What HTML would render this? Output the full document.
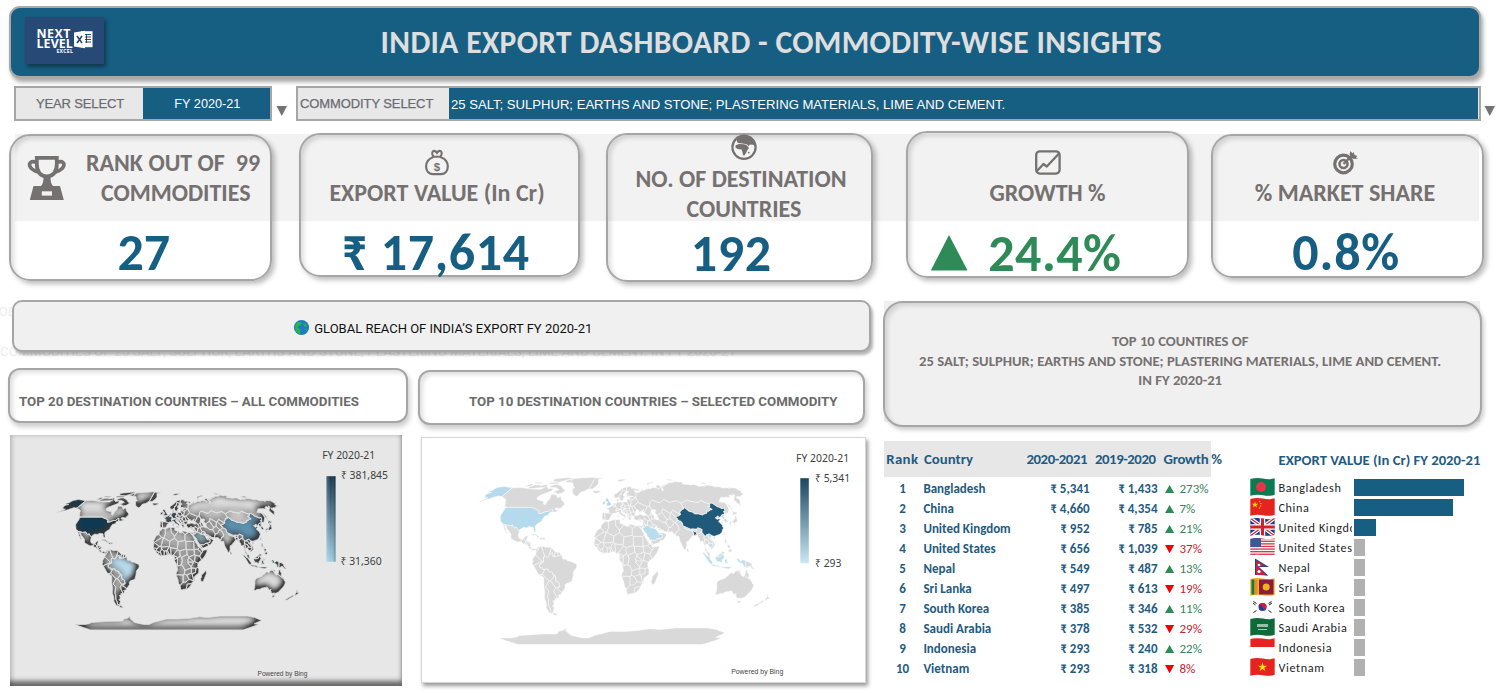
<!DOCTYPE html>
<html><head><meta charset="utf-8"><title>India Export Dashboard</title>
<style>
html,body{margin:0;padding:0;}
body{width:1503px;height:693px;position:relative;overflow:hidden;background:#fff;font-family:Carlito, "Liberation Sans", sans-serif;}
.t{position:absolute;white-space:nowrap;}
.b{position:absolute;box-sizing:border-box;}
</style></head><body>
<div class="b" style="left:9px;top:6.3px;width:1472px;height:71.4px;background:#175e83;border:2px solid #a9a9a9;border-radius:11px;box-shadow:2px 4px 4px rgba(0,0,0,.35);"></div>
<div class="b" style="left:25px;top:17px;width:79px;height:47px;background:#264a75;box-shadow:2px 3px 4px rgba(0,0,0,.4);"></div>
<div class="t " style="left:36.5px;top:27.5px;font-size:12.4px;line-height:12.4px;color:#fff;font-weight:700;font-family:'Open Sans', Carlito, sans-serif;letter-spacing:0.5px;">NEXT</div>
<div class="t " style="left:36.5px;top:37.5px;font-size:12.4px;line-height:12.4px;color:#fff;font-weight:700;font-family:'Open Sans', Carlito, sans-serif;letter-spacing:0.1px;">LEVEL</div>
<div class="t " style="left:56.5px;top:48.8px;font-size:5.2px;line-height:5.2px;color:#fff;font-weight:700;font-family:'Open Sans', Carlito, sans-serif;letter-spacing:0.2px;">EXCEL</div>
<svg class="b" style="left:73px;top:30px" width="21" height="19" viewBox="0 0 21 19">
<path d="M8 1.2 L19.5 1.2 L19.5 17.2 L8 17.2 Z" fill="#fff"/>
<path d="M10.5 4.5h7.5M10.5 7h7.5M10.5 9.5h7.5M10.5 12h7.5M13.5 4v9" stroke="#264a75" stroke-width="1"/>
<path d="M1 2.5 L12 0.8 L12 18.2 L1 16.6 Z" fill="#fff"/>
<path d="M4 6 L9 13 M9 6 L4 13" stroke="#264a75" stroke-width="1.6"/>
</svg>
<div class="t " style="left:380.6px;top:26.7px;font-size:31.5px;line-height:31.5px;color:#dedede;font-weight:700;letter-spacing:0.33px;">INDIA EXPORT DASHBOARD - COMMODITY-WISE INSIGHTS</div>
<div class="b" style="left:14px;top:86px;width:258px;height:35px;background:#e8e8e8;border:2px solid #a6a6a6;box-sizing:border-box;"></div>
<div class="b" style="left:143px;top:88px;width:127px;height:31px;background:#175e83;"></div>
<div class="t " style="left:36.0px;top:97.0px;font-size:13px;line-height:13px;color:#6b6c71;font-weight:400;font-family:'Liberation Sans', sans-serif;letter-spacing:-0.15px;-webkit-text-stroke:0.25px #6b6c71;">YEAR SELECT</div>
<div class="t" style="left:147.4px;width:120px;text-align:center;top:97.8px;font-size:12.7px;line-height:12.7px;color:#fff;font-weight:400;font-family:'Liberation Sans', sans-serif;">FY 2020-21</div>
<svg class="b" style="left:276px;top:105px" width="12" height="12"><path d="M0.5 1 L11 1 L5.75 11 Z" fill="#737373"/></svg>
<div class="b" style="left:296px;top:86px;width:1185px;height:35px;background:#e8e8e8;border:2px solid #a6a6a6;box-sizing:border-box;"></div>
<div class="b" style="left:449px;top:88px;width:1029px;height:31px;background:#175e83;"></div>
<div class="t " style="left:300.0px;top:97.0px;font-size:13px;line-height:13px;color:#6b6c71;font-weight:400;font-family:'Liberation Sans', sans-serif;letter-spacing:-0.1px;-webkit-text-stroke:0.25px #6b6c71;">COMMODITY SELECT</div>
<div class="t " style="left:451.0px;top:97.5px;font-size:13.1px;line-height:13.1px;color:#fff;font-weight:400;font-family:'Liberation Sans', sans-serif;">25 SALT; SULPHUR; EARTHS AND STONE; PLASTERING MATERIALS, LIME AND CEMENT.</div>
<svg class="b" style="left:1484px;top:105px" width="12" height="12"><path d="M0.5 1 L11 1 L5.75 11 Z" fill="#737373"/></svg>
<div class="b" style="left:15px;top:134px;width:1464px;height:87px;background:#f2f2f2;"></div>
<div class="b" style="left:9px;top:134px;width:263px;height:147px;border:2px solid #a6a6a6;border-radius:21px;box-sizing:border-box;box-shadow:inset 3px 3px 4px rgba(0,0,0,.13), 3px 3px 5px rgba(0,0,0,.26);"></div>
<div class="b" style="left:299px;top:132.5px;width:281px;height:144px;border:2px solid #a6a6a6;border-radius:21px;box-sizing:border-box;box-shadow:inset 3px 3px 4px rgba(0,0,0,.13), 3px 3px 5px rgba(0,0,0,.26);"></div>
<div class="b" style="left:606px;top:133px;width:267px;height:149px;border:2px solid #a6a6a6;border-radius:21px;box-sizing:border-box;box-shadow:inset 3px 3px 4px rgba(0,0,0,.13), 3px 3px 5px rgba(0,0,0,.26);"></div>
<div class="b" style="left:906px;top:131px;width:282.5px;height:147px;border:2px solid #a6a6a6;border-radius:21px;box-sizing:border-box;box-shadow:inset 3px 3px 4px rgba(0,0,0,.13), 3px 3px 5px rgba(0,0,0,.26);"></div>
<div class="b" style="left:1210.5px;top:133.5px;width:273.5px;height:144px;border:2px solid #a6a6a6;border-radius:21px;box-sizing:border-box;box-shadow:inset 3px 3px 4px rgba(0,0,0,.13), 3px 3px 5px rgba(0,0,0,.26);"></div>
<div class="t " style="left:86.0px;top:150.5px;font-size:24px;line-height:24px;color:#767171;font-weight:700;">RANK OUT OF&nbsp; 99</div>
<div class="t " style="left:101.0px;top:180.8px;font-size:24px;line-height:24px;color:#767171;font-weight:700;">COMMODITIES</div>
<div class="t " style="left:117.5px;top:225.7px;font-size:52px;line-height:52px;color:#175e83;font-weight:700;">27</div>
<div class="t" style="left:137.0px;width:600px;text-align:center;top:181.0px;font-size:24px;line-height:24px;color:#767171;font-weight:700;">EXPORT VALUE (In Cr)</div>
<div class="t " style="left:341.5px;top:225.6px;font-size:52px;line-height:52px;color:#175e83;font-weight:700;letter-spacing:0.6px;">₹ 17,614</div>
<div class="t" style="left:441.0px;width:600px;text-align:center;top:166.5px;font-size:24px;line-height:24px;color:#767171;font-weight:700;">NO. OF DESTINATION</div>
<div class="t" style="left:444.0px;width:600px;text-align:center;top:196.8px;font-size:24px;line-height:24px;color:#767171;font-weight:700;">COUNTRIES</div>
<div class="t " style="left:690.8px;top:227.0px;font-size:52px;line-height:52px;color:#175e83;font-weight:700;letter-spacing:0.6px;">192</div>
<div class="t" style="left:747.5px;width:600px;text-align:center;top:181.3px;font-size:24px;line-height:24px;color:#767171;font-weight:700;">GROWTH %</div>
<svg class="b" style="left:930px;top:234px" width="39" height="38"><path d="M0.8 36.6 L19 1 L37.6 36.6 Z" fill="#2e8b57"/></svg>
<div class="t " style="left:988.3px;top:226.9px;font-size:52px;line-height:52px;color:#2e8b57;font-weight:700;letter-spacing:0.45px;">24.4%</div>
<div class="t" style="left:1045.0px;width:600px;text-align:center;top:181.4px;font-size:24px;line-height:24px;color:#767171;font-weight:700;">% MARKET SHARE</div>
<div class="t " style="left:1292.3px;top:226.3px;font-size:52px;line-height:52px;color:#175e83;font-weight:700;letter-spacing:0.8px;">0.8%</div>
<svg class="b" style="left:24px;top:150px" width="48" height="54" viewBox="0 0 48 54">
<path d="M12.8 7.8 H32.8 V14 C32.8 22 29 26 22.8 26.5 C16.6 26 12.8 22 12.8 14 Z" fill="none" stroke="#767171" stroke-width="3.8"/>
<path d="M12.5 12.3 C7 10.3 4.5 13 6 16.5 C7.3 19.5 10.5 20.8 14 22" fill="none" stroke="#767171" stroke-width="3.6"/>
<path d="M33 12.3 C38.5 10.3 41 13 39.5 16.5 C38.2 19.5 35 20.8 31.5 22" fill="none" stroke="#767171" stroke-width="3.6"/>
<path d="M19.5 27 L26.5 27 C26.5 31 27 34 29 36 L17 36 C19 34 19.5 31 19.5 27 Z" fill="#767171"/>
<path d="M9.5 36 L36 36 L39.8 50 L5.8 50 Z" fill="#767171"/>
<rect x="17.8" y="41.3" width="10.2" height="4.3" fill="#f2f2f2"/>
</svg>
<svg class="b" style="left:420px;top:146px" width="34" height="32" viewBox="0 0 34 32">
<path d="M13.6 11 C8.6 12.6 6.1 16.6 6.1 20.6 C6.1 25.6 9.3 28.2 13 28.2 L21 28.2 C24.7 28.2 27.8 25.6 27.8 20.6 C27.8 16.6 25.3 12.6 20.3 11" fill="none" stroke="#767171" stroke-width="2.2"/>
<path d="M13 10.7 L21 10.7 M13.4 10.5 C11.6 8.2 11.8 5.2 14 4.9 C15.5 4.7 16.3 5.9 16.95 6.9 C17.6 5.9 18.4 4.7 19.9 4.9 C22.1 5.2 22.3 8.2 20.5 10.5" fill="none" stroke="#767171" stroke-width="2.1"/>
<text x="16.9" y="25.3" font-family="Liberation Sans, sans-serif" font-weight="700" font-size="11.5" fill="#767171" text-anchor="middle">$</text>
</svg>
<svg class="b" style="left:726px;top:131px" width="36" height="32" viewBox="0 0 36 32">
<circle cx="18" cy="16.3" r="11.6" fill="#f4f4f4" stroke="#767171" stroke-width="2.2"/>
<path d="M10.5 8.5 C13 6 16 5 19 5 C23 5 26 6.5 28 9 C28.8 11 29 13 28.5 14 L24 13.5 L22.5 15 L20.8 13.2 L16.5 12.5 L12 12 L11 10.5 Z" fill="#767171"/>
<path d="M9.6 14.2 L13 13 L18 13.3 L20.5 14 L23 17 L21.5 19 L20 22 L18.5 24.5 L17 24.2 L16.3 20.5 L15.5 18.5 L11.5 18 L9.4 16.5 Z" fill="#767171"/>
<circle cx="22.8" cy="21.6" r="0.9" fill="#767171"/>
</svg>
<svg class="b" style="left:1030px;top:146px" width="36" height="32" viewBox="0 0 36 32">
<rect x="6.2" y="5.3" width="23.4" height="22.3" rx="3.6" fill="none" stroke="#767171" stroke-width="2.3"/>
<path d="M6.5 25.5 L13.5 18 L16.8 20.5 L29 7.5" fill="none" stroke="#767171" stroke-width="2.3" stroke-linejoin="round"/>
</svg>
<svg class="b" style="left:1328px;top:146px" width="36" height="32" viewBox="0 0 36 32">
<circle cx="15.5" cy="18" r="8.8" fill="none" stroke="#767171" stroke-width="3.2"/>
<circle cx="15.5" cy="18" r="4" fill="none" stroke="#767171" stroke-width="2.6"/>
<path d="M15.5 18 L24 9.5" stroke="#767171" stroke-width="2.4"/>
<path d="M21.5 8.5 L22.5 5 L24.5 7.5 L25.5 5.8 L26.5 9 L29.5 10 L27.8 11.3 L30 12.5 L26 13 L23.5 12 Z" fill="#767171"/>
</svg>
<div class="t " style="left:-17.5px;top:305.2px;font-size:13.5px;line-height:13.5px;color:#ededed;font-weight:400;font-family:Roboto, sans-serif;">GLOBAL REACH OF INDIA</div>
<div class="t " style="left:0.0px;top:345.3px;font-size:13.5px;line-height:13.5px;color:#ededed;font-weight:400;font-family:Roboto, sans-serif;">COMMODITIES OF 25 SALT; SULPHUR; EARTHS AND STONE; PLASTERING MATERIALS, LIME AND CEMENT. IN FY 2020-21</div>
<div class="b" style="left:12.3px;top:300px;width:859px;height:52.3px;background:#f0f0f0;border:2px solid #a6a6a6;border-radius:10px;box-sizing:border-box;box-shadow:2px 3px 3px rgba(0,0,0,.3);"></div>
<svg class="b" style="left:293px;top:319px" width="17" height="17" viewBox="0 0 17 17">
<circle cx="8.5" cy="8.5" r="7.6" fill="#1b7bc4"/>
<path d="M4 3.5 C6 2.5 8 3 9 4 L8 6 L6 6.5 L4.5 8.5 L6.5 9.5 L7.5 12 L7 15.5 C5 15 3.2 13 2.5 11 L2 8 C2.2 6 3 4.5 4 3.5 Z" fill="#2eb34a"/>
<path d="M10 5 L12.5 4.5 L14 6.5 L13 8 L11.5 7.5 Z M12 10 L14 9.5 L13.5 12 Z" fill="#2eb34a"/>
</svg>
<div class="t " style="left:314.2px;top:322.3px;font-size:13px;line-height:13px;color:#111;font-weight:400;font-family:Roboto, sans-serif;">GLOBAL REACH OF INDIA’S EXPORT FY 2020-21</div>
<div class="b" style="left:8px;top:368.3px;width:400px;height:55.2px;background:#fff;border:2px solid #a6a6a6;border-radius:12px;box-sizing:border-box;box-shadow:inset 3px 3px 4px rgba(0,0,0,.12), 2px 4px 5px rgba(0,0,0,.2);"></div>
<div class="t " style="left:19.0px;top:394.7px;font-size:13.3px;line-height:13.3px;color:#6b6b6b;font-weight:700;font-family:Roboto, sans-serif;">TOP 20 DESTINATION COUNTRIES – ALL COMMODITIES</div>
<div class="b" style="left:418.2px;top:370.2px;width:446.5px;height:55.2px;background:#fff;border:2px solid #a6a6a6;border-radius:12px;box-sizing:border-box;box-shadow:inset 3px 3px 4px rgba(0,0,0,.12), 2px 4px 5px rgba(0,0,0,.2);"></div>
<div class="t " style="left:469.0px;top:394.9px;font-size:13.3px;line-height:13.3px;color:#6b6b6b;font-weight:700;font-family:Roboto, sans-serif;">TOP 10 DESTINATION COUNTRIES – SELECTED COMMODITY</div>
<div class="b" style="left:883.5px;top:300.5px;width:596px;height:121px;background:#f0f0f0;"></div>
<div class="b" style="left:883.3px;top:300.6px;width:598.5px;height:126.2px;background:#f0f0f0;border:2px solid #a6a6a6;border-radius:20px;box-sizing:border-box;box-shadow:inset 3px 3px 4px rgba(0,0,0,.12), 2px 3px 4px rgba(0,0,0,.2);"></div>
<div class="t" style="left:900.2px;width:560px;text-align:center;top:333.9px;font-size:14.7px;line-height:14.7px;color:#767171;font-weight:700;">TOP 10 COUNTIRES OF</div>
<div class="t" style="left:885.2px;width:590px;text-align:center;top:354.0px;font-size:14.7px;line-height:14.7px;color:#767171;font-weight:700;">25 SALT; SULPHUR; EARTHS AND STONE; PLASTERING MATERIALS, LIME AND CEMENT.</div>
<div class="t" style="left:900.2px;width:560px;text-align:center;top:373.3px;font-size:14.7px;line-height:14.7px;color:#767171;font-weight:700;">IN FY 2020-21</div>
<div class="b" style="left:884px;top:441px;width:327px;height:36px;background:#e7e7e7;"></div>
<div class="t " style="left:886.2px;top:451.6px;font-size:14.8px;line-height:14.8px;color:#1f5b82;font-weight:700;letter-spacing:0.4px;">Rank</div>
<div class="t " style="left:924.0px;top:451.6px;font-size:14.8px;line-height:14.8px;color:#1f5b82;font-weight:700;">Country</div>
<div class="t " style="left:1026.5px;top:451.6px;font-size:14.8px;line-height:14.8px;color:#1f5b82;font-weight:700;letter-spacing:-0.45px;">2020-2021</div>
<div class="t " style="left:1095.0px;top:451.6px;font-size:14.8px;line-height:14.8px;color:#1f5b82;font-weight:700;letter-spacing:-0.45px;">2019-2020</div>
<div class="t " style="left:1163.5px;top:451.6px;font-size:14.8px;line-height:14.8px;color:#1f5b82;font-weight:700;letter-spacing:-0.3px;">Growth %</div>
<div class="t" style="left:887.6px;width:30px;text-align:center;top:481.8px;font-size:13px;line-height:13px;color:#1f5b82;font-weight:700;">1</div>
<div class="t " style="left:923.4px;top:481.8px;font-size:13px;line-height:13px;color:#1f5b82;font-weight:700;">Bangladesh</div>
<div class="t" style="left:889.6px;width:200px;text-align:right;top:481.8px;font-size:13px;line-height:13px;color:#1f5b82;font-weight:700;">₹ 5,341</div>
<div class="t" style="left:957.5px;width:200px;text-align:right;top:481.8px;font-size:13px;line-height:13px;color:#1f5b82;font-weight:700;">₹ 1,433</div>
<svg class="b" style="left:1164.8px;top:485.0px" width="10" height="9"><path d="M0 8 L4.6 0 L9.2 8 Z" fill="#2e8b57"/></svg>
<div class="t " style="left:1179.5px;top:481.8px;font-size:13px;line-height:13px;color:#3d7f5b;font-weight:400;">273%</div>
<div class="t" style="left:887.6px;width:30px;text-align:center;top:501.8px;font-size:13px;line-height:13px;color:#1f5b82;font-weight:700;">2</div>
<div class="t " style="left:923.4px;top:501.8px;font-size:13px;line-height:13px;color:#1f5b82;font-weight:700;">China</div>
<div class="t" style="left:889.6px;width:200px;text-align:right;top:501.8px;font-size:13px;line-height:13px;color:#1f5b82;font-weight:700;">₹ 4,660</div>
<div class="t" style="left:957.5px;width:200px;text-align:right;top:501.8px;font-size:13px;line-height:13px;color:#1f5b82;font-weight:700;">₹ 4,354</div>
<svg class="b" style="left:1164.8px;top:505.0px" width="10" height="9"><path d="M0 8 L4.6 0 L9.2 8 Z" fill="#2e8b57"/></svg>
<div class="t " style="left:1179.5px;top:501.8px;font-size:13px;line-height:13px;color:#3d7f5b;font-weight:400;">7%</div>
<div class="t" style="left:887.6px;width:30px;text-align:center;top:521.8px;font-size:13px;line-height:13px;color:#1f5b82;font-weight:700;">3</div>
<div class="t " style="left:923.4px;top:521.8px;font-size:13px;line-height:13px;color:#1f5b82;font-weight:700;">United Kingdom</div>
<div class="t" style="left:889.6px;width:200px;text-align:right;top:521.8px;font-size:13px;line-height:13px;color:#1f5b82;font-weight:700;">₹ 952</div>
<div class="t" style="left:957.5px;width:200px;text-align:right;top:521.8px;font-size:13px;line-height:13px;color:#1f5b82;font-weight:700;">₹ 785</div>
<svg class="b" style="left:1164.8px;top:525.0px" width="10" height="9"><path d="M0 8 L4.6 0 L9.2 8 Z" fill="#2e8b57"/></svg>
<div class="t " style="left:1179.5px;top:521.8px;font-size:13px;line-height:13px;color:#3d7f5b;font-weight:400;">21%</div>
<div class="t" style="left:887.6px;width:30px;text-align:center;top:541.8px;font-size:13px;line-height:13px;color:#1f5b82;font-weight:700;">4</div>
<div class="t " style="left:923.4px;top:541.8px;font-size:13px;line-height:13px;color:#1f5b82;font-weight:700;">United States</div>
<div class="t" style="left:889.6px;width:200px;text-align:right;top:541.8px;font-size:13px;line-height:13px;color:#1f5b82;font-weight:700;">₹ 656</div>
<div class="t" style="left:957.5px;width:200px;text-align:right;top:541.8px;font-size:13px;line-height:13px;color:#1f5b82;font-weight:700;">₹ 1,039</div>
<svg class="b" style="left:1164.8px;top:544.5px" width="10" height="9"><path d="M0 0 L9.2 0 L4.6 8.2 Z" fill="#ee0000"/></svg>
<div class="t " style="left:1179.5px;top:541.8px;font-size:13px;line-height:13px;color:#c8202a;font-weight:400;">37%</div>
<div class="t" style="left:887.6px;width:30px;text-align:center;top:561.8px;font-size:13px;line-height:13px;color:#1f5b82;font-weight:700;">5</div>
<div class="t " style="left:923.4px;top:561.8px;font-size:13px;line-height:13px;color:#1f5b82;font-weight:700;">Nepal</div>
<div class="t" style="left:889.6px;width:200px;text-align:right;top:561.8px;font-size:13px;line-height:13px;color:#1f5b82;font-weight:700;">₹ 549</div>
<div class="t" style="left:957.5px;width:200px;text-align:right;top:561.8px;font-size:13px;line-height:13px;color:#1f5b82;font-weight:700;">₹ 487</div>
<svg class="b" style="left:1164.8px;top:565.0px" width="10" height="9"><path d="M0 8 L4.6 0 L9.2 8 Z" fill="#2e8b57"/></svg>
<div class="t " style="left:1179.5px;top:561.8px;font-size:13px;line-height:13px;color:#3d7f5b;font-weight:400;">13%</div>
<div class="t" style="left:887.6px;width:30px;text-align:center;top:581.8px;font-size:13px;line-height:13px;color:#1f5b82;font-weight:700;">6</div>
<div class="t " style="left:923.4px;top:581.8px;font-size:13px;line-height:13px;color:#1f5b82;font-weight:700;">Sri Lanka</div>
<div class="t" style="left:889.6px;width:200px;text-align:right;top:581.8px;font-size:13px;line-height:13px;color:#1f5b82;font-weight:700;">₹ 497</div>
<div class="t" style="left:957.5px;width:200px;text-align:right;top:581.8px;font-size:13px;line-height:13px;color:#1f5b82;font-weight:700;">₹ 613</div>
<svg class="b" style="left:1164.8px;top:584.5px" width="10" height="9"><path d="M0 0 L9.2 0 L4.6 8.2 Z" fill="#ee0000"/></svg>
<div class="t " style="left:1179.5px;top:581.8px;font-size:13px;line-height:13px;color:#c8202a;font-weight:400;">19%</div>
<div class="t" style="left:887.6px;width:30px;text-align:center;top:601.8px;font-size:13px;line-height:13px;color:#1f5b82;font-weight:700;">7</div>
<div class="t " style="left:923.4px;top:601.8px;font-size:13px;line-height:13px;color:#1f5b82;font-weight:700;">South Korea</div>
<div class="t" style="left:889.6px;width:200px;text-align:right;top:601.8px;font-size:13px;line-height:13px;color:#1f5b82;font-weight:700;">₹ 385</div>
<div class="t" style="left:957.5px;width:200px;text-align:right;top:601.8px;font-size:13px;line-height:13px;color:#1f5b82;font-weight:700;">₹ 346</div>
<svg class="b" style="left:1164.8px;top:605.0px" width="10" height="9"><path d="M0 8 L4.6 0 L9.2 8 Z" fill="#2e8b57"/></svg>
<div class="t " style="left:1179.5px;top:601.8px;font-size:13px;line-height:13px;color:#3d7f5b;font-weight:400;">11%</div>
<div class="t" style="left:887.6px;width:30px;text-align:center;top:621.8px;font-size:13px;line-height:13px;color:#1f5b82;font-weight:700;">8</div>
<div class="t " style="left:923.4px;top:621.8px;font-size:13px;line-height:13px;color:#1f5b82;font-weight:700;">Saudi Arabia</div>
<div class="t" style="left:889.6px;width:200px;text-align:right;top:621.8px;font-size:13px;line-height:13px;color:#1f5b82;font-weight:700;">₹ 378</div>
<div class="t" style="left:957.5px;width:200px;text-align:right;top:621.8px;font-size:13px;line-height:13px;color:#1f5b82;font-weight:700;">₹ 532</div>
<svg class="b" style="left:1164.8px;top:624.5px" width="10" height="9"><path d="M0 0 L9.2 0 L4.6 8.2 Z" fill="#ee0000"/></svg>
<div class="t " style="left:1179.5px;top:621.8px;font-size:13px;line-height:13px;color:#c8202a;font-weight:400;">29%</div>
<div class="t" style="left:887.6px;width:30px;text-align:center;top:641.8px;font-size:13px;line-height:13px;color:#1f5b82;font-weight:700;">9</div>
<div class="t " style="left:923.4px;top:641.8px;font-size:13px;line-height:13px;color:#1f5b82;font-weight:700;">Indonesia</div>
<div class="t" style="left:889.6px;width:200px;text-align:right;top:641.8px;font-size:13px;line-height:13px;color:#1f5b82;font-weight:700;">₹ 293</div>
<div class="t" style="left:957.5px;width:200px;text-align:right;top:641.8px;font-size:13px;line-height:13px;color:#1f5b82;font-weight:700;">₹ 240</div>
<svg class="b" style="left:1164.8px;top:645.0px" width="10" height="9"><path d="M0 8 L4.6 0 L9.2 8 Z" fill="#2e8b57"/></svg>
<div class="t " style="left:1179.5px;top:641.8px;font-size:13px;line-height:13px;color:#3d7f5b;font-weight:400;">22%</div>
<div class="t" style="left:887.6px;width:30px;text-align:center;top:661.8px;font-size:13px;line-height:13px;color:#1f5b82;font-weight:700;">10</div>
<div class="t " style="left:923.4px;top:661.8px;font-size:13px;line-height:13px;color:#1f5b82;font-weight:700;">Vietnam</div>
<div class="t" style="left:889.6px;width:200px;text-align:right;top:661.8px;font-size:13px;line-height:13px;color:#1f5b82;font-weight:700;">₹ 293</div>
<div class="t" style="left:957.5px;width:200px;text-align:right;top:661.8px;font-size:13px;line-height:13px;color:#1f5b82;font-weight:700;">₹ 318</div>
<svg class="b" style="left:1164.8px;top:664.5px" width="10" height="9"><path d="M0 0 L9.2 0 L4.6 8.2 Z" fill="#ee0000"/></svg>
<div class="t " style="left:1179.5px;top:661.8px;font-size:13px;line-height:13px;color:#c8202a;font-weight:400;">8%</div>
<div class="t " style="left:1278.5px;top:452.5px;font-size:14.7px;line-height:14.7px;color:#1f5b82;font-weight:700;">EXPORT VALUE (In Cr) FY 2020-21</div>
<div class="t" style="left:1278.5px;top:481.7px;width:73px;overflow:hidden;font-size:12.2px;line-height:12.2px;color:#1e1e1e;letter-spacing:0.6px;">Bangladesh</div>
<div class="b" style="left:1354px;top:479px;width:110px;height:16.5px;background:#175e83;"></div>
<div class="t" style="left:1278.5px;top:501.7px;width:73px;overflow:hidden;font-size:12.2px;line-height:12.2px;color:#1e1e1e;letter-spacing:0.6px;">China</div>
<div class="b" style="left:1354px;top:499px;width:99px;height:16.5px;background:#175e83;"></div>
<div class="t" style="left:1278.5px;top:521.7px;width:73px;overflow:hidden;font-size:12.2px;line-height:12.2px;color:#1e1e1e;letter-spacing:0.6px;">United Kingdom</div>
<div class="b" style="left:1354px;top:519px;width:22px;height:16.5px;background:#175e83;"></div>
<div class="t" style="left:1278.5px;top:541.7px;width:73px;overflow:hidden;font-size:12.2px;line-height:12.2px;color:#1e1e1e;letter-spacing:0.6px;">United States</div>
<div class="b" style="left:1354px;top:539px;width:11px;height:16.5px;background:#b1b1b1;"></div>
<div class="t" style="left:1278.5px;top:561.7px;width:73px;overflow:hidden;font-size:12.2px;line-height:12.2px;color:#1e1e1e;letter-spacing:0.6px;">Nepal</div>
<div class="b" style="left:1354px;top:559px;width:11px;height:16.5px;background:#b1b1b1;"></div>
<div class="t" style="left:1278.5px;top:581.7px;width:73px;overflow:hidden;font-size:12.2px;line-height:12.2px;color:#1e1e1e;letter-spacing:0.6px;">Sri Lanka</div>
<div class="b" style="left:1354px;top:579px;width:11px;height:16.5px;background:#b1b1b1;"></div>
<div class="t" style="left:1278.5px;top:601.7px;width:73px;overflow:hidden;font-size:12.2px;line-height:12.2px;color:#1e1e1e;letter-spacing:0.6px;">South Korea</div>
<div class="b" style="left:1354px;top:599px;width:11px;height:16.5px;background:#b1b1b1;"></div>
<div class="t" style="left:1278.5px;top:621.7px;width:73px;overflow:hidden;font-size:12.2px;line-height:12.2px;color:#1e1e1e;letter-spacing:0.6px;">Saudi Arabia</div>
<div class="b" style="left:1354px;top:619px;width:11px;height:16.5px;background:#b1b1b1;"></div>
<div class="t" style="left:1278.5px;top:641.7px;width:73px;overflow:hidden;font-size:12.2px;line-height:12.2px;color:#1e1e1e;letter-spacing:0.6px;">Indonesia</div>
<div class="b" style="left:1354px;top:639px;width:11px;height:16.5px;background:#b1b1b1;"></div>
<div class="t" style="left:1278.5px;top:661.7px;width:73px;overflow:hidden;font-size:12.2px;line-height:12.2px;color:#1e1e1e;letter-spacing:0.6px;">Vietnam</div>
<div class="b" style="left:1354px;top:659px;width:11px;height:16.5px;background:#b1b1b1;"></div>
<svg class="b" style="left:1250px;top:478.4px" width="25" height="18" viewBox="0 0 25 18"><defs><clipPath id="fc0"><path d="M0.3 1.0 C5 -0.2 9 -0.2 13 0.6 C17 1.4 21 1.4 24.7 0.3 L24.7 16.8 C21 18.1 17 18.1 13 17.3 C9 16.5 5 16.5 0.3 17.8 Z"/></clipPath></defs><g clip-path="url(#fc0)"><rect width="25" height="18" fill="#0a7a50"/><circle cx="11" cy="9" r="5" fill="#e8344a"/></g></svg>
<svg class="b" style="left:1250px;top:498.4px" width="25" height="18" viewBox="0 0 25 18"><defs><clipPath id="fc1"><path d="M0.3 1.0 C5 -0.2 9 -0.2 13 0.6 C17 1.4 21 1.4 24.7 0.3 L24.7 16.8 C21 18.1 17 18.1 13 17.3 C9 16.5 5 16.5 0.3 17.8 Z"/></clipPath></defs><g clip-path="url(#fc1)"><rect width="25" height="18" fill="#e5241f"/><polygon points="5,3.5 5.8,5.8 8.2,5.8 6.3,7.2 7,9.5 5,8.1 3,9.5 3.7,7.2 1.8,5.8 4.2,5.8" fill="#ffd500"/><circle cx="9.5" cy="3.5" r="0.7" fill="#ffd500"/><circle cx="10.8" cy="5.5" r="0.7" fill="#ffd500"/><circle cx="10.8" cy="8" r="0.7" fill="#ffd500"/><circle cx="9.5" cy="10" r="0.7" fill="#ffd500"/></g></svg>
<svg class="b" style="left:1250px;top:518.4px" width="25" height="18" viewBox="0 0 25 18"><defs><clipPath id="fc2"><path d="M0.3 1.0 C5 -0.2 9 -0.2 13 0.6 C17 1.4 21 1.4 24.7 0.3 L24.7 16.8 C21 18.1 17 18.1 13 17.3 C9 16.5 5 16.5 0.3 17.8 Z"/></clipPath></defs><g clip-path="url(#fc2)"><rect width="25" height="18" fill="#1f3a8a"/><path d="M0 0 L25 18 M25 0 L0 18" stroke="#fff" stroke-width="3.6"/><path d="M0 0 L25 18 M25 0 L0 18" stroke="#d0202a" stroke-width="1.2"/><path d="M12.5 0 V18 M0 9 H25" stroke="#fff" stroke-width="5.5"/><path d="M12.5 0 V18 M0 9 H25" stroke="#d0202a" stroke-width="3"/></g></svg>
<svg class="b" style="left:1250px;top:538.4px" width="25" height="18" viewBox="0 0 25 18"><defs><clipPath id="fc3"><path d="M0.3 1.0 C5 -0.2 9 -0.2 13 0.6 C17 1.4 21 1.4 24.7 0.3 L24.7 16.8 C21 18.1 17 18.1 13 17.3 C9 16.5 5 16.5 0.3 17.8 Z"/></clipPath></defs><g clip-path="url(#fc3)"><rect width="25" height="18" fill="#fff"/><rect y="0.0" width="25" height="1.35" fill="#d43a4a"/><rect y="2.6" width="25" height="1.35" fill="#d43a4a"/><rect y="5.2" width="25" height="1.35" fill="#d43a4a"/><rect y="7.8" width="25" height="1.35" fill="#d43a4a"/><rect y="10.4" width="25" height="1.35" fill="#d43a4a"/><rect y="13.0" width="25" height="1.35" fill="#d43a4a"/><rect y="15.6" width="25" height="1.35" fill="#d43a4a"/><rect width="11" height="9" fill="#3b5998"/></g></svg>
<svg class="b" style="left:1250px;top:558.4px" width="25" height="18" viewBox="0 0 25 18"><defs><clipPath id="fc4"><path d="M0.3 1.0 C5 -0.2 9 -0.2 13 0.6 C17 1.4 21 1.4 24.7 0.3 L24.7 16.8 C21 18.1 17 18.1 13 17.3 C9 16.5 5 16.5 0.3 17.8 Z"/></clipPath></defs><g clip-path="url(#fc4)"><rect width="25" height="18" fill="#fff"/><path d="M5 0.5 L19 9 L9 9 L18.5 17.8 L5 17.8 Z" fill="#1f3f9a"/><path d="M6 2.3 L16 8.3 L7.5 8.3 L16 17 L6 17 Z" fill="#d21f3c"/><circle cx="9" cy="7" r="1.3" fill="#fff"/><circle cx="9" cy="13.5" r="1.6" fill="#fff"/></g></svg>
<svg class="b" style="left:1250px;top:578.4px" width="25" height="18" viewBox="0 0 25 18"><defs><clipPath id="fc5"><path d="M0.3 1.0 C5 -0.2 9 -0.2 13 0.6 C17 1.4 21 1.4 24.7 0.3 L24.7 16.8 C21 18.1 17 18.1 13 17.3 C9 16.5 5 16.5 0.3 17.8 Z"/></clipPath></defs><g clip-path="url(#fc5)"><rect width="25" height="18" fill="#f2b01e"/><rect x="1.5" y="1.5" width="3" height="15" fill="#0a7a50"/><rect x="4.5" y="1.5" width="3" height="15" fill="#f08a1d"/><rect x="9" y="1.5" width="14.5" height="15" fill="#8d1b3d"/><circle cx="16.2" cy="9" r="3.5" fill="#f2b01e"/></g></svg>
<svg class="b" style="left:1250px;top:598.4px" width="25" height="18" viewBox="0 0 25 18"><defs><clipPath id="fc6"><path d="M0.3 1.0 C5 -0.2 9 -0.2 13 0.6 C17 1.4 21 1.4 24.7 0.3 L24.7 16.8 C21 18.1 17 18.1 13 17.3 C9 16.5 5 16.5 0.3 17.8 Z"/></clipPath></defs><g clip-path="url(#fc6)"><rect width="25" height="18" fill="#fff" stroke="#ddd" stroke-width="0.6"/><circle cx="12.5" cy="9" r="4" fill="#1f3f9a"/><path d="M8.5 9 A4 4 0 0 1 16.5 9 A2 2 0 0 1 12.5 9 A2 2 0 0 0 8.5 9 Z" fill="#d21f3c"/><path d="M3.5 3.5 L6.5 5.5 M3 5 L5.5 7 M18.5 5.5 L21.5 3.5 M19 7 L22 5 M3.5 14.5 L6.5 12.5 M18.5 12.5 L21.5 14.5" stroke="#222" stroke-width="1"/></g></svg>
<svg class="b" style="left:1250px;top:618.4px" width="25" height="18" viewBox="0 0 25 18"><defs><clipPath id="fc7"><path d="M0.3 1.0 C5 -0.2 9 -0.2 13 0.6 C17 1.4 21 1.4 24.7 0.3 L24.7 16.8 C21 18.1 17 18.1 13 17.3 C9 16.5 5 16.5 0.3 17.8 Z"/></clipPath></defs><g clip-path="url(#fc7)"><rect width="25" height="18" fill="#0d6b3a"/><rect x="7" y="6" width="11" height="3" fill="#b9d5c5" opacity="0.8"/><rect x="8" y="11" width="9" height="0.8" fill="#cfe3d7"/></g></svg>
<svg class="b" style="left:1250px;top:638.4px" width="25" height="18" viewBox="0 0 25 18"><defs><clipPath id="fc8"><path d="M0.3 1.0 C5 -0.2 9 -0.2 13 0.6 C17 1.4 21 1.4 24.7 0.3 L24.7 16.8 C21 18.1 17 18.1 13 17.3 C9 16.5 5 16.5 0.3 17.8 Z"/></clipPath></defs><g clip-path="url(#fc8)"><rect width="25" height="18" fill="#fff"/><rect width="25" height="9" fill="#e5241f"/><rect y="0" width="25" height="18" fill="none" stroke="#ddd" stroke-width="0.6"/></g></svg>
<svg class="b" style="left:1250px;top:658.4px" width="25" height="18" viewBox="0 0 25 18"><defs><clipPath id="fc9"><path d="M0.3 1.0 C5 -0.2 9 -0.2 13 0.6 C17 1.4 21 1.4 24.7 0.3 L24.7 16.8 C21 18.1 17 18.1 13 17.3 C9 16.5 5 16.5 0.3 17.8 Z"/></clipPath></defs><g clip-path="url(#fc9)"><rect width="25" height="18" fill="#e5241f"/><polygon points="12.5,4.5 13.6,7.8 17,7.8 14.3,9.8 15.3,13 12.5,11 9.7,13 10.7,9.8 8,7.8 11.4,7.8" fill="#ffe000"/></g></svg>
<div class="b" style="left:9.5px;top:435.3px;width:392.5px;height:251px;background:#e7e7e7;box-shadow:inset -3px -8px 5px -3px rgba(0,0,0,.55), inset 5px 3px 4px -3px rgba(0,0,0,.22);overflow:hidden;">
<svg width="393" height="251" viewBox="0 0 393 251" style="position:absolute;left:0;top:0"><g transform="translate(0.5 0.7)"><defs>
<filter id="inner1" x="-2%" y="-2%" width="104%" height="104%" color-interpolation-filters="sRGB">
<feComponentTransfer in="SourceAlpha" result="inv"><feFuncA type="table" tableValues="1 0"/></feComponentTransfer>
<feGaussianBlur in="inv" stdDeviation="3.4" result="blur"/>
<feOffset dx="-1.3" dy="-2.2" result="off0"/>
<feComponentTransfer in="off0" result="off"><feFuncA type="linear" slope="1.7" intercept="0"/></feComponentTransfer>
<feFlood flood-color="#353535" flood-opacity="0.92"/>
<feComposite in2="off" operator="in" result="shadow"/>
<feComposite in="shadow" in2="SourceAlpha" operator="in" result="ishadow"/>
<feMerge><feMergeNode in="SourceGraphic"/><feMergeNode in="ishadow"/></feMerge>
</filter>
<mask id="bm1" maskUnits="userSpaceOnUse" x="0" y="0" width="392" height="250"><rect width="392" height="250" fill="#fff"/><path d="M90.0 81.4l0.5-0.3l5.8 2.4l1.2 1.1l-0.5 1.9l2.3-0.2l3.5-1.5l2.4 0l2.4-2l0.9 0.2l-0.4 1.2l0.3 0.8l-2.5 0.9l-0.8 1.5l0.3 0.3l-3.3 0.9l-2.4 3.1l-0.2 1.6l-4.8 3l-0.6 1.5l0.4 3.1l-0.5 1.1l-0.6-0.1l-0.7-2.3l0.2-0.9l-0.9-0.9l-3.7-0.2l-0.6 0.9l-0.8 0.1l-2.6-0.4l-2.9 1.8l-0.4 1.3l-1.3-1.3l-1-2l-1.4 0.7l-1-0.5l-0.9-1.9l-3.6 0.4l-2.5-1l-1.8 0l-0.6-1.3l-1.3-0.6l-0.4-4.9l3.3-5.1l0.7-1.9l1.2-0.1l0.1-0.4zM65.0 72.3l-1.2-0.6l-7.7 2.7l-9.7 2.4l7.2-2.6l1.4-0.9l-3 0.1l1.2-1.1l-1-0.6l2.5-1.9l3.6-1l-2.4 0l-0.7-0.8l4.4-1.2l0-0.6l3.4-1.5l4.9-0.9l7.3 1.2l-8.6 7.3zM211.2 88.7l1.2 0.1l2.1-1.5l-0.8-2.4l1.3-0.5l-0.2-1.4l1.8 0.1l0.4-1.8l3.8 2.6l0.3 0.7l3.5 0.8l1.4 1.4l3.3 0l3.4 1l3.6-1.6l-0.2-1.5l1.8-0.1l1-1l1.8-0.5l-3.9-2.4l1.3 0.3l0.6-0.6l0.1-2.7l1.9 0.2l4 2.8l2.6 0.8l0.9 0.9l2.4-0.6l0.7 2.9l-1.4 0.2l1.2 1.6l-0.4 0.1l0.2 0.5l-2.3 0.5l-1 1.6l-1.9 0.9l0.2-1.3l-0.7-0.4l-1.2 1.3l-0.7 0.1l-0.2 0.5l1.6 1.1l0.6 0.2l0.6-0.6l1.3 0.3l0.3 0.5l-0.9 0.2l-0.7 1.6l3.1 2.8l0.3 0.7l-0.4 0.1l0.9 0.8l0.1 1.4l-0.5 0.1l-1 3.1l-1.9 1.5l-3.7 1.2l-0.1 1l-0.4 0l-0.2-1l-1.5-0.1l-2.4-1.6l-2.3 0.8l-0.2 1.1l-1.3-0.2l-1.7-2.3l-0.6 0.2l0.2-3.2l-3.5-1.5l-1.3 1.2l-2.4-0.4l-2.7 0.3l-5.5-2.5l-0.7-0.6l-0.4-0.9l0.5 0.1l-0.1-0.5l-1.4-2.2l-3.1-1.3l0.2-0.6l-1.4-1.5zM185.3 97.4l0.6-1.3l2.4 0.8l2.3 1.6l2.9 0.6l1.5 1.6l0.2 1l1.6 2.2l2.3 0.3l0.6 0.6l-0.3 1.8l-4.7 1.2l-1.4 1.4l-2.9-0.5l-0.4 1l-3.2-4.3l-0.6-2.1l-3.3-3.8l0.2-1.1l1.2-0.1zM108.9 122.7l6-0.9l0.4-1.5l1.2 2.1l0 1.6l1.2 0.9l2 0l1.2 1.3l2.4 0.3l5 2.3l0.4 1.7l-0.3 1.5l-2.5 3.3l-0.4 4.1l-1 3.6l-0.9 1.1l-3.4 0.8l-1.4 1.6l0.2 2.4l-3 4.5l-0.6-1.5l-3.1-1.6l1.3-1.9l1.2-0.8l-0.8-1.3l0.1-1.4l-1.1-1.2l-1.8-0.4l-0.1-3.6l-0.8-1.5l-1.4 0l-0.4-2.2l-3.5-1.2l-0.6-1.6l-1.2-0.2l-2.8 0.6l0-1.3l-2.2-0.1l-0.6-1.8l0.6-1.4l1.7-1.3l0.8 0l0.3-2.7l-0.3-2l1.6-0.6l1.8 0.9l1.1-0.6l0.9-2l1.4-0.4l1.1-0.8zM153.1 73.5l1.3 0l-0.7 0.8l1.4 0l-0.2 1.3l1.7 2.6l0.9 0.1l-0.5 0.8l0.3 0.4l-4.9 1.1l1.6-1.2l-1.1-0.2l0.5-0.5l-0.3-0.5l0.1-0.5l1.1 0l0.1-0.5l-1.3-0.6l0.1-0.6l-0.6 0.2l-0.3-1.3zM155.0 86.2l0.4-2.2l-0.7-1l-1.6-0.6l0-0.6l2.1-0.1l0.2-0.9l1 0l1.6-1.1l1.2 1l2.8 0.7l-0.4 1.2l-1 1.2l0.7 0.3l-0.1 1.5l0.4 0.3l-0.6 0.6l-1.4-0.3l-1.1 0.3l0 0.5l-1.7-0.3zM160.4 79.0l0.7-0.3l-0.1-1l1-0.1l0-1.2l3.8 0.9l0.8 2.4l-1.9 0.6l1.2 1.3l-0.5 1.1l-3.8-0.1l0.4-1.2l-1.3-0.4zM167.9 90.7l-0.3 1.4l-2.1-1.1l1-0.1zM163.5 88.4l-0.1 1.4l-0.9 0.2l-0.2-1.6zM165.0 83.1l1 0.4l0 0.7l-0.9 0.3l0.2 1.1l2 1.9l2.6 1.5l-0.1 0.3l-1.1-0.5l-0.3 0.5l0.5 0.8l-0.7 0.8l-0.3 0.1l0.3-1l-0.6-0.9l-2.5-1.4l-1.2-1.1l-0.3-0.8l-0.9-0.5l-1.1 0.6l-0.4-0.3l0.1-1.5zM237.5 118.6l1.1 1.1l0.1 1.9l0.6 1l-0.5 0.4l-1.8-1.4l-1.1-3.3zM245.0 122.3l0.2-0.7l1.1-0.3l0.7-1.1l1.1-0.5l1.2-1.7l1.8 1.3l-1 1.1l-1.5-0.1l-1 2.4l-2.5 0.4l-1.4-0.7zM235.9 104.4l2.3-0.8l2.4 1.6l-0.9 0.8l-0.5 1.3l3 3.4l0.5 1.6l0.1 1.5l-3 2.7l-0.1-1.1l-0.5-0.5l1.3-0.5l0.9-1.1l-0.2-2.6l-2.5-3l-1-0.5l0.3-0.6zM225.0 104.7l0.5-0.7l-0.3-1.1l-0.5-0.3l0.5-0.6l-0.7-0.5l0.2-0.5l1 0.3l0.3 0.6l2 0.4l-0.3 1.6l0.3-0.6l0.6 2.1l-1.1-1.3l-0.7 0l-0.1 0.9zM218.3 97.7l4.1 1.9l1.7 0.1l0.3 1l-1.7 0.1l-4.9-1.9zM220.2 118.8l-0.6-2l0.2-1.3l1.5 2l-0.4 1.1zM251.5 94.0l-1.2-2l0.5-0.2l-0.8-0.7l1.2-0.7l2.1 2.6l-0.1 0.4zM198.2 103.0l1.5-1.8l0.2 0.2l0.1 0.9l-0.3 0l-0.4 1.9l-2.5-0.3l-0.4-1zM80.0 194.3l-15.8-5.5l10.2 0l3.9-0.7l2.9-1.3l13.2-0.9l17.8-0.5l1.2-2.1l3.5-0.7l4.2-2.7l-1.1 0.8l-0.8 1.9l4.9 4.2l9.2 2l5.1 0l4.5-2l13.4-3.5l11.5 0l11.7-0.7l9.4-1.5l8.4 0.7l12.9-1.5l26.9 0l7.1 1.5l7 2.9l-7.5 3.4l4.7 0.7l-15.8 5.5zM257.2 131.2l-3 1.8l-5.8-1.2l-0.4-0.6zM245.8 130.0l1.5 0.8l0 0.9l-7.2-1.7l0.6-0.9zM264.2 127.0l1.6-1.7l2.8 1l-0.4 5.6l-1.4-0.8l-0.8 0.1l0.5-1.1l-0.3-1.4l-3.5-1.6l-0.7 0.5l-0.6-1.2l0.9-0.2l-1.6-0.9l1.1-1l1.3 0.4zM252.7 126.3l1.3 1.6l-0.9 0.4l-1-0.6l0 1.1l-1 0l0.3-1.7l-0.5-0.7l1.5-2.8l-0.2 0.7l0.5 0.9l1.8-0.3l-1.1 0.3zM237.3 122.2l2.5 3.9l1 0.6l-0.3 2.4l-0.9 0l-1.6-1.4l-3.2-5.3l-2.7-3.2l1.8 0.3l2.5 2.7zM248.6 120.3l1.5 0.1l-0.4 0.8l1.3 2l-0.8 0l-0.3 1.5l-1.1 0.6l-0.3 2.2l-1.1 0.1l-0.9-0.9l-2.5-0.2l0.1-1l-0.9-1.1l0.5-2l1.4 0.7l2.5-0.4zM255.2 123.8l-2.8-0.2l0.1-0.7l2.9 0.6l0.6-0.7zM66.6 72.4l8.6-7.4l6.7-0.3l11.1 1.5l5.9 0l3.7-2.1l-1.3 0.6l-10.8 1.1l-2-0.4l1.1-1.4l4.4-1.4l4.4 0l0 0.6l5.4-1l0.6 1.1l-0.9 0.4l1.5 2.1l4.1-0.7l-1.3 2.6l-10.1 3.9l-2.1 1.6l0.2 1.6l5.6 1.6l-0.7 2.1l1.6 0.8l1.8-2.9l2.3-2.4l0.5-2l1-1.6l2.9 0.2l1.4 1l0.2 2l3-1.5l0.5 3.1l1.8 2l0.7 1.7l-3.4 3.4l-3.7-0.5l-0.8 1.3l3.1 1.1l-2.8 1.1l-3.1 0l0.7-0.3l-0.3-0.8l0.5-1.2l-1-0.3l-2.4 2.1l-2.4 0l-3.5 1.5l-2.3 0.2l0.5-2l-1.2-1l-5.8-2.5l-0.5 0.4l-19.5 0l-1.7-1.7l0.6-1.2l-0.1-1.5l0.6-1.4l-0.4-1.3l-2.4-1.6l-1.9-0.3zM117.6 66.2l1.8 1.1l-3.4 2.3l-3.8 0.8l-0.5-1.2l-2.9-0.3l5.1-2.3l-2.8-1.9l-3.5 0l-1.6-0.7l4.3-1.8l2.3-0.1l3.6 1.9zM122.8 60.6l-3.6-1l0.6-0.7l6-1.7zM86.5 63.3l5-1.8l0.9 1.1l-2.8 1.4l-3.4 0zM114.4 60.2l-1.3 1.3l-6.8 0.4l-0.7-1.4zM93.5 61.2l1-0.7l6.3 0l-0.3 0.7l-3.6 0.3zM109.3 57.9l3.5-0.7l9.5-0.8l3.9 0.5l-11.8 3.3l-4.9-0.3zM81.9 109.9l-1.6 0.4l-1.6-0.4l-4.8-2.9l0.2-3.1l-3.8-5.4l-0.1-1.7l-1.1-0.4l-0.2 1.4l0.8 1.3l1 4.8l-1.3-1.4l0.2-1.3l-1.4-1.4l0.4-0.8l-0.7-1l-0.4-2.3l1.7 0l2.6 1.1l3.5-0.5l0.9 1.9l1.1 0.6l1.4-0.7l0.9 2l1.4 1.2l-0.9 3.5l0.2 1.3l0.7 1.3l1.1 0.7l1.7-0.3l-1.2 2.4zM85.0 107.4l1-1.9l2.4-0.2l-1.4 2.6l-0.1 1.7l0.6 0.2l-0.8 0.8l-2.5-2.8zM87.4 113.2l2.5-2.3l0.7 0.9l-0.5 1.9l-1.8 0.7zM92.5 103.8l2.3 0.1l2.5 1.9l-0.4 0.7l-0.9 0.1l-0.6-1.3l-2.3-0.5l-3.1 0.2zM87.4 113.2l-1.8-1l-0.9-0.2l2-1.4zM100.6 127.7l-0.7-0.1l-1.7 1.3l-0.7 1.5l0.7 1.8l2.1 0.1l0.1 1.3l1.7-0.1l-2 3.8l-2 0.8l-1.3-0.8l-4.1-7.3l7.4-3.2l0.6 0.1zM84.7 112.0l-2.1-1.8l1.6-2.4l2.3 2.7zM90.5 116.8l-1.2-1.3l-1-0.2l0-0.9l1.8-0.7l-0.1 0.7l1.2 1.5zM91.7 129.1l0-1.2l0.7-1.1l-0.5-1.5l2.4-4.2l5.8 5.7l-7.4 3.2zM87.5 109.8l2.4 1.1l-2.4 1.9l-0.8-2.2zM94.8 119.7l-0.2-2.4l-1.9 0.3l-1.9-0.7l0.4-1l0.8 0.4l1.2-0.7l1.6 1.1l1.2-1l0.5-1.1l1.8-0.8zM125.8 64.0l-0.4-3.2l-2.6-0.2l3-3.4l16.5-1.1l1.7 0.3l-5.5 9.7l-0.9 0.1l-2.3 1.5l-3.2 0.7l-3.5 3.9l-2.9-1.5l-0.6-1.6l0-3.4l2-1.1zM100.7 123.0l0 3.9l-0.6-0.1l-5.8-5.7l0.5-1.4l3.6-5.7l0.8 0l3 8.4zM99.2 113.3l-0.1 0.7l-0.8-0.2zM98.0 106.8l2.4-0.1l-0.4 1.9l-2.1-0.6zM97.3 105.8l0.9 0.6l-1.3 0.1zM109.0 169.9l1.3 0l2.6 1.7l-1.6 0.5l-2.4-0.8zM109.4 169.6l-1.1 1l-2.6-1.1l-2.5-4.2l0.3-1.7l-0.4-3l-1-2.2l-0.3-2l0.3-4.1l-0.8-4.8l0.1-6.1l-0.4-1.4l-2.9-1.9l2-0.8l5.4 5.7l-2.9 5.2l2.6 3l-0.8 6.4l0.7 0.8l0.4 6.1l1 0.9l0.8 3.5zM112.4 157.8l-2.1 0l0.5 1.6l-2 0.3l0.8 1.3l0.1 1.7l-1.3 1.3l1.7 1.6l-1 3.2l0.7 0.5l-0.4 0.3l-2.1-0.7l-0.8-3.5l-1-0.9l-0.4-6.1l-0.7-0.8l0.8-6.4l-2.6-3l2.9-5.2l1.5-0.1l4.1 5.8l-1.4 3.1zM99.5 114.9l0.3-0.5l-0.2-0.5l-0.4 0.1zM99.5 114.9l2.7 7.5l1.9 0.9l1-0.6l2.5-7.3l-0.4-0.6l-4.8 0l-1.5-0.8zM99.2 113.3l0.4 0.6l-0.5 0.1zM101.5 106.8l1.1 1l-2.6 0.8l0.4-1.9zM114.1 148.0l-1.9 2.4l3.2 1.5l0.6 1.5l0.4-0.4l-0.7 1.2l-2.5 0.6l0.7 1l-0.3 1.5l-1 0.4l-2.9-5.9l1.4-3.1zM103.2 133.0l1.2 0.2l0.5 1.7l3.6 1.2l0.4 2.1l1.6 0.4l-3.5 4.3l-1.5 0.1l-5.4-5.7l2-3.8zM108.9 122.6l-0.3-3.2l-1.1 0.9l-1.4 0.3l1.5-5.2l3.4 3.4l-1.3 3.8zM111.1 139.7l0 3.6l1.9 0.4l1.1 1.2l-0.1 1.4l0.8 1.3l-3.7 1.1l-4.1-5.8l3.5-4.3zM112.9 122.2l0.1-3.3l1.1 0.3l1.2 1.1l-0.4 1.5zM112.9 122.2l-3.2 0.4l1.3-3.8l2 0.1zM150.3 120.2l-2.9-2.1l1.3-1.6l1.2-0.5l1.1 4zM147.2 118.0l-1.4-1.4l-0.5-1.2l0.5-0.4l2.9 1.5zM142.7 111.2l0.6-1.3l0-3.3l5.5 4.1l-2.3 2.2l-3.6-0.8zM142.9 105.7l2.2-4.5l1.2-1.4l2.2-1l2.7 3l-7.5 4.9zM163.8 73.4l-0.9-0.7l-1 0.9l-1.9-0.1l-0.6-1.9l0.2-0.9l3.1-1.9l3.1-3.1l1.5-0.9l2.6-0.5l-0.4 3.6l-3.1-1.3l-0.9 3.8l-1.3 0.2zM169.8 58.3l-5.7 1.6l-2.2-1l4.2-1.2zM145.3 115.4l-2.2-2.2l-0.2-1.1l3.6 0.8zM143.2 67.4l4.7 0.1l0.2 0.9l-3.5 1.3l-1.8-0.3l-1-1.3zM144.0 56.4l6.5 0.8l-4.1 0.7l0.2 3.3l-1.5 2.1l-3.4 2.5l-3.2 0.3zM160.7 81.0l-1.5-0.4l-1.1-1l1-0.7l1.4 1.1zM149.5 79.1l0.1-0.9l0.6-0.5l-0.6-0.6l2.6-0.9l0.3 0.5l-0.3 2zM146.5 112.9l2.3-2.2l1.6 0l0.8 2.5l-1.3 2.8l-1.2 0.5l-2.9-1.5zM151.2 101.8l1.7 0.7l-2.5 8.2l-1.6 0l-5.1-4zM151.6 91.9l-1.9-0.2l0.1-1.4l-0.5-0.1l0.6-1.5l-0.3-2.2l0.9-0.6l1.1 0.1l0.6 6.5zM166.3 130.5l-0.2-2.5l-1-0.9l-1.3-2.7l3.2-2.1l-0.2 7.9zM156.9 118.9l-2.2 1l-0.9-0.2l-0.2-4.3l2.1-0.3zM153.8 119.7l-2.8 0.3l-1.1-4l1.3-2.8l2.4 2.2zM148.6 98.7l0.3-2.6l2.5-2.2l0.5-1.1l2.7 0.6l0.4 4.7l-1.7 4.3l-2.1-0.6zM154.7 92.0l-2.5 0.5l-0.6-6.5l3.4 0.2l3.2 0.8l0.3 0.6l-1.6 0.7l-1.1 2.9zM160.4 79.0l0.1 1l-1.4-1.1l0.6-1.1l1.3-0.1l0 1zM153.3 102.4l5.9 3.1l-0.2 5.2l-8.1 0.6l-0.5-0.6l2.5-8.2zM158.6 118.5l-1.7 0.4l-1.2-3.8l1-0.7zM163.8 124.4l0.3-3l-1-1.3l-2.4 0l2.1-0.7l4.4 2.5zM156.7 114.4l-1 0.7l-2.1 0.3l-2.4-2.2l-0.3-1.9l8.1-0.6zM159.7 118.5l-1.1 0l-1.9-4.1l2.4-3.5l1.1 1.1l0.3 7.8zM154.8 93.4l3.7-1.5l1.7-0.1l0.7 5l3.1 3.7l-0.1 2.1l-4.7 2.9l-5.9-3.1l1.7-4.3zM162.6 87.9l0.1-1l0.4-0.4l0 1.3zM164.3 83.3l-3 0.7l-0.7-0.2l1-1.1l2.7 0.1zM159.0 110.7l0.2-5.2l4.7-2.9l3.8 3.3l-0.9 7.1l-6.6-1zM160.7 120.1l-0.5-8.1l6.6 1l0.4 0.8l-4.4 5.6zM167.2 113.8l2 1.4l0.5 5.4l-2.5 1.3l-4.4-2.5zM160.2 91.8l4.3-0.1l-0.3 1.1l0.4 0.5l-0.6 1.1l3.7 1.4l-3.7 4.7l-3.1-3.7zM162.0 76.4l-0.1-1.7l1.3-0.5l-0.1 1l0.4 0.1l-0.7 1.1l0.6 0.5zM165.2 76.1l-0.6-0.8l-1.1-1.9zM169.8 71.8l-0.5-1.5l0.6-0.8zM169.5 67.9l-2.2 2.3l-0.1 1.7l1.1 0.4l-0.5 0.9l-0.7 0.2l-0.3 2.1l-0.8-0.1l-0.8 0.7l-1.4-2.7l0.4-2.8l1.3-0.2l0.9-3.8zM166.8 113.0l0.9-7.1l6.8-1.1l0.8 0.9l0.3 7.7l-6.4 1.8l-2-1.4zM170.4 97.4l1.1-0.4l0-1l2.9 3.1l0.1 5.7l-6.8 1.1l-3.8-3.3l0.1-2.1l3.7-4.7l0.8 0.9zM166.9 84.7l-0.8 0l-0.2-1.2l2.1-0.6zM164.8 80.3l1.8-0.6l-0.7-2.4l0.6-0.2l2.1 3.4l-0.3 2zM167.8 86.1l-0.8-1.3l1.3-2.1l0.6 1.1zM169.6 149.7l-1.6-2.2l-0.5-3.4l-1.9-5.1l7.1 0.3l-0.1 7.1zM165.9 136.6l1.2-1.7l0.1-1.3l-0.9-3.1l4.5-1.2l1.7 1.3l1.8 4l-0.5 3.8l-1.1 0.9l-7.1-0.3zM165.9 83.5l-1.6-0.2l0-0.5l1.2-0.1l0.5-1.1l-0.5-0.5l2.8 1.4l-0.3 0.4zM167.2 121.9l2.5-1.3l1.3 1.1l0.9 3.1l-1.1 4.5l-4 0.9zM168.3 82.7l3.8-0.3l-0.1 1.2l-1.9 1.1l-1.2-0.9zM166.5 77.1l3-0.2l0.6-0.4l2.2 3.3l-3.7 0.7zM169.2 86.7l-1.2-0.5l0.9-2.4l1.2 0.9l0 0.7zM171.1 89.7l-0.8-2.2l0.9-0.5l0.5 1.8zM177.5 73.0l-7.7-1.4l0.1-2.1l1.8-1.1l-0.6-0.5l-1.6 0l0.4-3.6l2.3-0.3l1.9 0.3l-0.8 1l4.1 0.2l0.2 1.9l-1.1-0.2l-0.7 0.3l2 1.5zM181.7 146.5l-0.1 1.5l-4.8 0.3l-1.2 5.3l-2.3 0l-2 0.7l-1.1-0.6l-0.6-3.7l3-3.6l2.8 0l3-2.9l5 1.7zM175.6 113.4l0.5 0.6l0.5 4.8l-5.6 2.9l-1.3-1.1l-0.5-5.4zM172.3 79.8l0.5 0.3l-0.7 2.3l-3.8 0l0.3-1.9zM171.5 95.9l1.1-0.5l1.1 0.2l3.9 1.3l-3.2 2.2zM176.0 93.2l-0.4 0.3l-1.7-0.3zM177.2 92.0l-1.4-1.3l0.1-0.3zM173.7 88.9l0.5 0.1l-1.3 0l1.2 1.7l-0.7 0.3l-0.4-0.4l0.5 0.7l-0.2 1l-0.8-0.4l-1.4-2.2l0.6-0.9l2-0.4zM170.9 74.2l1 0.6l0.1-0.9l2.9 0.9l-1.1 1.5zM170.4 76.2l-0.3-1.3l0.6-0.6l3.1 2l-0.8 3.8l-0.7-0.3l-2.2-3.3zM170.3 87.5l-1.1-0.8l0.9-1.3l1.2 1.5zM172.0 83.6l0.9 2.5l-1.6 0.8l-1.2-1.5l0-0.7zM172.0 83.6l0.8-3.5l1.1 0.4l2.1 4.8l-3 0.2zM170.8 129.3l1.1-4.5l-0.9-3.1l5.6-2.9l1.8 2.5l-1.1 2.8l0.2 3.9l3.2 3l0.1 1.2l-6.5 2.4l-1.8-4zM171.3 86.9l1.6-0.8l0.8 2.3l-2 0.4zM177.6 96.9l1.8-0.1l2.5 2.6l2.6 5l-1.3 1.3l-7.9 0l-0.8-0.9l-0.1-5.7zM178.4 122.1l4.9 4l-0.2 0.3l-5.5 0l-0.3-2.3zM176.6 118.8l-0.5-4.8l7.4 0l0.6 4.9l-5.7 2.4zM172.7 139.3l1.1-0.9l2.4 0.9l2.2 4.2l-3 2.9l-2.8 0zM173.8 76.3l1.1-1.5l2.6-1.8l1.6 4l-3.4 3.3l-1.8 0.2l-0.9-0.4zM175.6 89.6l-0.2-1.2l-1.7 0l-0.7-2.9l3-0.2l0.9 0.7l-0.2 1.5zM181.6 148.0l-2.5 3.3l-2 1.7l-1.5 0.6l1.2-5.3zM177.6 126.4l5.5 0l-2.4 4.6l-3.2-3zM171.4 73.0l3.4-0.5l2.7 0.5l-2.6 1.8l-3.5-1.4zM170.9 72.4l-1.1-0.8l2.9 0.5zM174.3 134.6l6.5-2.4l0.1 5.2l-4.7 1.9l-2.4-0.9zM178.1 83.5l-1.2 1.8l0 0.7l-0.9-0.7l-2.1-4.8l1.8-0.2zM177.5 65.5l2.4 0.8l0.7 0.6l-1.3 0.8l-1.7-0.3zM179.0 69.3l-0.2-0.9l1.6 0.4l0.4-0.2l-0.5-0.5l1.6-0.7l0.8 0.3l-0.3-1.4l-0.8-0.6l1.8 0.3l0.4 0.4l-0.7 0.1l0.8 0.7l3.5-1.7l2.3 0.3l1.3-1l3.8 0.3l-0.8-1.1l0.5-1.3l1.9 0l0.3 1l2.6 2.2l-0.4 1.6l0.7 0l0.7-1.2l-1.7-1.3l0-0.7l-1.2-0.7l0.7-0.4l-0.5-0.5l0.8 0.4l0.3 0.7l1.7 0l-1.5-0.7l1.3-0.2l1.7 0.5l-1.6-1.3l3.3-0.2l-0.6-0.8l6.1-0.9l-0.2-0.3l1.1-0.5l2.5 0.8l1.8-0.1l2.4 0.5l0.1 0.6l-1.2 0.5l6.2 0.8l3.9-0.3l5 1.9l-0.4-0.7l4.6 0.2l-1.4-0.6l0.4-0.3l5.6 0.4l3.5 1l3.3 0l2.8 1l3.7-0.1l2.1 0.7l0.3-0.3l-1.4-0.8l5.5 0.5l1.3 0.3l4.7 3l-0.3 0.4l-0.9-0.1l3.7 1.8l-1.3-0.1l-1.5 0.6l-0.2 1.4l-1.6-0.5l-0.9 0.6l-1.9-0.1l0.7 1.4l1.3 0.5l1.9 2.2l-0.7 0.5l0.7 0.9l-0.9 0.2l0.7 0.9l-0.2 0.7l-5.5-4.8l1-3.4l-1.1-1.2l-0.6 0.1l0 1.6l-1.8-1.1l-1.2 0.3l-0.1 1.3l1.2 0.6l-2.2 0.2l-1.7-0.7l-0.4 0.4l-3.9 0.2l-1.2 3.5l2.7 0.7l0.1-0.4l0.8 0.1l1.7 0.9l2.5 3.9l-0.7 4.3l-0.7 0.5l-1.1-0.4l-0.2 0.4l-1.5-1.8l1.3-0.1l-0.7-3l-2.4 0.6l-0.9-0.9l-2.6-0.8l-4.1-2.8l-1.9-0.3l-0.2 1.1l-7.7-3.1l-1.9 1.8l-6.6-1l-2.2-1.2l-5.4 2.8l-3.6-2.2l-5.4 1.5l-5.3-2.5l-2.9 3l-6.9-2.5l-1.4 1.4l-0.6 3.5l-1.5 0.6l-7.3-3.1l-0.7-0.7l-1.6-4l0.3-4zM194.9 65.1l-0.1 0zM195.6 66.0l0.8 0.1l0.2-0.4l-1.7-0.6zM188.9 64.2l-1.3 0.1l-2.1-0.7l3 0.4l-0.2-0.2zM192.2 60.2l-4 1.3l-0.8 1.4l0.9 0.9l-0.7-0.5l-0.9-1.1l0.2-1.4l4.2-0.9zM204.1 58.6l-1.5-1.2l7 1.5l-2.5 0zM256.5 83.3l-4.9-6.4l5.3 4.5l-1.2-0.2l1.9 2.1zM232.9 60.5l1.9 0.3l2 0.4l-2.7 0.7l-3.8-0.7zM178.4 143.5l-2.2-4.2l4.7-1.9l0.7 0.6l1.5 6.9zM180.8 132.2l4.6 0.5l-0.5 4.2l-3.3 1.1l-0.7-0.6zM179.5 84.5l0.6-0.5l-2-0.5l-2.4-3.2l3.4-3.3l0.7 0.7l7.3 3.1l-2.6 5l-1.5-1.2l1-1.5l-0.7 0.2l-1 1.3l-1.9 0.7zM183.3 92.1l-1.2-0.1l-1.8-1l-1.8 1.5l-1.3-0.5l-1.4-2.3l0.9-2.2l0.8 0.6l1.4 0l1.4-0.7l1.4 0l2.4 1l2.2-0.5l1.4 1.1l1.3 3l-1.5 0.8l-3-2zM274.6 164.0l7.7-4.4l1 0.4l-0.7 0.8l-3.6 1.9l-1.6 1.2l-1.4 0.6zM287.4 158.2l-3.6 2.1l-0.2-0.3l1-0.7l-0.1-1.1l1.6-1.6l0.1-2.5l0.9 0.7l-0.1 2l0.8 0.3l1-0.2zM187.8 132.9l0.6 0.5l-0.1 3.2l-0.9 1.8l-2 1.1l-1.5 1.9l-0.1 3.5l-0.4 0.3l-1.8-7.2l3.3-1.1l0.5-4.2l2.3-1.3zM187.8 127.7l-0.7 2l0.6 1.7l-2.3 1.3l-4.6-0.5l-0.1-1.2l2.6-4.9l0.7-0.3zM175.6 113.4l-0.3-7.7l7.9 0l0.3 8.3l-7.4 0zM178.4 122.1l0-0.8l5.7-2.4l0.6 0.6l-0.7 6.3l-0.7 0.3zM184.1 118.9l-0.6-5l3.8-0.4l3.5 3.6l-1.7 3.3l-4.4-0.9zM179.4 96.8l3 0l0.5 2.8l-0.6 0.1l-1.1-1.8l0.7 1.5zM183.1 98.3l-0.7-1.5l0.4-1.4l0.9 0.3zM180.6 93.8l0-0.4l1.6-0.5l-0.3 0.7zM182.1 92.0l-1.5 0.5l-1.4-0.5l1.1-1zM185.9 96.1l-0.6 1.3l-1.1 0.8l-0.9 0.1l0.4-2.6l1.2-0.3l1.8 0.9zM184.5 104.4l1 3l1.1 1l1 2.4l1.2 0.9l-1.5 1.8l-3.8 0.4l-0.3-8.2zM182.8 95.4l0.3-1l0.3-2.3l1.5 3.3l-1.2 0.3zM186.7 96.3l-1.8-0.9l-1.5-3.3l1.1-1.3l3 2zM196.1 137.5l-3.3 8.2l-1.5 0.5l-1.1-1.7l-0.1-1.6l1-1.5l-0.2-2.1l1.9-1.5l2.5-3.3zM191.2 124.4l-2.9 2l-0.5 1.3l-3.8-1.9l0.7-6.3l4.4 0.9zM190.1 98.2l-3.3-1.9l0.7-3.5l1.5-0.8l0.6 0.2l2 3.7zM195.4 98.9l-0.8-1.1l-0.9-0.2l-0.7 0.2l0.4 1.2l-3.3-0.8l1.5-2.3l2.4 0.2zM188.9 111.9l1.7 1.1l0.6 1.8l1.2-0.1l-0.6 1.8l-1 0.6l-3.5-3.6zM192.2 112.7l-1.5 0.3l-0.8-2.3l0.4-0.8zM192.4 114.7l4.4-1l-0.4 2.5l-1.9 4.1l-3.3 4.1l-2.1-4l1.7-3.3l1-0.6zM190.3 83.1l-0.6 3.8l-2 2.1l-3.2-3.2l2.6-5l1.5-0.6zM190.0 85.2l2.6 3.9l0.3 1.9l-2.2 0.3l-1-4.4zM195.2 89.1l-0.3-1.4l0.6 1.8zM190.1 84.5l0.2-1.4l0.6 0.6zM198.1 109.4l-0.7 1l-5.2 2.2l-2-3.3l0.2-0.6l2.9 0.5l1.5-1.4l2.2-0.3zM216.6 83.1l-1.9-0.2l0.3 1.5l-1.4 0.5l0.6 2.5l-6.3-3.8l-1.1 2.4l-1 0.4l-6.3-3.7l-0.5 2.8l-3.7 2.6l-2.5-2.8l1.4-0.5l-0.4-1.3l-1.2-0.4l-1.7 0.6l-2.3-3.5l0.6-3.5l1.4-1.4l6.9 2.5l2.9-3l5.3 2.5l5.4-1.5l3.6 2.2l2.1 4.1zM187.7 89.0l2-2.1l1 4.4l-1.1 0.9l-0.6-0.2zM203.8 102.1l-3.1-0.5l-0.4-1.1l-1.4 0.2l-0.8-1.2l-2.5-0.7l-1.6-2.7l-2.4-0.2l-2-3.7l1.1-0.9l2.2-0.3l2.2 1l1.3-0.2l0-0.3l2.7 2.3l3.1 0.3l2.5 4.1zM241.3 113.3l-0.9 1.1l-1.3 0.5l-0.8-0.1l-1.1-2.3l0.7-1.2l3.3 0.5zM256.1 119.1l-1.2-0.8l-1.6-0.4l2.5-1.7l0.9 0.5l0.1 1zM254.1 115.7l-0.9-2.6l1.6 0l1 0.9l-0.3 1.3zM252.3 108.1l-0.1 3.4l2 0.5l0.2 1l-3.3-2.1l-0.4-1.2l0.4 0.1l-0.2-1.9zM198.5 100.9l-2.6-1.2l-0.5-0.7l2.7 0.5l0.8 1.2zM196.4 91.5l-0.9-2l-0.2-1.4l3.7-2.6l4.2 6.1l-1 2.5l-3.1-0.3zM202.6 104.2l0.3 0.6l-0.8 1.4l-0.4-0.1l-0.2 1.4l-0.8 0.3l-0.9 1.2l-1.7 0.4l-1.1-1.9l2.4-0.9l0.4-1.8l-0.6-0.6l0.5-1.9zM212.0 91.8l1.3 0.9l1.5 0.4l0.8 1l0.7 1.5l-0.5 0l0.4 1l2 1.1l-0.4 1.2l2.7 1.2l2.9 0.7l1.6 1.4l-0.4 0.4l0.9 1.4l-0.5 0.7l0.7 0.1l-1.5 0.5l-0.2 1.1l-1 0.6l-2 2.5l-1.4 0.6l0.1 4.8l-0.5 0.1l0 1l-1.3 1l-3.7-7l-1.2-4.7l-1.6 0.5l-1.1-1.1l1.1-3.3l1.6-0.7l0.1-2.3l-2.9-4.3zM227.5 99.7l1.3-1.2l2.3 0.9l1.2 0.6l-0.3 2.1l-3.7 2.1l-0.2-0.9l-0.4 0.5l0.3-1.5l-0.9-0.2zM210.2 104.1l-1.5-0.9l-1-1.3l-3.9 0.2l0.9-3.9l2-0.3l2.6-3.9l0.9 0.1l2.9 4.3l-0.1 2.3l-1.6 0.7zM202.2 94.1l1-2.5l2.5-0.9l3.6 3.3l-2.6 3.9l-2 0.3zM199.5 82.7l6.3 3.7l-0.1 4.3l-2.5 0.9l-4.2-6.1zM214.2 87.4l-1.9 1.3l-1.1 0l-0.8 0.8l1.4 1.7l-5-5.2l1.1-2.4zM211.8 91.2l0.2 0.6l-1.8 2.3l-0.9-0.1l-3.6-3.3l0.1-4.3l1-0.4zM224.4 100.8l-0.3-1.1l0.4-0.2l2.8 0.2l-0.2 2.4l-1.1-0.2l-0.2-0.6l-1.1-0.4l-0.2 0.6l0.5 0.7l-1.6-1.4zM232.1 103.2l0.5-0.2l1.1 1l-0.1 0.7l0.4 0.3l-0.1 2.8l1.5 5.5l-1 0.6l-1.6-4.6l-1.3 1l-1-0.3l-0.2-1.9l-2.2-3l0.5 0.4l-0.3-1.3l3.7-2.1zM238.5 78.7l0.1 1.7l-0.5 0.6l-1.4-0.3l3.9 2.4l-1.7 0.5l-1 0.9l-1.8 0.2l0.2 1.5l-3.6 1.5l-3.4-0.9l-3.3 0l-1.4-1.4l-3.5-0.9l-0.3-0.6l-3.8-2.6l-0.2 0.8l-2.1-4.1l5.4-2.8l2.2 1.2l6.6 1l1.9-1.8zM241.4 107.3l1.1-0.8l0.7 0.3l-0.4 1.1l-0.5 0.2zM234.0 105.0l1.7 0.6l0.2-1.1l2.1 2.1l-0.3 0.6l1 0.5l2.4 3.1l0.1 1l-3.3-0.5l-0.5-2.1l-3.5-1.4zM237.9 111.3l-1.6 1.7l-0.2-0.7l-0.7 0l0 1l-1.5-5.5l3.5 1.4zM234.9 114.4l0.1 1.6l0.6 0l0.6 1.5l1.2 1.1l-1.6-0.3l-1.3-1.6l-0.1 0.5l0-3.3l0.9-0.4zM250.1 102.1l0.7 0.1l-0.3 2.7l-0.7-1zM259.0 94.8l-1.1-1l-1.8 0.4l0.1 2.4l-0.9-0.2l-0.2-2.5l0.6-0.8l2.5-0.2l-0.3-1.4l0.7 0.3l0.9-1.1l-0.8-2.6l0.6-0.2l1.9 2.5l-0.3 0.7l0.8 2.2l-2.3 0.8zM260.4 85.3l0.8 1l-0.8 1.1l-1.4-0.5l-0.1 0.8l-0.6 0.2l-0.8-1l0.5-1l-0.9-1.5l3.1 1.3zM257.6 83.3l-0.5 0.7l-0.6-0.7zM251.2 87.2l-0.3 0l-0.2 0.6l0.4 0.6l-1.1 0.9l1.1 1l-1.2 0.8l-1.2-0.3l0-1.1l-1-0.5l0.9-1.6l2.4-0.5l-0.3-0.4l0.5-0.1zM255.3 96.4l-0.6-1.6l0.4-0.9zM264.7 159.6l-1.7 2l-1.7 0.3l0.9-2.4zM262.3 157.8l-2.3-1.2l0.7-1.1l-0.9-0.5l0.8-1l-0.9 0.6l0.7-1.3l-1 1.1l-0.9-0.1l-1.2-2.4l-1.1-0.4l-5.1 1l-1.5 1.1l-2.3 0l-2.4 1l-1-0.1l-0.8-1.2l0.7-0.3l0.4-1.1l0.3-5l-0.3-0.6l0.8-2.8l2.5-1.5l3.9-1.3l1.1-1.8l0.8 0.2l2.6-2.8l0.8-0.3l0.9 1l1 0l0.6-1.7l2-0.7l0.1-0.4l2.4 1.7l0 1.2l2.1 2.1l0.6 0.2l1-0.8l5.5 4.3l0.1 0.5l0.7 0.1l-0.1 1.4l1.4 1.1l-0.6 2.5l-1.4 2.5l-5.2 5.6l-3.6 1.4l-0.6-0.5l0.1-0.5zM263.7 135.9l-2.8-2l2.5 0.7l0.8-0.2l0.4 0.4zM267.4 138.6l0.8-3.4l1.1-1.9l0.6 1.4l-0.2 1.3l1.3 1.1l-0.2 3.5l1.9 1.2l0.2 1.1zM271.4 127.4l2.3 1.9l-0.6 0.5l1.2 2.1l1.6 1.1l-0.7 0.3l-1.6-0.5l-1.3-1.8l-1-0.4l-1.2 0.6l0 0.6l-1.8 0.1l0.3-5.6z" fill="none" stroke="#000" stroke-width="0.55"/></mask>
</defs><g filter="url(#inner1)"><g mask="url(#bm1)"><path d="M90.0 81.4l0.5-0.3l5.8 2.4l1.2 1.1l-0.5 1.9l2.3-0.2l3.5-1.5l2.4 0l2.4-2l0.9 0.2l-0.4 1.2l0.3 0.8l-2.5 0.9l-0.8 1.5l0.3 0.3l-3.3 0.9l-2.4 3.1l-0.2 1.6l-4.8 3l-0.6 1.5l0.4 3.1l-0.5 1.1l-0.6-0.1l-0.7-2.3l0.2-0.9l-0.9-0.9l-3.7-0.2l-0.6 0.9l-0.8 0.1l-2.6-0.4l-2.9 1.8l-0.4 1.3l-1.3-1.3l-1-2l-1.4 0.7l-1-0.5l-0.9-1.9l-3.6 0.4l-2.5-1l-1.8 0l-0.6-1.3l-1.3-0.6l-0.4-4.9l3.3-5.1l0.7-1.9l1.2-0.1l0.1-0.4zM65.0 72.3l-1.2-0.6l-7.7 2.7l-9.7 2.4l7.2-2.6l1.4-0.9l-3 0.1l1.2-1.1l-1-0.6l2.5-1.9l3.6-1l-2.4 0l-0.7-0.8l4.4-1.2l0-0.6l3.4-1.5l4.9-0.9l7.3 1.2l-8.6 7.3z" fill="#0e3a53"/><path d="M211.2 88.7l1.2 0.1l2.1-1.5l-0.8-2.4l1.3-0.5l-0.2-1.4l1.8 0.1l0.4-1.8l3.8 2.6l0.3 0.7l3.5 0.8l1.4 1.4l3.3 0l3.4 1l3.6-1.6l-0.2-1.5l1.8-0.1l1-1l1.8-0.5l-3.9-2.4l1.3 0.3l0.6-0.6l0.1-2.7l1.9 0.2l4 2.8l2.6 0.8l0.9 0.9l2.4-0.6l0.7 2.9l-1.4 0.2l1.2 1.6l-0.4 0.1l0.2 0.5l-2.3 0.5l-1 1.6l-1.9 0.9l0.2-1.3l-0.7-0.4l-1.2 1.3l-0.7 0.1l-0.2 0.5l1.6 1.1l0.6 0.2l0.6-0.6l1.3 0.3l0.3 0.5l-0.9 0.2l-0.7 1.6l3.1 2.8l0.3 0.7l-0.4 0.1l0.9 0.8l0.1 1.4l-0.5 0.1l-1 3.1l-1.9 1.5l-3.7 1.2l-0.1 1l-0.4 0l-0.2-1l-1.5-0.1l-2.4-1.6l-2.3 0.8l-0.2 1.1l-1.3-0.2l-1.7-2.3l-0.6 0.2l0.2-3.2l-3.5-1.5l-1.3 1.2l-2.4-0.4l-2.7 0.3l-5.5-2.5l-0.7-0.6l-0.4-0.9l0.5 0.1l-0.1-0.5l-1.4-2.2l-3.1-1.3l0.2-0.6l-1.4-1.5z" fill="#5e94b2"/><path d="M185.3 97.4l0.6-1.3l2.4 0.8l2.3 1.6l2.9 0.6l1.5 1.6l0.2 1l1.6 2.2l2.3 0.3l0.6 0.6l-0.3 1.8l-4.7 1.2l-1.4 1.4l-2.9-0.5l-0.4 1l-3.2-4.3l-0.6-2.1l-3.3-3.8l0.2-1.1l1.2-0.1z" fill="#a2c9dc"/><path d="M108.9 122.7l6-0.9l0.4-1.5l1.2 2.1l0 1.6l1.2 0.9l2 0l1.2 1.3l2.4 0.3l5 2.3l0.4 1.7l-0.3 1.5l-2.5 3.3l-0.4 4.1l-1 3.6l-0.9 1.1l-3.4 0.8l-1.4 1.6l0.2 2.4l-3 4.5l-0.6-1.5l-3.1-1.6l1.3-1.9l1.2-0.8l-0.8-1.3l0.1-1.4l-1.1-1.2l-1.8-0.4l-0.1-3.6l-0.8-1.5l-1.4 0l-0.4-2.2l-3.5-1.2l-0.6-1.6l-1.2-0.2l-2.8 0.6l0-1.3l-2.2-0.1l-0.6-1.8l0.6-1.4l1.7-1.3l0.8 0l0.3-2.7l-0.3-2l1.6-0.6l1.8 0.9l1.1-0.6l0.9-2l1.4-0.4l1.1-0.8z" fill="#b9dbec"/><path d="M153.1 73.5l1.3 0l-0.7 0.8l1.4 0l-0.2 1.3l1.7 2.6l0.9 0.1l-0.5 0.8l0.3 0.4l-4.9 1.1l1.6-1.2l-1.1-0.2l0.5-0.5l-0.3-0.5l0.1-0.5l1.1 0l0.1-0.5l-1.3-0.6l0.1-0.6l-0.6 0.2l-0.3-1.3z" fill="#a8cfe2"/><path d="M155.0 86.2l0.4-2.2l-0.7-1l-1.6-0.6l0-0.6l2.1-0.1l0.2-0.9l1 0l1.6-1.1l1.2 1l2.8 0.7l-0.4 1.2l-1 1.2l0.7 0.3l-0.1 1.5l0.4 0.3l-0.6 0.6l-1.4-0.3l-1.1 0.3l0 0.5l-1.7-0.3z" fill="#8dbad3"/><path d="M160.4 79.0l0.7-0.3l-0.1-1l1-0.1l0-1.2l3.8 0.9l0.8 2.4l-1.9 0.6l1.2 1.3l-0.5 1.1l-3.8-0.1l0.4-1.2l-1.3-0.4z" fill="#7fb0cc"/><path d="M167.9 90.7l-0.3 1.4l-2.1-1.1l1-0.1zM163.5 88.4l-0.1 1.4l-0.9 0.2l-0.2-1.6zM165.0 83.1l1 0.4l0 0.7l-0.9 0.3l0.2 1.1l2 1.9l2.6 1.5l-0.1 0.3l-1.1-0.5l-0.3 0.5l0.5 0.8l-0.7 0.8l-0.3 0.1l0.3-1l-0.6-0.9l-2.5-1.4l-1.2-1.1l-0.3-0.8l-0.9-0.5l-1.1 0.6l-0.4-0.3l0.1-1.5z" fill="#9cc6dc"/><path d="M237.5 118.6l1.1 1.1l0.1 1.9l0.6 1l-0.5 0.4l-1.8-1.4l-1.1-3.3zM245.0 122.3l0.2-0.7l1.1-0.3l0.7-1.1l1.1-0.5l1.2-1.7l1.8 1.3l-1 1.1l-1.5-0.1l-1 2.4l-2.5 0.4l-1.4-0.7z" fill="#a8d0e4"/><path d="M235.9 104.4l2.3-0.8l2.4 1.6l-0.9 0.8l-0.5 1.3l3 3.4l0.5 1.6l0.1 1.5l-3 2.7l-0.1-1.1l-0.5-0.5l1.3-0.5l0.9-1.1l-0.2-2.6l-2.5-3l-1-0.5l0.3-0.6z" fill="#b4d8ea"/><path d="M225.0 104.7l0.5-0.7l-0.3-1.1l-0.5-0.3l0.5-0.6l-0.7-0.5l0.2-0.5l1 0.3l0.3 0.6l2 0.4l-0.3 1.6l0.3-0.6l0.6 2.1l-1.1-1.3l-0.7 0l-0.1 0.9z" fill="#8ebcd4"/><path d="M218.3 97.7l4.1 1.9l1.7 0.1l0.3 1l-1.7 0.1l-4.9-1.9z" fill="#a8cfe2"/><path d="M220.2 118.8l-0.6-2l0.2-1.3l1.5 2l-0.4 1.1z" fill="#c0dfee"/><path d="M251.5 94.0l-1.2-2l0.5-0.2l-0.8-0.7l1.2-0.7l2.1 2.6l-0.1 0.4z" fill="#b4d8ea"/><path d="M198.2 103.0l1.5-1.8l0.2 0.2l0.1 0.9l-0.3 0l-0.4 1.9l-2.5-0.3l-0.4-1z" fill="#7aaecb"/><path d="M80.0 194.3l-15.8-5.5l10.2 0l3.9-0.7l2.9-1.3l13.2-0.9l17.8-0.5l1.2-2.1l3.5-0.7l4.2-2.7l-1.1 0.8l-0.8 1.9l4.9 4.2l9.2 2l5.1 0l4.5-2l13.4-3.5l11.5 0l11.7-0.7l9.4-1.5l8.4 0.7l12.9-1.5l26.9 0l7.1 1.5l7 2.9l-7.5 3.4l4.7 0.7l-15.8 5.5z" fill="#dcdcdc"/><path d="M257.2 131.2l-3 1.8l-5.8-1.2l-0.4-0.6zM245.8 130.0l1.5 0.8l0 0.9l-7.2-1.7l0.6-0.9zM264.2 127.0l1.6-1.7l2.8 1l-0.4 5.6l-1.4-0.8l-0.8 0.1l0.5-1.1l-0.3-1.4l-3.5-1.6l-0.7 0.5l-0.6-1.2l0.9-0.2l-1.6-0.9l1.1-1l1.3 0.4zM252.7 126.3l1.3 1.6l-0.9 0.4l-1-0.6l0 1.1l-1 0l0.3-1.7l-0.5-0.7l1.5-2.8l-0.2 0.7l0.5 0.9l1.8-0.3l-1.1 0.3zM237.3 122.2l2.5 3.9l1 0.6l-0.3 2.4l-0.9 0l-1.6-1.4l-3.2-5.3l-2.7-3.2l1.8 0.3l2.5 2.7zM248.6 120.3l1.5 0.1l-0.4 0.8l1.3 2l-0.8 0l-0.3 1.5l-1.1 0.6l-0.3 2.2l-1.1 0.1l-0.9-0.9l-2.5-0.2l0.1-1l-0.9-1.1l0.5-2l1.4 0.7l2.5-0.4zM255.2 123.8l-2.8-0.2l0.1-0.7l2.9 0.6l0.6-0.7z" fill="#a4cde2"/><path d="M66.6 72.4l8.6-7.4l6.7-0.3l11.1 1.5l5.9 0l3.7-2.1l-1.3 0.6l-10.8 1.1l-2-0.4l1.1-1.4l4.4-1.4l4.4 0l0 0.6l5.4-1l0.6 1.1l-0.9 0.4l1.5 2.1l4.1-0.7l-1.3 2.6l-10.1 3.9l-2.1 1.6l0.2 1.6l5.6 1.6l-0.7 2.1l1.6 0.8l1.8-2.9l2.3-2.4l0.5-2l1-1.6l2.9 0.2l1.4 1l0.2 2l3-1.5l0.5 3.1l1.8 2l0.7 1.7l-3.4 3.4l-3.7-0.5l-0.8 1.3l3.1 1.1l-2.8 1.1l-3.1 0l0.7-0.3l-0.3-0.8l0.5-1.2l-1-0.3l-2.4 2.1l-2.4 0l-3.5 1.5l-2.3 0.2l0.5-2l-1.2-1l-5.8-2.5l-0.5 0.4l-19.5 0l-1.7-1.7l0.6-1.2l-0.1-1.5l0.6-1.4l-0.4-1.3l-2.4-1.6l-1.9-0.3zM117.6 66.2l1.8 1.1l-3.4 2.3l-3.8 0.8l-0.5-1.2l-2.9-0.3l5.1-2.3l-2.8-1.9l-3.5 0l-1.6-0.7l4.3-1.8l2.3-0.1l3.6 1.9zM122.8 60.6l-3.6-1l0.6-0.7l6-1.7zM86.5 63.3l5-1.8l0.9 1.1l-2.8 1.4l-3.4 0zM114.4 60.2l-1.3 1.3l-6.8 0.4l-0.7-1.4zM93.5 61.2l1-0.7l6.3 0l-0.3 0.7l-3.6 0.3zM109.3 57.9l3.5-0.7l9.5-0.8l3.9 0.5l-11.8 3.3l-4.9-0.3z" fill="#dcdcdc"/><path d="M81.9 109.9l-1.6 0.4l-1.6-0.4l-4.8-2.9l0.2-3.1l-3.8-5.4l-0.1-1.7l-1.1-0.4l-0.2 1.4l0.8 1.3l1 4.8l-1.3-1.4l0.2-1.3l-1.4-1.4l0.4-0.8l-0.7-1l-0.4-2.3l1.7 0l2.6 1.1l3.5-0.5l0.9 1.9l1.1 0.6l1.4-0.7l0.9 2l1.4 1.2l-0.9 3.5l0.2 1.3l0.7 1.3l1.1 0.7l1.7-0.3l-1.2 2.4z" fill="#dcdcdc"/><path d="M85.0 107.4l1-1.9l2.4-0.2l-1.4 2.6l-0.1 1.7l0.6 0.2l-0.8 0.8l-2.5-2.8z" fill="#dcdcdc"/><path d="M87.4 113.2l2.5-2.3l0.7 0.9l-0.5 1.9l-1.8 0.7z" fill="#dcdcdc"/><path d="M92.5 103.8l2.3 0.1l2.5 1.9l-0.4 0.7l-0.9 0.1l-0.6-1.3l-2.3-0.5l-3.1 0.2z" fill="#dcdcdc"/><path d="M87.4 113.2l-1.8-1l-0.9-0.2l2-1.4z" fill="#dcdcdc"/><path d="M100.6 127.7l-0.7-0.1l-1.7 1.3l-0.7 1.5l0.7 1.8l2.1 0.1l0.1 1.3l1.7-0.1l-2 3.8l-2 0.8l-1.3-0.8l-4.1-7.3l7.4-3.2l0.6 0.1z" fill="#dcdcdc"/><path d="M84.7 112.0l-2.1-1.8l1.6-2.4l2.3 2.7z" fill="#dcdcdc"/><path d="M90.5 116.8l-1.2-1.3l-1-0.2l0-0.9l1.8-0.7l-0.1 0.7l1.2 1.5z" fill="#dcdcdc"/><path d="M91.7 129.1l0-1.2l0.7-1.1l-0.5-1.5l2.4-4.2l5.8 5.7l-7.4 3.2z" fill="#dcdcdc"/><path d="M87.5 109.8l2.4 1.1l-2.4 1.9l-0.8-2.2z" fill="#dcdcdc"/><path d="M94.8 119.7l-0.2-2.4l-1.9 0.3l-1.9-0.7l0.4-1l0.8 0.4l1.2-0.7l1.6 1.1l1.2-1l0.5-1.1l1.8-0.8z" fill="#dcdcdc"/><path d="M125.8 64.0l-0.4-3.2l-2.6-0.2l3-3.4l16.5-1.1l1.7 0.3l-5.5 9.7l-0.9 0.1l-2.3 1.5l-3.2 0.7l-3.5 3.9l-2.9-1.5l-0.6-1.6l0-3.4l2-1.1z" fill="#dcdcdc"/><path d="M100.7 123.0l0 3.9l-0.6-0.1l-5.8-5.7l0.5-1.4l3.6-5.7l0.8 0l3 8.4z" fill="#dcdcdc"/><path d="M99.2 113.3l-0.1 0.7l-0.8-0.2zM98.0 106.8l2.4-0.1l-0.4 1.9l-2.1-0.6zM97.3 105.8l0.9 0.6l-1.3 0.1z" fill="#dcdcdc"/><path d="M109.0 169.9l1.3 0l2.6 1.7l-1.6 0.5l-2.4-0.8zM109.4 169.6l-1.1 1l-2.6-1.1l-2.5-4.2l0.3-1.7l-0.4-3l-1-2.2l-0.3-2l0.3-4.1l-0.8-4.8l0.1-6.1l-0.4-1.4l-2.9-1.9l2-0.8l5.4 5.7l-2.9 5.2l2.6 3l-0.8 6.4l0.7 0.8l0.4 6.1l1 0.9l0.8 3.5z" fill="#dcdcdc"/><path d="M112.4 157.8l-2.1 0l0.5 1.6l-2 0.3l0.8 1.3l0.1 1.7l-1.3 1.3l1.7 1.6l-1 3.2l0.7 0.5l-0.4 0.3l-2.1-0.7l-0.8-3.5l-1-0.9l-0.4-6.1l-0.7-0.8l0.8-6.4l-2.6-3l2.9-5.2l1.5-0.1l4.1 5.8l-1.4 3.1z" fill="#dcdcdc"/><path d="M99.5 114.9l0.3-0.5l-0.2-0.5l-0.4 0.1zM99.5 114.9l2.7 7.5l1.9 0.9l1-0.6l2.5-7.3l-0.4-0.6l-4.8 0l-1.5-0.8z" fill="#dcdcdc"/><path d="M99.2 113.3l0.4 0.6l-0.5 0.1zM101.5 106.8l1.1 1l-2.6 0.8l0.4-1.9z" fill="#dcdcdc"/><path d="M114.1 148.0l-1.9 2.4l3.2 1.5l0.6 1.5l0.4-0.4l-0.7 1.2l-2.5 0.6l0.7 1l-0.3 1.5l-1 0.4l-2.9-5.9l1.4-3.1z" fill="#dcdcdc"/><path d="M103.2 133.0l1.2 0.2l0.5 1.7l3.6 1.2l0.4 2.1l1.6 0.4l-3.5 4.3l-1.5 0.1l-5.4-5.7l2-3.8z" fill="#dcdcdc"/><path d="M108.9 122.6l-0.3-3.2l-1.1 0.9l-1.4 0.3l1.5-5.2l3.4 3.4l-1.3 3.8z" fill="#dcdcdc"/><path d="M111.1 139.7l0 3.6l1.9 0.4l1.1 1.2l-0.1 1.4l0.8 1.3l-3.7 1.1l-4.1-5.8l3.5-4.3z" fill="#dcdcdc"/><path d="M112.9 122.2l0.1-3.3l1.1 0.3l1.2 1.1l-0.4 1.5z" fill="#dcdcdc"/><path d="M112.9 122.2l-3.2 0.4l1.3-3.8l2 0.1z" fill="#dcdcdc"/><path d="M150.3 120.2l-2.9-2.1l1.3-1.6l1.2-0.5l1.1 4z" fill="#dcdcdc"/><path d="M147.2 118.0l-1.4-1.4l-0.5-1.2l0.5-0.4l2.9 1.5z" fill="#dcdcdc"/><path d="M142.7 111.2l0.6-1.3l0-3.3l5.5 4.1l-2.3 2.2l-3.6-0.8z" fill="#dcdcdc"/><path d="M142.9 105.7l2.2-4.5l1.2-1.4l2.2-1l2.7 3l-7.5 4.9z" fill="#dcdcdc"/><path d="M163.8 73.4l-0.9-0.7l-1 0.9l-1.9-0.1l-0.6-1.9l0.2-0.9l3.1-1.9l3.1-3.1l1.5-0.9l2.6-0.5l-0.4 3.6l-3.1-1.3l-0.9 3.8l-1.3 0.2zM169.8 58.3l-5.7 1.6l-2.2-1l4.2-1.2z" fill="#dcdcdc"/><path d="M145.3 115.4l-2.2-2.2l-0.2-1.1l3.6 0.8z" fill="#dcdcdc"/><path d="M143.2 67.4l4.7 0.1l0.2 0.9l-3.5 1.3l-1.8-0.3l-1-1.3zM144.0 56.4l6.5 0.8l-4.1 0.7l0.2 3.3l-1.5 2.1l-3.4 2.5l-3.2 0.3z" fill="#dcdcdc"/><path d="M160.7 81.0l-1.5-0.4l-1.1-1l1-0.7l1.4 1.1z" fill="#a8cfe2"/><path d="M149.5 79.1l0.1-0.9l0.6-0.5l-0.6-0.6l2.6-0.9l0.3 0.5l-0.3 2z" fill="#dcdcdc"/><path d="M146.5 112.9l2.3-2.2l1.6 0l0.8 2.5l-1.3 2.8l-1.2 0.5l-2.9-1.5z" fill="#dcdcdc"/><path d="M151.2 101.8l1.7 0.7l-2.5 8.2l-1.6 0l-5.1-4z" fill="#dcdcdc"/><path d="M151.6 91.9l-1.9-0.2l0.1-1.4l-0.5-0.1l0.6-1.5l-0.3-2.2l0.9-0.6l1.1 0.1l0.6 6.5z" fill="#dcdcdc"/><path d="M166.3 130.5l-0.2-2.5l-1-0.9l-1.3-2.7l3.2-2.1l-0.2 7.9z" fill="#dcdcdc"/><path d="M156.9 118.9l-2.2 1l-0.9-0.2l-0.2-4.3l2.1-0.3z" fill="#dcdcdc"/><path d="M153.8 119.7l-2.8 0.3l-1.1-4l1.3-2.8l2.4 2.2z" fill="#dcdcdc"/><path d="M148.6 98.7l0.3-2.6l2.5-2.2l0.5-1.1l2.7 0.6l0.4 4.7l-1.7 4.3l-2.1-0.6z" fill="#dcdcdc"/><path d="M154.7 92.0l-2.5 0.5l-0.6-6.5l3.4 0.2l3.2 0.8l0.3 0.6l-1.6 0.7l-1.1 2.9z" fill="#dcdcdc"/><path d="M160.4 79.0l0.1 1l-1.4-1.1l0.6-1.1l1.3-0.1l0 1z" fill="#9cc6dc"/><path d="M153.3 102.4l5.9 3.1l-0.2 5.2l-8.1 0.6l-0.5-0.6l2.5-8.2z" fill="#dcdcdc"/><path d="M158.6 118.5l-1.7 0.4l-1.2-3.8l1-0.7z" fill="#dcdcdc"/><path d="M163.8 124.4l0.3-3l-1-1.3l-2.4 0l2.1-0.7l4.4 2.5z" fill="#dcdcdc"/><path d="M156.7 114.4l-1 0.7l-2.1 0.3l-2.4-2.2l-0.3-1.9l8.1-0.6z" fill="#dcdcdc"/><path d="M159.7 118.5l-1.1 0l-1.9-4.1l2.4-3.5l1.1 1.1l0.3 7.8z" fill="#dcdcdc"/><path d="M154.8 93.4l3.7-1.5l1.7-0.1l0.7 5l3.1 3.7l-0.1 2.1l-4.7 2.9l-5.9-3.1l1.7-4.3z" fill="#dcdcdc"/><path d="M162.6 87.9l0.1-1l0.4-0.4l0 1.3zM164.3 83.3l-3 0.7l-0.7-0.2l1-1.1l2.7 0.1z" fill="#dcdcdc"/><path d="M159.0 110.7l0.2-5.2l4.7-2.9l3.8 3.3l-0.9 7.1l-6.6-1z" fill="#dcdcdc"/><path d="M160.7 120.1l-0.5-8.1l6.6 1l0.4 0.8l-4.4 5.6z" fill="#dcdcdc"/><path d="M167.2 113.8l2 1.4l0.5 5.4l-2.5 1.3l-4.4-2.5z" fill="#dcdcdc"/><path d="M160.2 91.8l4.3-0.1l-0.3 1.1l0.4 0.5l-0.6 1.1l3.7 1.4l-3.7 4.7l-3.1-3.7z" fill="#dcdcdc"/><path d="M162.0 76.4l-0.1-1.7l1.3-0.5l-0.1 1l0.4 0.1l-0.7 1.1l0.6 0.5zM165.2 76.1l-0.6-0.8l-1.1-1.9z" fill="#dcdcdc"/><path d="M169.8 71.8l-0.5-1.5l0.6-0.8zM169.5 67.9l-2.2 2.3l-0.1 1.7l1.1 0.4l-0.5 0.9l-0.7 0.2l-0.3 2.1l-0.8-0.1l-0.8 0.7l-1.4-2.7l0.4-2.8l1.3-0.2l0.9-3.8z" fill="#dcdcdc"/><path d="M166.8 113.0l0.9-7.1l6.8-1.1l0.8 0.9l0.3 7.7l-6.4 1.8l-2-1.4z" fill="#dcdcdc"/><path d="M170.4 97.4l1.1-0.4l0-1l2.9 3.1l0.1 5.7l-6.8 1.1l-3.8-3.3l0.1-2.1l3.7-4.7l0.8 0.9z" fill="#dcdcdc"/><path d="M166.9 84.7l-0.8 0l-0.2-1.2l2.1-0.6z" fill="#dcdcdc"/><path d="M164.8 80.3l1.8-0.6l-0.7-2.4l0.6-0.2l2.1 3.4l-0.3 2z" fill="#dcdcdc"/><path d="M167.8 86.1l-0.8-1.3l1.3-2.1l0.6 1.1z" fill="#dcdcdc"/><path d="M169.6 149.7l-1.6-2.2l-0.5-3.4l-1.9-5.1l7.1 0.3l-0.1 7.1z" fill="#dcdcdc"/><path d="M165.9 136.6l1.2-1.7l0.1-1.3l-0.9-3.1l4.5-1.2l1.7 1.3l1.8 4l-0.5 3.8l-1.1 0.9l-7.1-0.3z" fill="#dcdcdc"/><path d="M165.9 83.5l-1.6-0.2l0-0.5l1.2-0.1l0.5-1.1l-0.5-0.5l2.8 1.4l-0.3 0.4z" fill="#dcdcdc"/><path d="M167.2 121.9l2.5-1.3l1.3 1.1l0.9 3.1l-1.1 4.5l-4 0.9z" fill="#dcdcdc"/><path d="M168.3 82.7l3.8-0.3l-0.1 1.2l-1.9 1.1l-1.2-0.9z" fill="#dcdcdc"/><path d="M166.5 77.1l3-0.2l0.6-0.4l2.2 3.3l-3.7 0.7z" fill="#dcdcdc"/><path d="M169.2 86.7l-1.2-0.5l0.9-2.4l1.2 0.9l0 0.7z" fill="#dcdcdc"/><path d="M171.1 89.7l-0.8-2.2l0.9-0.5l0.5 1.8z" fill="#dcdcdc"/><path d="M177.5 73.0l-7.7-1.4l0.1-2.1l1.8-1.1l-0.6-0.5l-1.6 0l0.4-3.6l2.3-0.3l1.9 0.3l-0.8 1l4.1 0.2l0.2 1.9l-1.1-0.2l-0.7 0.3l2 1.5z" fill="#dcdcdc"/><path d="M181.7 146.5l-0.1 1.5l-4.8 0.3l-1.2 5.3l-2.3 0l-2 0.7l-1.1-0.6l-0.6-3.7l3-3.6l2.8 0l3-2.9l5 1.7z" fill="#dcdcdc"/><path d="M175.6 113.4l0.5 0.6l0.5 4.8l-5.6 2.9l-1.3-1.1l-0.5-5.4z" fill="#dcdcdc"/><path d="M172.3 79.8l0.5 0.3l-0.7 2.3l-3.8 0l0.3-1.9z" fill="#dcdcdc"/><path d="M171.5 95.9l1.1-0.5l1.1 0.2l3.9 1.3l-3.2 2.2zM176.0 93.2l-0.4 0.3l-1.7-0.3zM177.2 92.0l-1.4-1.3l0.1-0.3zM173.7 88.9l0.5 0.1l-1.3 0l1.2 1.7l-0.7 0.3l-0.4-0.4l0.5 0.7l-0.2 1l-0.8-0.4l-1.4-2.2l0.6-0.9l2-0.4z" fill="#dcdcdc"/><path d="M170.9 74.2l1 0.6l0.1-0.9l2.9 0.9l-1.1 1.5z" fill="#dcdcdc"/><path d="M170.4 76.2l-0.3-1.3l0.6-0.6l3.1 2l-0.8 3.8l-0.7-0.3l-2.2-3.3z" fill="#dcdcdc"/><path d="M170.3 87.5l-1.1-0.8l0.9-1.3l1.2 1.5z" fill="#dcdcdc"/><path d="M172.0 83.6l0.9 2.5l-1.6 0.8l-1.2-1.5l0-0.7z" fill="#dcdcdc"/><path d="M172.0 83.6l0.8-3.5l1.1 0.4l2.1 4.8l-3 0.2z" fill="#dcdcdc"/><path d="M170.8 129.3l1.1-4.5l-0.9-3.1l5.6-2.9l1.8 2.5l-1.1 2.8l0.2 3.9l3.2 3l0.1 1.2l-6.5 2.4l-1.8-4z" fill="#dcdcdc"/><path d="M171.3 86.9l1.6-0.8l0.8 2.3l-2 0.4z" fill="#dcdcdc"/><path d="M177.6 96.9l1.8-0.1l2.5 2.6l2.6 5l-1.3 1.3l-7.9 0l-0.8-0.9l-0.1-5.7z" fill="#dcdcdc"/><path d="M178.4 122.1l4.9 4l-0.2 0.3l-5.5 0l-0.3-2.3z" fill="#dcdcdc"/><path d="M176.6 118.8l-0.5-4.8l7.4 0l0.6 4.9l-5.7 2.4z" fill="#dcdcdc"/><path d="M172.7 139.3l1.1-0.9l2.4 0.9l2.2 4.2l-3 2.9l-2.8 0z" fill="#dcdcdc"/><path d="M173.8 76.3l1.1-1.5l2.6-1.8l1.6 4l-3.4 3.3l-1.8 0.2l-0.9-0.4z" fill="#dcdcdc"/><path d="M175.6 89.6l-0.2-1.2l-1.7 0l-0.7-2.9l3-0.2l0.9 0.7l-0.2 1.5z" fill="#dcdcdc"/><path d="M181.6 148.0l-2.5 3.3l-2 1.7l-1.5 0.6l1.2-5.3z" fill="#dcdcdc"/><path d="M177.6 126.4l5.5 0l-2.4 4.6l-3.2-3z" fill="#dcdcdc"/><path d="M171.4 73.0l3.4-0.5l2.7 0.5l-2.6 1.8l-3.5-1.4zM170.9 72.4l-1.1-0.8l2.9 0.5z" fill="#dcdcdc"/><path d="M174.3 134.6l6.5-2.4l0.1 5.2l-4.7 1.9l-2.4-0.9z" fill="#dcdcdc"/><path d="M178.1 83.5l-1.2 1.8l0 0.7l-0.9-0.7l-2.1-4.8l1.8-0.2z" fill="#dcdcdc"/><path d="M177.5 65.5l2.4 0.8l0.7 0.6l-1.3 0.8l-1.7-0.3zM179.0 69.3l-0.2-0.9l1.6 0.4l0.4-0.2l-0.5-0.5l1.6-0.7l0.8 0.3l-0.3-1.4l-0.8-0.6l1.8 0.3l0.4 0.4l-0.7 0.1l0.8 0.7l3.5-1.7l2.3 0.3l1.3-1l3.8 0.3l-0.8-1.1l0.5-1.3l1.9 0l0.3 1l2.6 2.2l-0.4 1.6l0.7 0l0.7-1.2l-1.7-1.3l0-0.7l-1.2-0.7l0.7-0.4l-0.5-0.5l0.8 0.4l0.3 0.7l1.7 0l-1.5-0.7l1.3-0.2l1.7 0.5l-1.6-1.3l3.3-0.2l-0.6-0.8l6.1-0.9l-0.2-0.3l1.1-0.5l2.5 0.8l1.8-0.1l2.4 0.5l0.1 0.6l-1.2 0.5l6.2 0.8l3.9-0.3l5 1.9l-0.4-0.7l4.6 0.2l-1.4-0.6l0.4-0.3l5.6 0.4l3.5 1l3.3 0l2.8 1l3.7-0.1l2.1 0.7l0.3-0.3l-1.4-0.8l5.5 0.5l1.3 0.3l4.7 3l-0.3 0.4l-0.9-0.1l3.7 1.8l-1.3-0.1l-1.5 0.6l-0.2 1.4l-1.6-0.5l-0.9 0.6l-1.9-0.1l0.7 1.4l1.3 0.5l1.9 2.2l-0.7 0.5l0.7 0.9l-0.9 0.2l0.7 0.9l-0.2 0.7l-5.5-4.8l1-3.4l-1.1-1.2l-0.6 0.1l0 1.6l-1.8-1.1l-1.2 0.3l-0.1 1.3l1.2 0.6l-2.2 0.2l-1.7-0.7l-0.4 0.4l-3.9 0.2l-1.2 3.5l2.7 0.7l0.1-0.4l0.8 0.1l1.7 0.9l2.5 3.9l-0.7 4.3l-0.7 0.5l-1.1-0.4l-0.2 0.4l-1.5-1.8l1.3-0.1l-0.7-3l-2.4 0.6l-0.9-0.9l-2.6-0.8l-4.1-2.8l-1.9-0.3l-0.2 1.1l-7.7-3.1l-1.9 1.8l-6.6-1l-2.2-1.2l-5.4 2.8l-3.6-2.2l-5.4 1.5l-5.3-2.5l-2.9 3l-6.9-2.5l-1.4 1.4l-0.6 3.5l-1.5 0.6l-7.3-3.1l-0.7-0.7l-1.6-4l0.3-4zM194.9 65.1l-0.1 0zM195.6 66.0l0.8 0.1l0.2-0.4l-1.7-0.6zM188.9 64.2l-1.3 0.1l-2.1-0.7l3 0.4l-0.2-0.2zM192.2 60.2l-4 1.3l-0.8 1.4l0.9 0.9l-0.7-0.5l-0.9-1.1l0.2-1.4l4.2-0.9zM204.1 58.6l-1.5-1.2l7 1.5l-2.5 0zM256.5 83.3l-4.9-6.4l5.3 4.5l-1.2-0.2l1.9 2.1zM232.9 60.5l1.9 0.3l2 0.4l-2.7 0.7l-3.8-0.7z" fill="#dcdcdc"/><path d="M178.4 143.5l-2.2-4.2l4.7-1.9l0.7 0.6l1.5 6.9z" fill="#dcdcdc"/><path d="M180.8 132.2l4.6 0.5l-0.5 4.2l-3.3 1.1l-0.7-0.6z" fill="#dcdcdc"/><path d="M179.5 84.5l0.6-0.5l-2-0.5l-2.4-3.2l3.4-3.3l0.7 0.7l7.3 3.1l-2.6 5l-1.5-1.2l1-1.5l-0.7 0.2l-1 1.3l-1.9 0.7z" fill="#dcdcdc"/><path d="M183.3 92.1l-1.2-0.1l-1.8-1l-1.8 1.5l-1.3-0.5l-1.4-2.3l0.9-2.2l0.8 0.6l1.4 0l1.4-0.7l1.4 0l2.4 1l2.2-0.5l1.4 1.1l1.3 3l-1.5 0.8l-3-2z" fill="#dcdcdc"/><path d="M274.6 164.0l7.7-4.4l1 0.4l-0.7 0.8l-3.6 1.9l-1.6 1.2l-1.4 0.6zM287.4 158.2l-3.6 2.1l-0.2-0.3l1-0.7l-0.1-1.1l1.6-1.6l0.1-2.5l0.9 0.7l-0.1 2l0.8 0.3l1-0.2z" fill="#dcdcdc"/><path d="M187.8 132.9l0.6 0.5l-0.1 3.2l-0.9 1.8l-2 1.1l-1.5 1.9l-0.1 3.5l-0.4 0.3l-1.8-7.2l3.3-1.1l0.5-4.2l2.3-1.3z" fill="#dcdcdc"/><path d="M187.8 127.7l-0.7 2l0.6 1.7l-2.3 1.3l-4.6-0.5l-0.1-1.2l2.6-4.9l0.7-0.3z" fill="#dcdcdc"/><path d="M175.6 113.4l-0.3-7.7l7.9 0l0.3 8.3l-7.4 0z" fill="#dcdcdc"/><path d="M178.4 122.1l0-0.8l5.7-2.4l0.6 0.6l-0.7 6.3l-0.7 0.3z" fill="#dcdcdc"/><path d="M184.1 118.9l-0.6-5l3.8-0.4l3.5 3.6l-1.7 3.3l-4.4-0.9z" fill="#dcdcdc"/><path d="M179.4 96.8l3 0l0.5 2.8l-0.6 0.1l-1.1-1.8l0.7 1.5zM183.1 98.3l-0.7-1.5l0.4-1.4l0.9 0.3z" fill="#dcdcdc"/><path d="M180.6 93.8l0-0.4l1.6-0.5l-0.3 0.7zM182.1 92.0l-1.5 0.5l-1.4-0.5l1.1-1z" fill="#dcdcdc"/><path d="M185.9 96.1l-0.6 1.3l-1.1 0.8l-0.9 0.1l0.4-2.6l1.2-0.3l1.8 0.9z" fill="#dcdcdc"/><path d="M184.5 104.4l1 3l1.1 1l1 2.4l1.2 0.9l-1.5 1.8l-3.8 0.4l-0.3-8.2z" fill="#dcdcdc"/><path d="M182.8 95.4l0.3-1l0.3-2.3l1.5 3.3l-1.2 0.3z" fill="#dcdcdc"/><path d="M186.7 96.3l-1.8-0.9l-1.5-3.3l1.1-1.3l3 2z" fill="#dcdcdc"/><path d="M196.1 137.5l-3.3 8.2l-1.5 0.5l-1.1-1.7l-0.1-1.6l1-1.5l-0.2-2.1l1.9-1.5l2.5-3.3z" fill="#dcdcdc"/><path d="M191.2 124.4l-2.9 2l-0.5 1.3l-3.8-1.9l0.7-6.3l4.4 0.9z" fill="#dcdcdc"/><path d="M190.1 98.2l-3.3-1.9l0.7-3.5l1.5-0.8l0.6 0.2l2 3.7z" fill="#dcdcdc"/><path d="M195.4 98.9l-0.8-1.1l-0.9-0.2l-0.7 0.2l0.4 1.2l-3.3-0.8l1.5-2.3l2.4 0.2z" fill="#dcdcdc"/><path d="M188.9 111.9l1.7 1.1l0.6 1.8l1.2-0.1l-0.6 1.8l-1 0.6l-3.5-3.6zM192.2 112.7l-1.5 0.3l-0.8-2.3l0.4-0.8z" fill="#dcdcdc"/><path d="M192.4 114.7l4.4-1l-0.4 2.5l-1.9 4.1l-3.3 4.1l-2.1-4l1.7-3.3l1-0.6z" fill="#dcdcdc"/><path d="M190.3 83.1l-0.6 3.8l-2 2.1l-3.2-3.2l2.6-5l1.5-0.6z" fill="#dcdcdc"/><path d="M190.0 85.2l2.6 3.9l0.3 1.9l-2.2 0.3l-1-4.4zM195.2 89.1l-0.3-1.4l0.6 1.8zM190.1 84.5l0.2-1.4l0.6 0.6z" fill="#dcdcdc"/><path d="M198.1 109.4l-0.7 1l-5.2 2.2l-2-3.3l0.2-0.6l2.9 0.5l1.5-1.4l2.2-0.3z" fill="#dcdcdc"/><path d="M216.6 83.1l-1.9-0.2l0.3 1.5l-1.4 0.5l0.6 2.5l-6.3-3.8l-1.1 2.4l-1 0.4l-6.3-3.7l-0.5 2.8l-3.7 2.6l-2.5-2.8l1.4-0.5l-0.4-1.3l-1.2-0.4l-1.7 0.6l-2.3-3.5l0.6-3.5l1.4-1.4l6.9 2.5l2.9-3l5.3 2.5l5.4-1.5l3.6 2.2l2.1 4.1z" fill="#dcdcdc"/><path d="M187.7 89.0l2-2.1l1 4.4l-1.1 0.9l-0.6-0.2z" fill="#dcdcdc"/><path d="M203.8 102.1l-3.1-0.5l-0.4-1.1l-1.4 0.2l-0.8-1.2l-2.5-0.7l-1.6-2.7l-2.4-0.2l-2-3.7l1.1-0.9l2.2-0.3l2.2 1l1.3-0.2l0-0.3l2.7 2.3l3.1 0.3l2.5 4.1z" fill="#dcdcdc"/><path d="M241.3 113.3l-0.9 1.1l-1.3 0.5l-0.8-0.1l-1.1-2.3l0.7-1.2l3.3 0.5z" fill="#dcdcdc"/><path d="M256.1 119.1l-1.2-0.8l-1.6-0.4l2.5-1.7l0.9 0.5l0.1 1zM254.1 115.7l-0.9-2.6l1.6 0l1 0.9l-0.3 1.3zM252.3 108.1l-0.1 3.4l2 0.5l0.2 1l-3.3-2.1l-0.4-1.2l0.4 0.1l-0.2-1.9z" fill="#dcdcdc"/><path d="M198.5 100.9l-2.6-1.2l-0.5-0.7l2.7 0.5l0.8 1.2z" fill="#dcdcdc"/><path d="M196.4 91.5l-0.9-2l-0.2-1.4l3.7-2.6l4.2 6.1l-1 2.5l-3.1-0.3z" fill="#dcdcdc"/><path d="M202.6 104.2l0.3 0.6l-0.8 1.4l-0.4-0.1l-0.2 1.4l-0.8 0.3l-0.9 1.2l-1.7 0.4l-1.1-1.9l2.4-0.9l0.4-1.8l-0.6-0.6l0.5-1.9z" fill="#dcdcdc"/><path d="M212.0 91.8l1.3 0.9l1.5 0.4l0.8 1l0.7 1.5l-0.5 0l0.4 1l2 1.1l-0.4 1.2l2.7 1.2l2.9 0.7l1.6 1.4l-0.4 0.4l0.9 1.4l-0.5 0.7l0.7 0.1l-1.5 0.5l-0.2 1.1l-1 0.6l-2 2.5l-1.4 0.6l0.1 4.8l-0.5 0.1l0 1l-1.3 1l-3.7-7l-1.2-4.7l-1.6 0.5l-1.1-1.1l1.1-3.3l1.6-0.7l0.1-2.3l-2.9-4.3zM227.5 99.7l1.3-1.2l2.3 0.9l1.2 0.6l-0.3 2.1l-3.7 2.1l-0.2-0.9l-0.4 0.5l0.3-1.5l-0.9-0.2z" fill="#dcdcdc"/><path d="M210.2 104.1l-1.5-0.9l-1-1.3l-3.9 0.2l0.9-3.9l2-0.3l2.6-3.9l0.9 0.1l2.9 4.3l-0.1 2.3l-1.6 0.7z" fill="#dcdcdc"/><path d="M202.2 94.1l1-2.5l2.5-0.9l3.6 3.3l-2.6 3.9l-2 0.3z" fill="#dcdcdc"/><path d="M199.5 82.7l6.3 3.7l-0.1 4.3l-2.5 0.9l-4.2-6.1z" fill="#dcdcdc"/><path d="M214.2 87.4l-1.9 1.3l-1.1 0l-0.8 0.8l1.4 1.7l-5-5.2l1.1-2.4z" fill="#dcdcdc"/><path d="M211.8 91.2l0.2 0.6l-1.8 2.3l-0.9-0.1l-3.6-3.3l0.1-4.3l1-0.4z" fill="#dcdcdc"/><path d="M224.4 100.8l-0.3-1.1l0.4-0.2l2.8 0.2l-0.2 2.4l-1.1-0.2l-0.2-0.6l-1.1-0.4l-0.2 0.6l0.5 0.7l-1.6-1.4z" fill="#dcdcdc"/><path d="M232.1 103.2l0.5-0.2l1.1 1l-0.1 0.7l0.4 0.3l-0.1 2.8l1.5 5.5l-1 0.6l-1.6-4.6l-1.3 1l-1-0.3l-0.2-1.9l-2.2-3l0.5 0.4l-0.3-1.3l3.7-2.1z" fill="#dcdcdc"/><path d="M238.5 78.7l0.1 1.7l-0.5 0.6l-1.4-0.3l3.9 2.4l-1.7 0.5l-1 0.9l-1.8 0.2l0.2 1.5l-3.6 1.5l-3.4-0.9l-3.3 0l-1.4-1.4l-3.5-0.9l-0.3-0.6l-3.8-2.6l-0.2 0.8l-2.1-4.1l5.4-2.8l2.2 1.2l6.6 1l1.9-1.8z" fill="#dcdcdc"/><path d="M241.4 107.3l1.1-0.8l0.7 0.3l-0.4 1.1l-0.5 0.2zM234.0 105.0l1.7 0.6l0.2-1.1l2.1 2.1l-0.3 0.6l1 0.5l2.4 3.1l0.1 1l-3.3-0.5l-0.5-2.1l-3.5-1.4z" fill="#dcdcdc"/><path d="M237.9 111.3l-1.6 1.7l-0.2-0.7l-0.7 0l0 1l-1.5-5.5l3.5 1.4zM234.9 114.4l0.1 1.6l0.6 0l0.6 1.5l1.2 1.1l-1.6-0.3l-1.3-1.6l-0.1 0.5l0-3.3l0.9-0.4z" fill="#dcdcdc"/><path d="M250.1 102.1l0.7 0.1l-0.3 2.7l-0.7-1z" fill="#dcdcdc"/><path d="M259.0 94.8l-1.1-1l-1.8 0.4l0.1 2.4l-0.9-0.2l-0.2-2.5l0.6-0.8l2.5-0.2l-0.3-1.4l0.7 0.3l0.9-1.1l-0.8-2.6l0.6-0.2l1.9 2.5l-0.3 0.7l0.8 2.2l-2.3 0.8zM260.4 85.3l0.8 1l-0.8 1.1l-1.4-0.5l-0.1 0.8l-0.6 0.2l-0.8-1l0.5-1l-0.9-1.5l3.1 1.3zM257.6 83.3l-0.5 0.7l-0.6-0.7z" fill="#b4d8ea"/><path d="M251.2 87.2l-0.3 0l-0.2 0.6l0.4 0.6l-1.1 0.9l1.1 1l-1.2 0.8l-1.2-0.3l0-1.1l-1-0.5l0.9-1.6l2.4-0.5l-0.3-0.4l0.5-0.1zM255.3 96.4l-0.6-1.6l0.4-0.9z" fill="#dcdcdc"/><path d="M264.7 159.6l-1.7 2l-1.7 0.3l0.9-2.4zM262.3 157.8l-2.3-1.2l0.7-1.1l-0.9-0.5l0.8-1l-0.9 0.6l0.7-1.3l-1 1.1l-0.9-0.1l-1.2-2.4l-1.1-0.4l-5.1 1l-1.5 1.1l-2.3 0l-2.4 1l-1-0.1l-0.8-1.2l0.7-0.3l0.4-1.1l0.3-5l-0.3-0.6l0.8-2.8l2.5-1.5l3.9-1.3l1.1-1.8l0.8 0.2l2.6-2.8l0.8-0.3l0.9 1l1 0l0.6-1.7l2-0.7l0.1-0.4l2.4 1.7l0 1.2l2.1 2.1l0.6 0.2l1-0.8l5.5 4.3l0.1 0.5l0.7 0.1l-0.1 1.4l1.4 1.1l-0.6 2.5l-1.4 2.5l-5.2 5.6l-3.6 1.4l-0.6-0.5l0.1-0.5z" fill="#dcdcdc"/><path d="M263.7 135.9l-2.8-2l2.5 0.7l0.8-0.2l0.4 0.4zM267.4 138.6l0.8-3.4l1.1-1.9l0.6 1.4l-0.2 1.3l1.3 1.1l-0.2 3.5l1.9 1.2l0.2 1.1zM271.4 127.4l2.3 1.9l-0.6 0.5l1.2 2.1l1.6 1.1l-0.7 0.3l-1.6-0.5l-1.3-1.8l-1-0.4l-1.2 0.6l0 0.6l-1.8 0.1l0.3-5.6z" fill="#dcdcdc"/></g></g><path d="M90.0 81.4l0.5-0.3l5.8 2.4l1.2 1.1l-0.5 1.9l2.3-0.2l3.5-1.5l2.4 0l2.4-2l0.9 0.2l-0.4 1.2l0.3 0.8l-2.5 0.9l-0.8 1.5l0.3 0.3l-3.3 0.9l-2.4 3.1l-0.2 1.6l-4.8 3l-0.6 1.5l0.4 3.1l-0.5 1.1l-0.6-0.1l-0.7-2.3l0.2-0.9l-0.9-0.9l-3.7-0.2l-0.6 0.9l-0.8 0.1l-2.6-0.4l-2.9 1.8l-0.4 1.3l-1.3-1.3l-1-2l-1.4 0.7l-1-0.5l-0.9-1.9l-3.6 0.4l-2.5-1l-1.8 0l-0.6-1.3l-1.3-0.6l-0.4-4.9l3.3-5.1l0.7-1.9l1.2-0.1l0.1-0.4zM65.0 72.3l-1.2-0.6l-7.7 2.7l-9.7 2.4l7.2-2.6l1.4-0.9l-3 0.1l1.2-1.1l-1-0.6l2.5-1.9l3.6-1l-2.4 0l-0.7-0.8l4.4-1.2l0-0.6l3.4-1.5l4.9-0.9l7.3 1.2l-8.6 7.3zM211.2 88.7l1.2 0.1l2.1-1.5l-0.8-2.4l1.3-0.5l-0.2-1.4l1.8 0.1l0.4-1.8l3.8 2.6l0.3 0.7l3.5 0.8l1.4 1.4l3.3 0l3.4 1l3.6-1.6l-0.2-1.5l1.8-0.1l1-1l1.8-0.5l-3.9-2.4l1.3 0.3l0.6-0.6l0.1-2.7l1.9 0.2l4 2.8l2.6 0.8l0.9 0.9l2.4-0.6l0.7 2.9l-1.4 0.2l1.2 1.6l-0.4 0.1l0.2 0.5l-2.3 0.5l-1 1.6l-1.9 0.9l0.2-1.3l-0.7-0.4l-1.2 1.3l-0.7 0.1l-0.2 0.5l1.6 1.1l0.6 0.2l0.6-0.6l1.3 0.3l0.3 0.5l-0.9 0.2l-0.7 1.6l3.1 2.8l0.3 0.7l-0.4 0.1l0.9 0.8l0.1 1.4l-0.5 0.1l-1 3.1l-1.9 1.5l-3.7 1.2l-0.1 1l-0.4 0l-0.2-1l-1.5-0.1l-2.4-1.6l-2.3 0.8l-0.2 1.1l-1.3-0.2l-1.7-2.3l-0.6 0.2l0.2-3.2l-3.5-1.5l-1.3 1.2l-2.4-0.4l-2.7 0.3l-5.5-2.5l-0.7-0.6l-0.4-0.9l0.5 0.1l-0.1-0.5l-1.4-2.2l-3.1-1.3l0.2-0.6l-1.4-1.5zM185.3 97.4l0.6-1.3l2.4 0.8l2.3 1.6l2.9 0.6l1.5 1.6l0.2 1l1.6 2.2l2.3 0.3l0.6 0.6l-0.3 1.8l-4.7 1.2l-1.4 1.4l-2.9-0.5l-0.4 1l-3.2-4.3l-0.6-2.1l-3.3-3.8l0.2-1.1l1.2-0.1zM108.9 122.7l6-0.9l0.4-1.5l1.2 2.1l0 1.6l1.2 0.9l2 0l1.2 1.3l2.4 0.3l5 2.3l0.4 1.7l-0.3 1.5l-2.5 3.3l-0.4 4.1l-1 3.6l-0.9 1.1l-3.4 0.8l-1.4 1.6l0.2 2.4l-3 4.5l-0.6-1.5l-3.1-1.6l1.3-1.9l1.2-0.8l-0.8-1.3l0.1-1.4l-1.1-1.2l-1.8-0.4l-0.1-3.6l-0.8-1.5l-1.4 0l-0.4-2.2l-3.5-1.2l-0.6-1.6l-1.2-0.2l-2.8 0.6l0-1.3l-2.2-0.1l-0.6-1.8l0.6-1.4l1.7-1.3l0.8 0l0.3-2.7l-0.3-2l1.6-0.6l1.8 0.9l1.1-0.6l0.9-2l1.4-0.4l1.1-0.8zM153.1 73.5l1.3 0l-0.7 0.8l1.4 0l-0.2 1.3l1.7 2.6l0.9 0.1l-0.5 0.8l0.3 0.4l-4.9 1.1l1.6-1.2l-1.1-0.2l0.5-0.5l-0.3-0.5l0.1-0.5l1.1 0l0.1-0.5l-1.3-0.6l0.1-0.6l-0.6 0.2l-0.3-1.3zM155.0 86.2l0.4-2.2l-0.7-1l-1.6-0.6l0-0.6l2.1-0.1l0.2-0.9l1 0l1.6-1.1l1.2 1l2.8 0.7l-0.4 1.2l-1 1.2l0.7 0.3l-0.1 1.5l0.4 0.3l-0.6 0.6l-1.4-0.3l-1.1 0.3l0 0.5l-1.7-0.3zM160.4 79.0l0.7-0.3l-0.1-1l1-0.1l0-1.2l3.8 0.9l0.8 2.4l-1.9 0.6l1.2 1.3l-0.5 1.1l-3.8-0.1l0.4-1.2l-1.3-0.4zM167.9 90.7l-0.3 1.4l-2.1-1.1l1-0.1zM163.5 88.4l-0.1 1.4l-0.9 0.2l-0.2-1.6zM165.0 83.1l1 0.4l0 0.7l-0.9 0.3l0.2 1.1l2 1.9l2.6 1.5l-0.1 0.3l-1.1-0.5l-0.3 0.5l0.5 0.8l-0.7 0.8l-0.3 0.1l0.3-1l-0.6-0.9l-2.5-1.4l-1.2-1.1l-0.3-0.8l-0.9-0.5l-1.1 0.6l-0.4-0.3l0.1-1.5zM237.5 118.6l1.1 1.1l0.1 1.9l0.6 1l-0.5 0.4l-1.8-1.4l-1.1-3.3zM245.0 122.3l0.2-0.7l1.1-0.3l0.7-1.1l1.1-0.5l1.2-1.7l1.8 1.3l-1 1.1l-1.5-0.1l-1 2.4l-2.5 0.4l-1.4-0.7zM235.9 104.4l2.3-0.8l2.4 1.6l-0.9 0.8l-0.5 1.3l3 3.4l0.5 1.6l0.1 1.5l-3 2.7l-0.1-1.1l-0.5-0.5l1.3-0.5l0.9-1.1l-0.2-2.6l-2.5-3l-1-0.5l0.3-0.6zM225.0 104.7l0.5-0.7l-0.3-1.1l-0.5-0.3l0.5-0.6l-0.7-0.5l0.2-0.5l1 0.3l0.3 0.6l2 0.4l-0.3 1.6l0.3-0.6l0.6 2.1l-1.1-1.3l-0.7 0l-0.1 0.9zM218.3 97.7l4.1 1.9l1.7 0.1l0.3 1l-1.7 0.1l-4.9-1.9zM220.2 118.8l-0.6-2l0.2-1.3l1.5 2l-0.4 1.1zM251.5 94.0l-1.2-2l0.5-0.2l-0.8-0.7l1.2-0.7l2.1 2.6l-0.1 0.4zM198.2 103.0l1.5-1.8l0.2 0.2l0.1 0.9l-0.3 0l-0.4 1.9l-2.5-0.3l-0.4-1zM80.0 194.3l-15.8-5.5l10.2 0l3.9-0.7l2.9-1.3l13.2-0.9l17.8-0.5l1.2-2.1l3.5-0.7l4.2-2.7l-1.1 0.8l-0.8 1.9l4.9 4.2l9.2 2l5.1 0l4.5-2l13.4-3.5l11.5 0l11.7-0.7l9.4-1.5l8.4 0.7l12.9-1.5l26.9 0l7.1 1.5l7 2.9l-7.5 3.4l4.7 0.7l-15.8 5.5zM257.2 131.2l-3 1.8l-5.8-1.2l-0.4-0.6zM245.8 130.0l1.5 0.8l0 0.9l-7.2-1.7l0.6-0.9zM264.2 127.0l1.6-1.7l2.8 1l-0.4 5.6l-1.4-0.8l-0.8 0.1l0.5-1.1l-0.3-1.4l-3.5-1.6l-0.7 0.5l-0.6-1.2l0.9-0.2l-1.6-0.9l1.1-1l1.3 0.4zM252.7 126.3l1.3 1.6l-0.9 0.4l-1-0.6l0 1.1l-1 0l0.3-1.7l-0.5-0.7l1.5-2.8l-0.2 0.7l0.5 0.9l1.8-0.3l-1.1 0.3zM237.3 122.2l2.5 3.9l1 0.6l-0.3 2.4l-0.9 0l-1.6-1.4l-3.2-5.3l-2.7-3.2l1.8 0.3l2.5 2.7zM248.6 120.3l1.5 0.1l-0.4 0.8l1.3 2l-0.8 0l-0.3 1.5l-1.1 0.6l-0.3 2.2l-1.1 0.1l-0.9-0.9l-2.5-0.2l0.1-1l-0.9-1.1l0.5-2l1.4 0.7l2.5-0.4zM255.2 123.8l-2.8-0.2l0.1-0.7l2.9 0.6l0.6-0.7zM66.6 72.4l8.6-7.4l6.7-0.3l11.1 1.5l5.9 0l3.7-2.1l-1.3 0.6l-10.8 1.1l-2-0.4l1.1-1.4l4.4-1.4l4.4 0l0 0.6l5.4-1l0.6 1.1l-0.9 0.4l1.5 2.1l4.1-0.7l-1.3 2.6l-10.1 3.9l-2.1 1.6l0.2 1.6l5.6 1.6l-0.7 2.1l1.6 0.8l1.8-2.9l2.3-2.4l0.5-2l1-1.6l2.9 0.2l1.4 1l0.2 2l3-1.5l0.5 3.1l1.8 2l0.7 1.7l-3.4 3.4l-3.7-0.5l-0.8 1.3l3.1 1.1l-2.8 1.1l-3.1 0l0.7-0.3l-0.3-0.8l0.5-1.2l-1-0.3l-2.4 2.1l-2.4 0l-3.5 1.5l-2.3 0.2l0.5-2l-1.2-1l-5.8-2.5l-0.5 0.4l-19.5 0l-1.7-1.7l0.6-1.2l-0.1-1.5l0.6-1.4l-0.4-1.3l-2.4-1.6l-1.9-0.3zM117.6 66.2l1.8 1.1l-3.4 2.3l-3.8 0.8l-0.5-1.2l-2.9-0.3l5.1-2.3l-2.8-1.9l-3.5 0l-1.6-0.7l4.3-1.8l2.3-0.1l3.6 1.9zM122.8 60.6l-3.6-1l0.6-0.7l6-1.7zM86.5 63.3l5-1.8l0.9 1.1l-2.8 1.4l-3.4 0zM114.4 60.2l-1.3 1.3l-6.8 0.4l-0.7-1.4zM93.5 61.2l1-0.7l6.3 0l-0.3 0.7l-3.6 0.3zM109.3 57.9l3.5-0.7l9.5-0.8l3.9 0.5l-11.8 3.3l-4.9-0.3zM81.9 109.9l-1.6 0.4l-1.6-0.4l-4.8-2.9l0.2-3.1l-3.8-5.4l-0.1-1.7l-1.1-0.4l-0.2 1.4l0.8 1.3l1 4.8l-1.3-1.4l0.2-1.3l-1.4-1.4l0.4-0.8l-0.7-1l-0.4-2.3l1.7 0l2.6 1.1l3.5-0.5l0.9 1.9l1.1 0.6l1.4-0.7l0.9 2l1.4 1.2l-0.9 3.5l0.2 1.3l0.7 1.3l1.1 0.7l1.7-0.3l-1.2 2.4zM85.0 107.4l1-1.9l2.4-0.2l-1.4 2.6l-0.1 1.7l0.6 0.2l-0.8 0.8l-2.5-2.8zM87.4 113.2l2.5-2.3l0.7 0.9l-0.5 1.9l-1.8 0.7zM92.5 103.8l2.3 0.1l2.5 1.9l-0.4 0.7l-0.9 0.1l-0.6-1.3l-2.3-0.5l-3.1 0.2zM87.4 113.2l-1.8-1l-0.9-0.2l2-1.4zM100.6 127.7l-0.7-0.1l-1.7 1.3l-0.7 1.5l0.7 1.8l2.1 0.1l0.1 1.3l1.7-0.1l-2 3.8l-2 0.8l-1.3-0.8l-4.1-7.3l7.4-3.2l0.6 0.1zM84.7 112.0l-2.1-1.8l1.6-2.4l2.3 2.7zM90.5 116.8l-1.2-1.3l-1-0.2l0-0.9l1.8-0.7l-0.1 0.7l1.2 1.5zM91.7 129.1l0-1.2l0.7-1.1l-0.5-1.5l2.4-4.2l5.8 5.7l-7.4 3.2zM87.5 109.8l2.4 1.1l-2.4 1.9l-0.8-2.2zM94.8 119.7l-0.2-2.4l-1.9 0.3l-1.9-0.7l0.4-1l0.8 0.4l1.2-0.7l1.6 1.1l1.2-1l0.5-1.1l1.8-0.8zM125.8 64.0l-0.4-3.2l-2.6-0.2l3-3.4l16.5-1.1l1.7 0.3l-5.5 9.7l-0.9 0.1l-2.3 1.5l-3.2 0.7l-3.5 3.9l-2.9-1.5l-0.6-1.6l0-3.4l2-1.1zM100.7 123.0l0 3.9l-0.6-0.1l-5.8-5.7l0.5-1.4l3.6-5.7l0.8 0l3 8.4zM99.2 113.3l-0.1 0.7l-0.8-0.2zM98.0 106.8l2.4-0.1l-0.4 1.9l-2.1-0.6zM97.3 105.8l0.9 0.6l-1.3 0.1zM109.0 169.9l1.3 0l2.6 1.7l-1.6 0.5l-2.4-0.8zM109.4 169.6l-1.1 1l-2.6-1.1l-2.5-4.2l0.3-1.7l-0.4-3l-1-2.2l-0.3-2l0.3-4.1l-0.8-4.8l0.1-6.1l-0.4-1.4l-2.9-1.9l2-0.8l5.4 5.7l-2.9 5.2l2.6 3l-0.8 6.4l0.7 0.8l0.4 6.1l1 0.9l0.8 3.5zM112.4 157.8l-2.1 0l0.5 1.6l-2 0.3l0.8 1.3l0.1 1.7l-1.3 1.3l1.7 1.6l-1 3.2l0.7 0.5l-0.4 0.3l-2.1-0.7l-0.8-3.5l-1-0.9l-0.4-6.1l-0.7-0.8l0.8-6.4l-2.6-3l2.9-5.2l1.5-0.1l4.1 5.8l-1.4 3.1zM99.5 114.9l0.3-0.5l-0.2-0.5l-0.4 0.1zM99.5 114.9l2.7 7.5l1.9 0.9l1-0.6l2.5-7.3l-0.4-0.6l-4.8 0l-1.5-0.8zM99.2 113.3l0.4 0.6l-0.5 0.1zM101.5 106.8l1.1 1l-2.6 0.8l0.4-1.9zM114.1 148.0l-1.9 2.4l3.2 1.5l0.6 1.5l0.4-0.4l-0.7 1.2l-2.5 0.6l0.7 1l-0.3 1.5l-1 0.4l-2.9-5.9l1.4-3.1zM103.2 133.0l1.2 0.2l0.5 1.7l3.6 1.2l0.4 2.1l1.6 0.4l-3.5 4.3l-1.5 0.1l-5.4-5.7l2-3.8zM108.9 122.6l-0.3-3.2l-1.1 0.9l-1.4 0.3l1.5-5.2l3.4 3.4l-1.3 3.8zM111.1 139.7l0 3.6l1.9 0.4l1.1 1.2l-0.1 1.4l0.8 1.3l-3.7 1.1l-4.1-5.8l3.5-4.3zM112.9 122.2l0.1-3.3l1.1 0.3l1.2 1.1l-0.4 1.5zM112.9 122.2l-3.2 0.4l1.3-3.8l2 0.1zM150.3 120.2l-2.9-2.1l1.3-1.6l1.2-0.5l1.1 4zM147.2 118.0l-1.4-1.4l-0.5-1.2l0.5-0.4l2.9 1.5zM142.7 111.2l0.6-1.3l0-3.3l5.5 4.1l-2.3 2.2l-3.6-0.8zM142.9 105.7l2.2-4.5l1.2-1.4l2.2-1l2.7 3l-7.5 4.9zM163.8 73.4l-0.9-0.7l-1 0.9l-1.9-0.1l-0.6-1.9l0.2-0.9l3.1-1.9l3.1-3.1l1.5-0.9l2.6-0.5l-0.4 3.6l-3.1-1.3l-0.9 3.8l-1.3 0.2zM169.8 58.3l-5.7 1.6l-2.2-1l4.2-1.2zM145.3 115.4l-2.2-2.2l-0.2-1.1l3.6 0.8zM143.2 67.4l4.7 0.1l0.2 0.9l-3.5 1.3l-1.8-0.3l-1-1.3zM144.0 56.4l6.5 0.8l-4.1 0.7l0.2 3.3l-1.5 2.1l-3.4 2.5l-3.2 0.3zM160.7 81.0l-1.5-0.4l-1.1-1l1-0.7l1.4 1.1zM149.5 79.1l0.1-0.9l0.6-0.5l-0.6-0.6l2.6-0.9l0.3 0.5l-0.3 2zM146.5 112.9l2.3-2.2l1.6 0l0.8 2.5l-1.3 2.8l-1.2 0.5l-2.9-1.5zM151.2 101.8l1.7 0.7l-2.5 8.2l-1.6 0l-5.1-4zM151.6 91.9l-1.9-0.2l0.1-1.4l-0.5-0.1l0.6-1.5l-0.3-2.2l0.9-0.6l1.1 0.1l0.6 6.5zM166.3 130.5l-0.2-2.5l-1-0.9l-1.3-2.7l3.2-2.1l-0.2 7.9zM156.9 118.9l-2.2 1l-0.9-0.2l-0.2-4.3l2.1-0.3zM153.8 119.7l-2.8 0.3l-1.1-4l1.3-2.8l2.4 2.2zM148.6 98.7l0.3-2.6l2.5-2.2l0.5-1.1l2.7 0.6l0.4 4.7l-1.7 4.3l-2.1-0.6zM154.7 92.0l-2.5 0.5l-0.6-6.5l3.4 0.2l3.2 0.8l0.3 0.6l-1.6 0.7l-1.1 2.9zM160.4 79.0l0.1 1l-1.4-1.1l0.6-1.1l1.3-0.1l0 1zM153.3 102.4l5.9 3.1l-0.2 5.2l-8.1 0.6l-0.5-0.6l2.5-8.2zM158.6 118.5l-1.7 0.4l-1.2-3.8l1-0.7zM163.8 124.4l0.3-3l-1-1.3l-2.4 0l2.1-0.7l4.4 2.5zM156.7 114.4l-1 0.7l-2.1 0.3l-2.4-2.2l-0.3-1.9l8.1-0.6zM159.7 118.5l-1.1 0l-1.9-4.1l2.4-3.5l1.1 1.1l0.3 7.8zM154.8 93.4l3.7-1.5l1.7-0.1l0.7 5l3.1 3.7l-0.1 2.1l-4.7 2.9l-5.9-3.1l1.7-4.3zM162.6 87.9l0.1-1l0.4-0.4l0 1.3zM164.3 83.3l-3 0.7l-0.7-0.2l1-1.1l2.7 0.1zM159.0 110.7l0.2-5.2l4.7-2.9l3.8 3.3l-0.9 7.1l-6.6-1zM160.7 120.1l-0.5-8.1l6.6 1l0.4 0.8l-4.4 5.6zM167.2 113.8l2 1.4l0.5 5.4l-2.5 1.3l-4.4-2.5zM160.2 91.8l4.3-0.1l-0.3 1.1l0.4 0.5l-0.6 1.1l3.7 1.4l-3.7 4.7l-3.1-3.7zM162.0 76.4l-0.1-1.7l1.3-0.5l-0.1 1l0.4 0.1l-0.7 1.1l0.6 0.5zM165.2 76.1l-0.6-0.8l-1.1-1.9zM169.8 71.8l-0.5-1.5l0.6-0.8zM169.5 67.9l-2.2 2.3l-0.1 1.7l1.1 0.4l-0.5 0.9l-0.7 0.2l-0.3 2.1l-0.8-0.1l-0.8 0.7l-1.4-2.7l0.4-2.8l1.3-0.2l0.9-3.8zM166.8 113.0l0.9-7.1l6.8-1.1l0.8 0.9l0.3 7.7l-6.4 1.8l-2-1.4zM170.4 97.4l1.1-0.4l0-1l2.9 3.1l0.1 5.7l-6.8 1.1l-3.8-3.3l0.1-2.1l3.7-4.7l0.8 0.9zM166.9 84.7l-0.8 0l-0.2-1.2l2.1-0.6zM164.8 80.3l1.8-0.6l-0.7-2.4l0.6-0.2l2.1 3.4l-0.3 2zM167.8 86.1l-0.8-1.3l1.3-2.1l0.6 1.1zM169.6 149.7l-1.6-2.2l-0.5-3.4l-1.9-5.1l7.1 0.3l-0.1 7.1zM165.9 136.6l1.2-1.7l0.1-1.3l-0.9-3.1l4.5-1.2l1.7 1.3l1.8 4l-0.5 3.8l-1.1 0.9l-7.1-0.3zM165.9 83.5l-1.6-0.2l0-0.5l1.2-0.1l0.5-1.1l-0.5-0.5l2.8 1.4l-0.3 0.4zM167.2 121.9l2.5-1.3l1.3 1.1l0.9 3.1l-1.1 4.5l-4 0.9zM168.3 82.7l3.8-0.3l-0.1 1.2l-1.9 1.1l-1.2-0.9zM166.5 77.1l3-0.2l0.6-0.4l2.2 3.3l-3.7 0.7zM169.2 86.7l-1.2-0.5l0.9-2.4l1.2 0.9l0 0.7zM171.1 89.7l-0.8-2.2l0.9-0.5l0.5 1.8zM177.5 73.0l-7.7-1.4l0.1-2.1l1.8-1.1l-0.6-0.5l-1.6 0l0.4-3.6l2.3-0.3l1.9 0.3l-0.8 1l4.1 0.2l0.2 1.9l-1.1-0.2l-0.7 0.3l2 1.5zM181.7 146.5l-0.1 1.5l-4.8 0.3l-1.2 5.3l-2.3 0l-2 0.7l-1.1-0.6l-0.6-3.7l3-3.6l2.8 0l3-2.9l5 1.7zM175.6 113.4l0.5 0.6l0.5 4.8l-5.6 2.9l-1.3-1.1l-0.5-5.4zM172.3 79.8l0.5 0.3l-0.7 2.3l-3.8 0l0.3-1.9zM171.5 95.9l1.1-0.5l1.1 0.2l3.9 1.3l-3.2 2.2zM176.0 93.2l-0.4 0.3l-1.7-0.3zM177.2 92.0l-1.4-1.3l0.1-0.3zM173.7 88.9l0.5 0.1l-1.3 0l1.2 1.7l-0.7 0.3l-0.4-0.4l0.5 0.7l-0.2 1l-0.8-0.4l-1.4-2.2l0.6-0.9l2-0.4zM170.9 74.2l1 0.6l0.1-0.9l2.9 0.9l-1.1 1.5zM170.4 76.2l-0.3-1.3l0.6-0.6l3.1 2l-0.8 3.8l-0.7-0.3l-2.2-3.3zM170.3 87.5l-1.1-0.8l0.9-1.3l1.2 1.5zM172.0 83.6l0.9 2.5l-1.6 0.8l-1.2-1.5l0-0.7zM172.0 83.6l0.8-3.5l1.1 0.4l2.1 4.8l-3 0.2zM170.8 129.3l1.1-4.5l-0.9-3.1l5.6-2.9l1.8 2.5l-1.1 2.8l0.2 3.9l3.2 3l0.1 1.2l-6.5 2.4l-1.8-4zM171.3 86.9l1.6-0.8l0.8 2.3l-2 0.4zM177.6 96.9l1.8-0.1l2.5 2.6l2.6 5l-1.3 1.3l-7.9 0l-0.8-0.9l-0.1-5.7zM178.4 122.1l4.9 4l-0.2 0.3l-5.5 0l-0.3-2.3zM176.6 118.8l-0.5-4.8l7.4 0l0.6 4.9l-5.7 2.4zM172.7 139.3l1.1-0.9l2.4 0.9l2.2 4.2l-3 2.9l-2.8 0zM173.8 76.3l1.1-1.5l2.6-1.8l1.6 4l-3.4 3.3l-1.8 0.2l-0.9-0.4zM175.6 89.6l-0.2-1.2l-1.7 0l-0.7-2.9l3-0.2l0.9 0.7l-0.2 1.5zM181.6 148.0l-2.5 3.3l-2 1.7l-1.5 0.6l1.2-5.3zM177.6 126.4l5.5 0l-2.4 4.6l-3.2-3zM171.4 73.0l3.4-0.5l2.7 0.5l-2.6 1.8l-3.5-1.4zM170.9 72.4l-1.1-0.8l2.9 0.5zM174.3 134.6l6.5-2.4l0.1 5.2l-4.7 1.9l-2.4-0.9zM178.1 83.5l-1.2 1.8l0 0.7l-0.9-0.7l-2.1-4.8l1.8-0.2zM177.5 65.5l2.4 0.8l0.7 0.6l-1.3 0.8l-1.7-0.3zM179.0 69.3l-0.2-0.9l1.6 0.4l0.4-0.2l-0.5-0.5l1.6-0.7l0.8 0.3l-0.3-1.4l-0.8-0.6l1.8 0.3l0.4 0.4l-0.7 0.1l0.8 0.7l3.5-1.7l2.3 0.3l1.3-1l3.8 0.3l-0.8-1.1l0.5-1.3l1.9 0l0.3 1l2.6 2.2l-0.4 1.6l0.7 0l0.7-1.2l-1.7-1.3l0-0.7l-1.2-0.7l0.7-0.4l-0.5-0.5l0.8 0.4l0.3 0.7l1.7 0l-1.5-0.7l1.3-0.2l1.7 0.5l-1.6-1.3l3.3-0.2l-0.6-0.8l6.1-0.9l-0.2-0.3l1.1-0.5l2.5 0.8l1.8-0.1l2.4 0.5l0.1 0.6l-1.2 0.5l6.2 0.8l3.9-0.3l5 1.9l-0.4-0.7l4.6 0.2l-1.4-0.6l0.4-0.3l5.6 0.4l3.5 1l3.3 0l2.8 1l3.7-0.1l2.1 0.7l0.3-0.3l-1.4-0.8l5.5 0.5l1.3 0.3l4.7 3l-0.3 0.4l-0.9-0.1l3.7 1.8l-1.3-0.1l-1.5 0.6l-0.2 1.4l-1.6-0.5l-0.9 0.6l-1.9-0.1l0.7 1.4l1.3 0.5l1.9 2.2l-0.7 0.5l0.7 0.9l-0.9 0.2l0.7 0.9l-0.2 0.7l-5.5-4.8l1-3.4l-1.1-1.2l-0.6 0.1l0 1.6l-1.8-1.1l-1.2 0.3l-0.1 1.3l1.2 0.6l-2.2 0.2l-1.7-0.7l-0.4 0.4l-3.9 0.2l-1.2 3.5l2.7 0.7l0.1-0.4l0.8 0.1l1.7 0.9l2.5 3.9l-0.7 4.3l-0.7 0.5l-1.1-0.4l-0.2 0.4l-1.5-1.8l1.3-0.1l-0.7-3l-2.4 0.6l-0.9-0.9l-2.6-0.8l-4.1-2.8l-1.9-0.3l-0.2 1.1l-7.7-3.1l-1.9 1.8l-6.6-1l-2.2-1.2l-5.4 2.8l-3.6-2.2l-5.4 1.5l-5.3-2.5l-2.9 3l-6.9-2.5l-1.4 1.4l-0.6 3.5l-1.5 0.6l-7.3-3.1l-0.7-0.7l-1.6-4l0.3-4zM194.9 65.1l-0.1 0zM195.6 66.0l0.8 0.1l0.2-0.4l-1.7-0.6zM188.9 64.2l-1.3 0.1l-2.1-0.7l3 0.4l-0.2-0.2zM192.2 60.2l-4 1.3l-0.8 1.4l0.9 0.9l-0.7-0.5l-0.9-1.1l0.2-1.4l4.2-0.9zM204.1 58.6l-1.5-1.2l7 1.5l-2.5 0zM256.5 83.3l-4.9-6.4l5.3 4.5l-1.2-0.2l1.9 2.1zM232.9 60.5l1.9 0.3l2 0.4l-2.7 0.7l-3.8-0.7zM178.4 143.5l-2.2-4.2l4.7-1.9l0.7 0.6l1.5 6.9zM180.8 132.2l4.6 0.5l-0.5 4.2l-3.3 1.1l-0.7-0.6zM179.5 84.5l0.6-0.5l-2-0.5l-2.4-3.2l3.4-3.3l0.7 0.7l7.3 3.1l-2.6 5l-1.5-1.2l1-1.5l-0.7 0.2l-1 1.3l-1.9 0.7zM183.3 92.1l-1.2-0.1l-1.8-1l-1.8 1.5l-1.3-0.5l-1.4-2.3l0.9-2.2l0.8 0.6l1.4 0l1.4-0.7l1.4 0l2.4 1l2.2-0.5l1.4 1.1l1.3 3l-1.5 0.8l-3-2zM274.6 164.0l7.7-4.4l1 0.4l-0.7 0.8l-3.6 1.9l-1.6 1.2l-1.4 0.6zM287.4 158.2l-3.6 2.1l-0.2-0.3l1-0.7l-0.1-1.1l1.6-1.6l0.1-2.5l0.9 0.7l-0.1 2l0.8 0.3l1-0.2zM187.8 132.9l0.6 0.5l-0.1 3.2l-0.9 1.8l-2 1.1l-1.5 1.9l-0.1 3.5l-0.4 0.3l-1.8-7.2l3.3-1.1l0.5-4.2l2.3-1.3zM187.8 127.7l-0.7 2l0.6 1.7l-2.3 1.3l-4.6-0.5l-0.1-1.2l2.6-4.9l0.7-0.3zM175.6 113.4l-0.3-7.7l7.9 0l0.3 8.3l-7.4 0zM178.4 122.1l0-0.8l5.7-2.4l0.6 0.6l-0.7 6.3l-0.7 0.3zM184.1 118.9l-0.6-5l3.8-0.4l3.5 3.6l-1.7 3.3l-4.4-0.9zM179.4 96.8l3 0l0.5 2.8l-0.6 0.1l-1.1-1.8l0.7 1.5zM183.1 98.3l-0.7-1.5l0.4-1.4l0.9 0.3zM180.6 93.8l0-0.4l1.6-0.5l-0.3 0.7zM182.1 92.0l-1.5 0.5l-1.4-0.5l1.1-1zM185.9 96.1l-0.6 1.3l-1.1 0.8l-0.9 0.1l0.4-2.6l1.2-0.3l1.8 0.9zM184.5 104.4l1 3l1.1 1l1 2.4l1.2 0.9l-1.5 1.8l-3.8 0.4l-0.3-8.2zM182.8 95.4l0.3-1l0.3-2.3l1.5 3.3l-1.2 0.3zM186.7 96.3l-1.8-0.9l-1.5-3.3l1.1-1.3l3 2zM196.1 137.5l-3.3 8.2l-1.5 0.5l-1.1-1.7l-0.1-1.6l1-1.5l-0.2-2.1l1.9-1.5l2.5-3.3zM191.2 124.4l-2.9 2l-0.5 1.3l-3.8-1.9l0.7-6.3l4.4 0.9zM190.1 98.2l-3.3-1.9l0.7-3.5l1.5-0.8l0.6 0.2l2 3.7zM195.4 98.9l-0.8-1.1l-0.9-0.2l-0.7 0.2l0.4 1.2l-3.3-0.8l1.5-2.3l2.4 0.2zM188.9 111.9l1.7 1.1l0.6 1.8l1.2-0.1l-0.6 1.8l-1 0.6l-3.5-3.6zM192.2 112.7l-1.5 0.3l-0.8-2.3l0.4-0.8zM192.4 114.7l4.4-1l-0.4 2.5l-1.9 4.1l-3.3 4.1l-2.1-4l1.7-3.3l1-0.6zM190.3 83.1l-0.6 3.8l-2 2.1l-3.2-3.2l2.6-5l1.5-0.6zM190.0 85.2l2.6 3.9l0.3 1.9l-2.2 0.3l-1-4.4zM195.2 89.1l-0.3-1.4l0.6 1.8zM190.1 84.5l0.2-1.4l0.6 0.6zM198.1 109.4l-0.7 1l-5.2 2.2l-2-3.3l0.2-0.6l2.9 0.5l1.5-1.4l2.2-0.3zM216.6 83.1l-1.9-0.2l0.3 1.5l-1.4 0.5l0.6 2.5l-6.3-3.8l-1.1 2.4l-1 0.4l-6.3-3.7l-0.5 2.8l-3.7 2.6l-2.5-2.8l1.4-0.5l-0.4-1.3l-1.2-0.4l-1.7 0.6l-2.3-3.5l0.6-3.5l1.4-1.4l6.9 2.5l2.9-3l5.3 2.5l5.4-1.5l3.6 2.2l2.1 4.1zM187.7 89.0l2-2.1l1 4.4l-1.1 0.9l-0.6-0.2zM203.8 102.1l-3.1-0.5l-0.4-1.1l-1.4 0.2l-0.8-1.2l-2.5-0.7l-1.6-2.7l-2.4-0.2l-2-3.7l1.1-0.9l2.2-0.3l2.2 1l1.3-0.2l0-0.3l2.7 2.3l3.1 0.3l2.5 4.1zM241.3 113.3l-0.9 1.1l-1.3 0.5l-0.8-0.1l-1.1-2.3l0.7-1.2l3.3 0.5zM256.1 119.1l-1.2-0.8l-1.6-0.4l2.5-1.7l0.9 0.5l0.1 1zM254.1 115.7l-0.9-2.6l1.6 0l1 0.9l-0.3 1.3zM252.3 108.1l-0.1 3.4l2 0.5l0.2 1l-3.3-2.1l-0.4-1.2l0.4 0.1l-0.2-1.9zM198.5 100.9l-2.6-1.2l-0.5-0.7l2.7 0.5l0.8 1.2zM196.4 91.5l-0.9-2l-0.2-1.4l3.7-2.6l4.2 6.1l-1 2.5l-3.1-0.3zM202.6 104.2l0.3 0.6l-0.8 1.4l-0.4-0.1l-0.2 1.4l-0.8 0.3l-0.9 1.2l-1.7 0.4l-1.1-1.9l2.4-0.9l0.4-1.8l-0.6-0.6l0.5-1.9zM212.0 91.8l1.3 0.9l1.5 0.4l0.8 1l0.7 1.5l-0.5 0l0.4 1l2 1.1l-0.4 1.2l2.7 1.2l2.9 0.7l1.6 1.4l-0.4 0.4l0.9 1.4l-0.5 0.7l0.7 0.1l-1.5 0.5l-0.2 1.1l-1 0.6l-2 2.5l-1.4 0.6l0.1 4.8l-0.5 0.1l0 1l-1.3 1l-3.7-7l-1.2-4.7l-1.6 0.5l-1.1-1.1l1.1-3.3l1.6-0.7l0.1-2.3l-2.9-4.3zM227.5 99.7l1.3-1.2l2.3 0.9l1.2 0.6l-0.3 2.1l-3.7 2.1l-0.2-0.9l-0.4 0.5l0.3-1.5l-0.9-0.2zM210.2 104.1l-1.5-0.9l-1-1.3l-3.9 0.2l0.9-3.9l2-0.3l2.6-3.9l0.9 0.1l2.9 4.3l-0.1 2.3l-1.6 0.7zM202.2 94.1l1-2.5l2.5-0.9l3.6 3.3l-2.6 3.9l-2 0.3zM199.5 82.7l6.3 3.7l-0.1 4.3l-2.5 0.9l-4.2-6.1zM214.2 87.4l-1.9 1.3l-1.1 0l-0.8 0.8l1.4 1.7l-5-5.2l1.1-2.4zM211.8 91.2l0.2 0.6l-1.8 2.3l-0.9-0.1l-3.6-3.3l0.1-4.3l1-0.4zM224.4 100.8l-0.3-1.1l0.4-0.2l2.8 0.2l-0.2 2.4l-1.1-0.2l-0.2-0.6l-1.1-0.4l-0.2 0.6l0.5 0.7l-1.6-1.4zM232.1 103.2l0.5-0.2l1.1 1l-0.1 0.7l0.4 0.3l-0.1 2.8l1.5 5.5l-1 0.6l-1.6-4.6l-1.3 1l-1-0.3l-0.2-1.9l-2.2-3l0.5 0.4l-0.3-1.3l3.7-2.1zM238.5 78.7l0.1 1.7l-0.5 0.6l-1.4-0.3l3.9 2.4l-1.7 0.5l-1 0.9l-1.8 0.2l0.2 1.5l-3.6 1.5l-3.4-0.9l-3.3 0l-1.4-1.4l-3.5-0.9l-0.3-0.6l-3.8-2.6l-0.2 0.8l-2.1-4.1l5.4-2.8l2.2 1.2l6.6 1l1.9-1.8zM241.4 107.3l1.1-0.8l0.7 0.3l-0.4 1.1l-0.5 0.2zM234.0 105.0l1.7 0.6l0.2-1.1l2.1 2.1l-0.3 0.6l1 0.5l2.4 3.1l0.1 1l-3.3-0.5l-0.5-2.1l-3.5-1.4zM237.9 111.3l-1.6 1.7l-0.2-0.7l-0.7 0l0 1l-1.5-5.5l3.5 1.4zM234.9 114.4l0.1 1.6l0.6 0l0.6 1.5l1.2 1.1l-1.6-0.3l-1.3-1.6l-0.1 0.5l0-3.3l0.9-0.4zM250.1 102.1l0.7 0.1l-0.3 2.7l-0.7-1zM259.0 94.8l-1.1-1l-1.8 0.4l0.1 2.4l-0.9-0.2l-0.2-2.5l0.6-0.8l2.5-0.2l-0.3-1.4l0.7 0.3l0.9-1.1l-0.8-2.6l0.6-0.2l1.9 2.5l-0.3 0.7l0.8 2.2l-2.3 0.8zM260.4 85.3l0.8 1l-0.8 1.1l-1.4-0.5l-0.1 0.8l-0.6 0.2l-0.8-1l0.5-1l-0.9-1.5l3.1 1.3zM257.6 83.3l-0.5 0.7l-0.6-0.7zM251.2 87.2l-0.3 0l-0.2 0.6l0.4 0.6l-1.1 0.9l1.1 1l-1.2 0.8l-1.2-0.3l0-1.1l-1-0.5l0.9-1.6l2.4-0.5l-0.3-0.4l0.5-0.1zM255.3 96.4l-0.6-1.6l0.4-0.9zM264.7 159.6l-1.7 2l-1.7 0.3l0.9-2.4zM262.3 157.8l-2.3-1.2l0.7-1.1l-0.9-0.5l0.8-1l-0.9 0.6l0.7-1.3l-1 1.1l-0.9-0.1l-1.2-2.4l-1.1-0.4l-5.1 1l-1.5 1.1l-2.3 0l-2.4 1l-1-0.1l-0.8-1.2l0.7-0.3l0.4-1.1l0.3-5l-0.3-0.6l0.8-2.8l2.5-1.5l3.9-1.3l1.1-1.8l0.8 0.2l2.6-2.8l0.8-0.3l0.9 1l1 0l0.6-1.7l2-0.7l0.1-0.4l2.4 1.7l0 1.2l2.1 2.1l0.6 0.2l1-0.8l5.5 4.3l0.1 0.5l0.7 0.1l-0.1 1.4l1.4 1.1l-0.6 2.5l-1.4 2.5l-5.2 5.6l-3.6 1.4l-0.6-0.5l0.1-0.5zM263.7 135.9l-2.8-2l2.5 0.7l0.8-0.2l0.4 0.4zM267.4 138.6l0.8-3.4l1.1-1.9l0.6 1.4l-0.2 1.3l1.3 1.1l-0.2 3.5l1.9 1.2l0.2 1.1zM271.4 127.4l2.3 1.9l-0.6 0.5l1.2 2.1l1.6 1.1l-0.7 0.3l-1.6-0.5l-1.3-1.8l-1-0.4l-1.2 0.6l0 0.6l-1.8 0.1l0.3-5.6z" fill="none" stroke="#dedede" stroke-width="0.4"/>
<defs><linearGradient id="lg1" x1="0" y1="0" x2="0" y2="1"><stop offset="0" stop-color="#143449"/><stop offset="1" stop-color="#9fcde2"/></linearGradient>
<linearGradient id="lg1h" x1="0" y1="0" x2="1" y2="0"><stop offset="0" stop-color="#fff" stop-opacity=".25"/><stop offset=".5" stop-color="#fff" stop-opacity="0"/><stop offset="1" stop-color="#000" stop-opacity=".3"/></linearGradient></defs>
<rect x="316" y="40.5" width="9" height="85.5" fill="url(#lg1)"/><rect x="316" y="40.5" width="9" height="85.5" fill="url(#lg1h)"/>
<text x="311.7" y="23.8" font-family="Noto Sans, sans-serif" font-size="10.4" fill="#404040">FY 2020-21</text>
<text x="330.4" y="43.4" font-family="Noto Sans, sans-serif" font-size="10.4" fill="#404040">₹ 381,845</text>
<text x="330" y="129.7" font-family="Noto Sans, sans-serif" font-size="10.4" fill="#404040">₹ 31,360</text>
<text x="247" y="240.5" font-family="Liberation Sans, sans-serif" font-size="6.6" fill="#444">Powered by Bing</text>
</g></svg></div>
<div class="b" style="left:421.2px;top:437.4px;width:444.8px;height:246px;background:#fff;box-sizing:border-box;border:1px solid #d6d6d6;box-shadow:2px 3px 4px rgba(0,0,0,.4);overflow:hidden;">
<svg width="446" height="246" viewBox="0 0 446 246" style="position:absolute;left:-1px;top:-1px"><g transform="translate(0.8 0.6)"><path d="M108.4 69.8l0.6-0.4l7 3l1.4 1.2l-0.5 2.3l2.8-0.3l4.2-1.7l2.9 0l2.9-2.4l1.1 0.3l-0.5 1.4l0.3 0.9l-2.9 1.1l-1.1 1.8l0.4 0.3l-3.9 1.1l-3 3.7l-0.2 1.9l-1.9 0.7l-3.9 2.8l-0.7 1.9l0.5 3.6l-0.7 1.4l-0.7-0.1l-0.9-2.8l0.3-1l-1-1.1l-1.5 0.2l-1.2-0.6l-1.9 0.1l-0.7 1.1l-1 0.1l-1.2-0.5l-1.9 0l-3.5 2.2l-0.5 1.5l-1.6-1.5l-1.2-2.4l-1.7 0.9l-1.2-0.7l-1.1-2.3l-1.7 0.6l-2.6 0l-3.1-1.3l-2.1 0l-0.7-1.5l-1.6-0.7l-0.5-5.9l1.5-2.8l2.5-3.2l0.8-2.3l1.5-0.1l0.2-0.5zM78.2 59.0l-1.5-0.7l-5.5 1.5l-3.8 1.6l-11.7 2.9l8.8-3.1l1.6-1l-3.6 0.1l1.4-1.3l-1.1-0.7l3-2.3l4.3-1.2l-2.9 0l-0.8-1l5.2-1.4l0.1-0.7l4-1.8l6-1.1l8.8 1.4l-10.4 8.8z" fill="#b6daed" stroke="#fff" stroke-width="0.45"/><path d="M254.9 78.5l1.3 0.1l2.6-1.7l-1-2.9l1.7-0.6l-0.4-1.7l2.2 0.2l0.6-2.2l4.5 3.1l0.4 0.8l4.3 1l1.6 1.7l4 0l4.1 1.1l1.3-0.9l3-1l-0.2-1.7l2.2-0.2l1.2-1.1l2.2-0.6l-4.8-2.9l1.6 0.3l0.7-0.7l-0.3-1.4l0.4-1.9l2.3 0.3l4.9 3.4l3.1 0.9l1.1 1.2l2.9-0.8l0.9 3.5l-1.2-0.2l-0.5 0.4l1.5 1.9l-0.6 0.1l0.4 0.6l-2.9 0.6l-1.2 1.9l-2.3 1.1l0.2-1.6l-0.8-0.5l-1.5 1.7l-0.8 0.1l-0.2 0.5l1.9 1.3l0.8 0.2l0.6-0.7l1.7 0.4l0.3 0.6l-1.1 0.3l-0.9 1.8l1.1 0.5l2.7 2.8l0.3 0.9l-0.5 0.2l1.1 0.9l0.1 1.7l-0.5 0.1l-1.2 3.7l-2.3 1.8l-4.5 1.5l-0.2 1.1l-0.4 0l-0.2-1.1l-1.8-0.2l-3-1.9l-2.7 0.9l-0.2 1.4l-1.6-0.4l-1-0.6l0.2-0.8l-1.4-1.3l-0.6 0.3l0.2-3.8l-4.2-1.9l-1.6 1.5l-2.9-0.4l-3.2 0.3l-6.7-3l-0.9-0.6l-0.4-1.2l0.6 0.1l-0.1-0.5l-1.8-2.6l-1.7-0.4l-1-1.1l-1-0.2l0.3-0.6l-1.7-1.9z" fill="#205a7b" stroke="#fff" stroke-width="0.45"/><path d="M223.6 88.9l0.7-1.6l2.9 1l2.7 1.9l3.5 0.7l0.5 0.9l1.4 1l0.2 1.2l1.4 1.4l0.5 1.3l2.8 0.3l0.8 0.7l-0.5 2.1l-2.7 1l-2.9 0.5l-1.7 1.6l-3.5-0.6l-0.5 1.2l-2-3.2l-1.8-1.8l-0.7-2.5l-1-0.7l-2.6-3.9l-0.5 0l0.3-1.4l1.4-0.1z" fill="#badcef" stroke="#fff" stroke-width="0.45"/><path d="M131.2 119.0l7.3-1l0.5-1.8l1.4 2.5l0 1.9l1.4 1l2.4 0l1.5 1.6l2.9 0.4l6.1 2.7l0.4 2.1l-0.4 1.8l-3 3.9l-0.4 4.9l-1.3 4.3l-1 1.2l-4.1 1.1l-1.7 1.8l0.2 2.8l-3.6 5.4l-0.7-1.7l-3.8-1.9l1.6-2.3l1.5-0.9l-1-1.6l0.1-1.6l-1.3-1.5l-2.2-0.5l-0.3-2.2l0.3-2.1l-1.1-1.8l-1.7 0l-0.4-2.6l-4.3-1.4l-0.6-2l-1.6-0.2l-1.7 0.7l-1.6 0l-0.1-1.5l-2.6-0.1l-0.7-2.2l0.7-1.7l2.1-1.5l0.9 0.1l0.4-3.4l-0.4-2.2l2-0.8l2.1 1.1l1.3-0.8l0.1-1l1-1.4l1.7-0.4l1.3-1z" fill="#d9d9d9" stroke="#fff" stroke-width="0.45"/><path d="M184.6 60.4l1.6 0l-0.8 0.9l1.7 0l-0.3 1.6l2.1 3l1 0.2l-0.6 0.9l0.4 0.5l-6 1.3l1.3-1.3l0.7-0.1l-1.3-0.2l0.7-0.7l-0.5-0.5l0.2-0.7l1.3 0.1l0.1-0.6l-1.6-0.8l0.1-0.6l-0.7 0.2l-0.3-1.5z" fill="#b0d6ea" stroke="#fff" stroke-width="0.45"/><path d="M186.9 75.5l0.6-2.6l-0.9-1.1l-1.9-0.9l-0.1-0.7l2.6-0.1l0.2-1l1.3 0l1.9-1.4l1.4 1.2l3.4 0.9l-0.4 1.5l-1.4 1.4l0.9 0.3l-0.1 1.8l0.5 0.4l-0.7 0.6l-1.7-0.3l-1.3 0.3l-0.1 0.7l-2-0.3z" fill="#d9d9d9" stroke="#fff" stroke-width="0.45"/><path d="M193.4 66.9l0.9-0.3l-0.1-1.3l1.2-0.1l0-1.4l1.9 0.8l1.3-0.3l1.4 0.6l0.9 2.8l-2.2 0.8l1.4 1.5l-0.6 1.4l-4.5-0.1l0.4-1.5l-1.5-0.5z" fill="#d9d9d9" stroke="#fff" stroke-width="0.45"/><path d="M202.5 80.9l-0.4 1.7l-2.5-1.3l1.2-0.2zM197.2 78.1l-0.2 1.8l-1 0.2l-0.3-2l0.9-0.3zM199.1 71.9l1.1 0.5l0 0.8l-1.1 0.3l0.3 1.3l2.4 2.2l0.7 0l2.4 1.8l-0.1 0.4l-1.3-0.6l-0.4 0.6l0.7 0.5l-0.1 0.5l-0.8 0.9l-0.3 0.1l0.3-1.1l-0.7-1.1l-3.1-1.7l-1.4-1.3l-0.3-1l-1.2-0.5l-1.3 0.7l-0.5-0.4l0.1-1.8z" fill="#d9d9d9" stroke="#fff" stroke-width="0.45"/><path d="M286.6 114.2l1.3 1.3l0.2 2.2l0.7 1.2l-0.7 0.5l-2-1.7l-1.4-3.9zM295.7 118.5l0.3-0.8l1.2-0.3l0.8-1.4l1.5-0.5l1.4-2.1l2.2 1.6l-1.2 1.3l-1.9-0.2l-1.2 2.9l-3.1 0.6l-1.6-0.9z" fill="#d9d9d9" stroke="#fff" stroke-width="0.45"/><path d="M284.7 97.2l2.7-0.9l3 1.9l-1.1 0.9l-0.7 1.6l3.7 4l0.6 2l0.1 1.7l-3.6 3.3l-0.4-0.7l0.2-0.7l-0.6-0.5l1.6-0.6l1.1-1.4l-0.3-3l-2.9-3.6l-1.2-0.7l0.3-0.7l-1.3-0.8z" fill="#bcdef0" stroke="#fff" stroke-width="0.45"/><path d="M271.5 97.6l0.6-0.8l-0.4-1.4l-0.6-0.3l0.6-0.7l-0.7-0.6l0.2-0.6l1.2 0.4l0.3 0.7l2.4 0.4l-0.4 2l0.5-0.7l0.7 2.5l-1.4-1.6l-0.9 0l0 1z" fill="#163f58" stroke="#fff" stroke-width="0.45"/><path d="M263.4 89.2l5 2.3l2 0.1l0.4 1.2l-2.1 0.1l-5.9-2.2z" fill="#b8dbee" stroke="#fff" stroke-width="0.45"/><path d="M265.7 114.4l-0.7-2.3l0.3-1.7l1.7 2.4l-0.5 1.4z" fill="#b8dbee" stroke="#fff" stroke-width="0.45"/><path d="M303.6 84.8l-1.5-2.3l0.6-0.3l-1-0.8l1.4-0.9l2 1.8l0.6 1.3l-0.1 0.5z" fill="#b8dbee" stroke="#fff" stroke-width="0.45"/><path d="M239.2 95.5l1.7-2l0.3 0.2l0.1 1l-0.4 0l-0.5 2.3l-3-0.3l-0.5-1.3z" fill="#d9d9d9" stroke="#fff" stroke-width="0.45"/><path d="M96.3 204.4l-12.1-3.8l-7-2.8l12.4 0l4.7-0.7l3.5-1.6l15.9-1.1l8.2-0.6l13.3 0l1.4-2.5l4.3-0.9l3-2.2l2-0.9l-1.3 0.9l-0.9 2.2l5.9 5.1l11.1 2.3l6.2 0l5.4-2.3l16.2-4.2l13.8 0l14.2-0.9l11.4-1.8l10.1 0.9l15.6-1.7l32.6 0l8.5 1.7l8.4 3.5l-9.1 4.1l5.8 0.7l-7 2.8l-12.1 3.8z" fill="#d9d9d9" stroke="#fff" stroke-width="0.45" transform="translate(0 2.5)"/><path d="M310.4 129.1l-3.6 2.2l-7-1.4l-0.5-0.7zM296.6 127.8l1.8 0.9l0 1l-1-0.5l-5-0.5l-2.7-0.9l0.8-1.1l4.1 1.1zM318.8 124.1l1.9-1.9l3.5 1.1l-0.5 6.8l-1.7-1.1l-1 0.2l0.6-1.3l-0.4-1.7l-2.7-0.9l-1.4-1.1l-0.9 0.7l-0.7-1.4l1.1-0.3l-2-1l1.4-1.2l1.5 0.4zM304.9 123.3l1.6 2l-1.1 0.4l-1.1-0.7l-0.1 1.3l-1.1 0l0.3-2.1l-0.6-0.8l1.8-3.3l-0.3 0.8l0.7 1.2l2.1-0.5l-1.3 0.5zM286.4 118.4l1.4 1.6l1.6 3.1l1.2 0.7l-0.3 2.9l-1.2 0l-1.9-1.7l-3.8-6.3l-3.3-3.8l2.1 0.3l3.1 3.2zM300.0 116.1l1.9 0.2l-0.6 1l1.7 2.4l-1 0l-0.4 1.7l-1.4 0.8l-0.3 2.6l-1.3 0.1l-1.1-1.1l-0.7 0.3l-2.4-0.5l0.2-1.2l-1.1-1.3l0.6-2.4l1.6 0.9l3.1-0.6zM308.0 120.4l-3.1-0.6l-0.3 0.3l0.2-0.9l3.5 0.8l0.7-0.9z" fill="#bcdef0" stroke="#fff" stroke-width="0.45"/><path d="M80.1 59.0l10.4-8.8l8.1-0.3l13.5 1.8l7 0l4.5-2.5l-1.5 0.7l-3.5 0l-9.6 1.3l-2.4-0.4l1.3-1.8l5.4-1.6l5.3 0l0 0.8l6.4-1.3l0.8 1.3l-1.1 0.5l1.9 2.5l4.8-0.9l-1.5 3.1l-5.7 1.9l-6.5 2.8l-2.5 1.9l0.2 1.9l6.8 1.9l-0.9 2.5l1.9 1l2.2-3.5l2.8-2.9l0.6-2.4l1.2-1.8l3.6 0.3l1.6 1.1l0.3 2.4l3.6-1.8l0.6 3.7l2.2 2.4l0.8 2l-4.1 4l-4.5-0.5l-1 1.6l3.9 1.3l-3.4 1.2l-3.8 0l0.9-0.3l-0.4-0.9l0.5-1.5l-1.1-0.3l-2.9 2.4l-2.9 0l-4.3 1.8l-2.7 0.3l0.6-2.3l-1.4-1.3l-7.1-2.9l-0.6 0.4l-23.6 0l-2-2l0.8-1.5l-0.2-1.8l0.7-1.6l-0.5-1.6l-2.9-1.8l-2.3-0.4zM141.8 51.7l2.1 1.3l-4 2.7l-4.7 1l-0.6-1.4l-1.2-0.5l-2.3 0.1l1.4-1l4.8-1.8l-3.5-2.2l-4.1 0l-2-0.9l5.3-2.1l2.7-0.1l4.3 2.2zM146.4 44.9l-2.8-1.1l0.8-0.8l7.3-2l-3.7 4zM104.2 48.2l6-2.1l1.1 1.3l-3.4 1.6l-4.1 0zM137.8 44.5l-1.5 1.6l-8.2 0.4l-0.9-1.6zM112.7 45.7l1.1-0.8l7.7 0l-0.4 0.8l-4.4 0.4zM131.7 41.8l4.2-0.9l11.6-0.9l4.6 0.6l-14.3 3.9l-5.8-0.4z" fill="#d9d9d9" stroke="#fff" stroke-width="0.45"/><path d="M98.6 103.8l-2 0.5l-1.8-0.5l-4.4-2.2l-1.5-1.3l0.3-3.6l-4.6-6.5l-0.1-2l-1.4-0.6l-0.2 1.8l0.9 1.6l1.3 5.7l-1.6-1.8l0.2-1.5l-1.7-1.7l0.6-0.9l-0.9-1.2l-0.5-2.7l2.1 0l3.1 1.2l2.5 0l1.8-0.5l1.1 2.3l1.2 0.6l1.7-0.8l1.2 2.3l1.6 1.6l-1 4.1l0.2 1.6l0.9 1.5l1.3 0.9l2.1-0.4l-1.6 2.8z" fill="#d9d9d9" stroke="#fff" stroke-width="0.45"/><path d="M102.3 100.8l1.3-2.2l2.9-0.4l-1.7 3.2l-0.2 2l0.8 0.3l-0.9 0.9l-3.1-3.4z" fill="#d9d9d9" stroke="#fff" stroke-width="0.45"/><path d="M105.2 107.7l3.1-2.8l0.8 1.1l-0.5 2.4l-2.2 0.8z" fill="#d9d9d9" stroke="#fff" stroke-width="0.45"/><path d="M111.4 96.5l2.8 0.2l3 2.2l-0.5 0.9l-1 0.1l-0.8-1.7l-2.7-0.5l-3.8 0.2z" fill="#d9d9d9" stroke="#fff" stroke-width="0.45"/><path d="M105.2 107.7l-2.2-1.1l-1-0.3l2.5-1.7z" fill="#d9d9d9" stroke="#fff" stroke-width="0.45"/><path d="M121.2 125.0l-0.8-0.1l-2.1 1.6l-0.8 1.7l0.8 2.2l2.6 0.1l0.1 1.6l2.1-0.2l-2.5 4.5l-2.4 1l-1.6-0.9l-5-8.8l9-3.7l0.8 0.1z" fill="#d9d9d9" stroke="#fff" stroke-width="0.45"/><path d="M102.0 106.3l-2.6-2.2l1.6-2.8l0.4-0.1l2.8 3.4z" fill="#d9d9d9" stroke="#fff" stroke-width="0.45"/><path d="M109.4 112.2l-1.9-1.7l-1.1-0.3l0-1l2.2-0.8l-0.2 0.8l1.5 1.8z" fill="#d9d9d9" stroke="#fff" stroke-width="0.45"/><path d="M110.5 126.6l-0.1-1.3l1-1.4l-0.8-1.7l0.9-2.1l2.1-3l7 6.9l-9 3.7z" fill="#d9d9d9" stroke="#fff" stroke-width="0.45"/><path d="M105.4 103.7l2.9 1.2l-3 2.4l-0.8-2.7z" fill="#d9d9d9" stroke="#fff" stroke-width="0.45"/><path d="M114.1 115.5l-0.2-2.9l-2.2 0.4l-2.3-0.8l0.5-1.2l0.9 0.5l1.5-0.9l1.9 1.3l1.4-1.2l0.6-1.3l2.2-0.9z" fill="#d9d9d9" stroke="#fff" stroke-width="0.45"/><path d="M151.6 49.0l-0.4-3.7l-3.2-0.3l3.7-4l19.8-1.3l2.2 0.4l-6.7 11.5l-1.1 0.1l-2.7 1.7l-4 0.9l-4.1 4.7l-3.5-1.9l-0.8-1.8l-0.3-1.9l0.3-2.2l2.4-1.3z" fill="#d9d9d9" stroke="#fff" stroke-width="0.45"/><path d="M121.3 119.4l0.4 2.3l-0.3 2.4l-0.8-0.1l-7-6.9l0.6-0.7l-0.1-0.9l4.4-6.9l1.1 0.1l3.5 10z" fill="#d9d9d9" stroke="#fff" stroke-width="0.45"/><path d="M119.5 107.9l-0.1 0.8l-1-0.2zM118.1 100.1l2.9-0.1l-0.5 2.3l-2.5-0.7zM117.2 98.9l1.2 0.7l-1.7 0.2z" fill="#d9d9d9" stroke="#fff" stroke-width="0.45"/><path d="M131.3 175.4l1.6-0.1l3.2 2.1l-2 0.5l-2.9-0.9zM131.9 175.0l-1.4 1.2l-3.1-1.3l-3.1-5.1l0.4-2l-0.4-3.6l-1.3-2.5l-0.3-2.4l0.3-4.9l-0.9-5.7l0-7.3l-0.4-1.8l-3.5-2.2l2.4-1l6.5 6.9l-3.4 6.1l3.1 3.6l-1 7.7l0.9 1l0.4 7.1l1.2 1.1l1 4.2z" fill="#d9d9d9" stroke="#fff" stroke-width="0.45"/><path d="M135.7 160.8l-2.8 0.1l0.6 1.9l-2.4 0.4l1 1.5l0.2 2.1l-1.7 1.5l2.1 1.8l-1.1 2.5l-0.1 1.4l0.8 0.7l-0.4 0.3l-2.6-0.9l-1-4.2l-1.2-1.1l-0.4-7.1l-0.9-1l1-7.7l-3.1-3.6l3.4-6.1l1.8-0.1l5 6.9l-1.8 3.6z" fill="#d9d9d9" stroke="#fff" stroke-width="0.45"/><path d="M119.9 109.8l0.3-0.6l-0.2-0.7l-0.4 0.2zM119.9 109.8l3.2 8.9l2.3 1l1.3-0.7l3-8.7l-0.6-0.7l-5.7 0l-1.9-1z" fill="#d9d9d9" stroke="#fff" stroke-width="0.45"/><path d="M119.5 107.9l0.5 0.6l-0.6 0.2zM122.3 100.1l1.4 1.2l-3.2 1l0.5-2.3z" fill="#d9d9d9" stroke="#fff" stroke-width="0.45"/><path d="M137.5 149.2l-2.2 2.8l3.8 1.9l0.7 1.8l0.5-0.5l-0.9 1.4l-3 0.7l0.9 1.2l-0.4 1.8l-1.2 0.5l-3.6-7.1l1.8-3.6z" fill="#d9d9d9" stroke="#fff" stroke-width="0.45"/><path d="M124.3 131.4l1.5 0.2l0.6 1.9l4.3 1.5l0.5 2.6l1.7 0l0.2 0.4l-4.2 5.2l-1.8 0.1l-6.5-6.9l2.5-4.5z" fill="#d9d9d9" stroke="#fff" stroke-width="0.45"/><path d="M131.3 119.0l-0.5-3.9l-1.3 1.1l-1.7 0.4l1.9-6.3l4 4.1l-1.5 4.5z" fill="#d9d9d9" stroke="#fff" stroke-width="0.45"/><path d="M133.9 139.3l-0.3 2.1l0.3 2.2l2.3 0.5l1.3 1.5l-0.1 1.6l0.9 1.6l-4.4 1.3l-5-6.9l4.2-5.2z" fill="#d9d9d9" stroke="#fff" stroke-width="0.45"/><path d="M136.1 118.4l0-3.8l1.5 0.3l1.3 1.3l-0.5 1.8z" fill="#d9d9d9" stroke="#fff" stroke-width="0.45"/><path d="M136.1 118.4l-3.9 0.5l1.5-4.5l2.4 0.2z" fill="#d9d9d9" stroke="#fff" stroke-width="0.45"/><path d="M181.3 116.0l-3.6-2.4l1.6-2l1.4-0.5l1.4 4.7z" fill="#d9d9d9" stroke="#fff" stroke-width="0.45"/><path d="M177.7 113.6l-1.9-1.8l-0.6-1.4l0.6-0.6l3.5 1.8z" fill="#d9d9d9" stroke="#fff" stroke-width="0.45"/><path d="M172.1 105.3l0.7-1.5l0.4-2.8l-0.4-1.1l6.7 4.8l-2.8 2.6l-4.4-0.9z" fill="#d9d9d9" stroke="#fff" stroke-width="0.45"/><path d="M172.4 98.8l2.6-5.4l1.4-1.6l2.6-1.3l3.4 3.6l-9.1 5.9l-0.5-0.1z" fill="#d9d9d9" stroke="#fff" stroke-width="0.45"/><path d="M197.5 60.2l-1-0.7l-1.3 1l-2.3-0.1l-0.7-2.3l0.3-1.1l3.7-2.2l3.8-3.7l1.8-1l3.2-0.7l-0.6 4.3l-3.6-1.5l-1.2 4.4l-1.5 0.3zM204.8 42.2l-6.9 1.9l-2.7-1.1l2.3-1l2.9-0.5z" fill="#d9d9d9" stroke="#fff" stroke-width="0.45"/><path d="M175.2 110.4l-2.7-2.7l-0.2-1.3l4.4 0.9z" fill="#d9d9d9" stroke="#fff" stroke-width="0.45"/><path d="M172.7 53.1l5.7 0.1l0.2 1.1l-4.2 1.5l-2.2-0.3l-1.2-1.6zM173.7 40.1l7.8 0.8l-5 0.9l0.3 3.9l-1.8 2.5l-4.1 3l-3.9 0.4z" fill="#d9d9d9" stroke="#fff" stroke-width="0.45"/><path d="M193.5 68.1l0.6 1.4l-2.1-0.6l-1.4-1.2l1.3-0.8z" fill="#d9d9d9" stroke="#fff" stroke-width="0.45"/><path d="M180.3 67.0l0.1-1.1l0.8-0.6l-0.8-0.7l2-0.9l1.1 0l0.4 0.5l-0.4 0.7l0.1 1.7z" fill="#d9d9d9" stroke="#fff" stroke-width="0.45"/><path d="M176.7 107.3l2.8-2.6l1.9 0.1l0.9 2.9l-1.6 3.4l-1.4 0.5l-3.5-1.8z" fill="#d9d9d9" stroke="#fff" stroke-width="0.45"/><path d="M182.4 94.1l2 0.9l-3 9.8l-1.9-0.1l-6.2-4.7z" fill="#d9d9d9" stroke="#fff" stroke-width="0.45"/><path d="M183.5 83.0l-1.7-1.1l-1.3 0.2l0.1-1.7l-0.6-0.1l0.7-1.8l-0.3-2.6l1.1-0.7l1.4 0.1z" fill="#d9d9d9" stroke="#fff" stroke-width="0.45"/><path d="M200.6 128.3l-0.3-2.9l-1.2-1.2l-1.6-2.6l0-0.5l4-2.6l-0.3 9.5z" fill="#d9d9d9" stroke="#fff" stroke-width="0.45"/><path d="M189.2 114.5l-2.6 1.2l-1.1-0.3l-0.3-5.1l2.6-0.3z" fill="#d9d9d9" stroke="#fff" stroke-width="0.45"/><path d="M184.7 115.2l-2.6 0.6l-1.4-4.7l1.6-3.4l2.9 2.6l0.3 5.1z" fill="#d9d9d9" stroke="#fff" stroke-width="0.45"/><path d="M179.2 90.5l0.3-3.2l3.1-2.6l0.6-1.3l3.2 0.7l0.6 5.7l-2.1 5l-2.5-0.7z" fill="#d9d9d9" stroke="#fff" stroke-width="0.45"/><path d="M184.5 82.5l-1 0.5l-0.6-7.7l4 0.2l3.9 1l0.3 0.7l-1.9 0.8l-1.3 3.5l-1.3 1z" fill="#d9d9d9" stroke="#fff" stroke-width="0.45"/><path d="M193.4 66.9l0.1 1.2l-1.6-1.2l0.7-1.4l1.6-0.2l0 1.3z" fill="#d9d9d9" stroke="#fff" stroke-width="0.45"/><path d="M184.9 94.8l7.1 3.7l-0.2 6.2l-9.9 0.8l-0.5-0.7l3-9.8z" fill="#d9d9d9" stroke="#fff" stroke-width="0.45"/><path d="M191.3 114.1l-2.1 0.4l-1.4-4.5l1.2-0.9z" fill="#d9d9d9" stroke="#fff" stroke-width="0.45"/><path d="M197.5 121.1l0.4-3.6l-1.2-1.6l-2.9 0l2.6-0.8l5.3 3z" fill="#d9d9d9" stroke="#fff" stroke-width="0.45"/><path d="M189.0 109.1l-1.2 0.9l-2.6 0.3l-2.9-2.6l-0.4-2.2l9.9-0.8l0.1 0.3z" fill="#d9d9d9" stroke="#fff" stroke-width="0.45"/><path d="M192.6 114.1l-1.3 0l-2.3-5l2.9-4.1l1.4 1.3l0.3 9.3z" fill="#d9d9d9" stroke="#fff" stroke-width="0.45"/><path d="M186.4 84.1l4.8-1.8l2.1-0.1l0.8 6l3.7 4.4l-0.1 2.5l-5.7 3.4l-7.1-3.7l2.1-5z" fill="#d9d9d9" stroke="#fff" stroke-width="0.45"/><path d="M196.1 77.6l0.1-1.2l0.5-0.5l0.1 1.5zM198.2 72.0l-3.7 0.9l-0.8-0.3l1.3-1.3l3.1 0.2zM190.8 76.5l0.5 0.6l-0.2 0.1z" fill="#d9d9d9" stroke="#fff" stroke-width="0.45"/><path d="M191.8 104.7l0.2-6.2l5.7-3.4l4.6 4l-1.1 8.4l-7.9-1.2z" fill="#d9d9d9" stroke="#fff" stroke-width="0.45"/><path d="M193.8 115.9l-0.5-9.6l7.9 1.2l0.5 0.9l-5.3 6.7z" fill="#d9d9d9" stroke="#fff" stroke-width="0.45"/><path d="M201.7 108.4l2.4 1.7l0.6 6.5l-3 1.5l-5.3-3z" fill="#d9d9d9" stroke="#fff" stroke-width="0.45"/><path d="M193.3 82.2l4.2-0.4l0.9 0.3l-0.4 1.3l0.5 0.6l-0.7 1.3l0.9 0.7l3.5 0.9l-4.4 5.7l-3.7-4.4z" fill="#d9d9d9" stroke="#fff" stroke-width="0.45"/><path d="M195.4 63.8l-0.5-1.4l0.3-0.6l1.6-0.6l-0.1 1.2l0.5 0.2l-0.8 1.2l0.6 0.6zM198.8 63.5l-0.3-0.9l-1.4-2.3l0.4-0.1l1.7 3.3zM195.2 60.5l-1.2 0.3l-0.3-0.1z" fill="#d9d9d9" stroke="#fff" stroke-width="0.45"/><path d="M204.8 58.3l-0.6-1.7l0.7-0.9zM204.4 53.7l-2.6 2.8l-0.1 1.9l1.2 0.5l-0.5 1.1l-0.8 0.3l-0.4 2.5l-1-0.1l-0.4 0.8l-0.6 0l-1.7-3.3l0.6-3.3l1.5-0.3l1.2-4.4z" fill="#d9d9d9" stroke="#fff" stroke-width="0.45"/><path d="M201.2 107.5l1.1-8.4l8.2-1.4l0.9 1.1l0.4 9.2l-7.7 2.1l-2.4-1.7z" fill="#d9d9d9" stroke="#fff" stroke-width="0.45"/><path d="M205.6 88.9l1.3-0.5l-0.1-1.1l3.6 3.6l0.1 6.8l-8.2 1.4l-4.6-4l0.1-2.5l4.4-5.7l1 1.2z" fill="#d9d9d9" stroke="#fff" stroke-width="0.45"/><path d="M201.3 73.8l-1 0l-0.2-1.5l2.5-0.7z" fill="#d9d9d9" stroke="#fff" stroke-width="0.45"/><path d="M198.8 68.5l2.2-0.7l-0.9-2.9l0.7-0.2l2.5 4l-0.3 2.4l-3.4-1.7z" fill="#d9d9d9" stroke="#fff" stroke-width="0.45"/><path d="M202.4 75.4l-1-1.5l1.6-2.6l0.7 1.4z" fill="#d9d9d9" stroke="#fff" stroke-width="0.45"/><path d="M204.6 151.6l-1.9-2.9l-0.7-4.2l-2.3-6l8.6 0.3l-0.1 8.5z" fill="#d9d9d9" stroke="#fff" stroke-width="0.45"/><path d="M200.1 135.6l1.4-2l0.2-1.6l-1.1-3.7l5.5-1.3l2 1.4l2.1 4.8l-0.6 4.5l-1.3 1.1l-8.6-0.3z" fill="#d9d9d9" stroke="#fff" stroke-width="0.45"/><path d="M199.1 71.8l-0.9 0.2l-0.1-0.5l1.5-0.1l0.6-1.4l-0.6-0.6l3.4 1.7l-0.4 0.5l-2.5 0.7z" fill="#d9d9d9" stroke="#fff" stroke-width="0.45"/><path d="M201.7 118.1l3-1.5l1.5 1.2l1.2 3.7l-1.3 5.5l-4.9 1z" fill="#d9d9d9" stroke="#fff" stroke-width="0.45"/><path d="M203.7 72.7l-0.7-1.7l4.6 0l-0.1 1.5l-2.3 1.2z" fill="#d9d9d9" stroke="#fff" stroke-width="0.45"/><path d="M200.8 64.7l2.7-0.6l1 0.3l0.6-0.5l2.7 4l-4.5 0.8z" fill="#d9d9d9" stroke="#fff" stroke-width="0.45"/><path d="M204.1 76.2l-1.5-0.7l1.1-2.8l1.5 1l0 0.9z" fill="#d9d9d9" stroke="#fff" stroke-width="0.45"/><path d="M205.7 78.7l-0.2-1.6l1-0.6l0.7 2.1l-0.8 1.1z" fill="#d9d9d9" stroke="#fff" stroke-width="0.45"/><path d="M211.2 59.0l-6.3-0.9l0-2.4l2.2-1.5l-0.7-0.5l-2 0l0.6-4.3l2.8-0.4l2.2 0.5l-1 1.1l4.9 0.2l0.4 2.3l-1.4-0.3l-0.9 0.5l2.5 1.7l-0.4 4.7l-3.2-0.5z" fill="#d9d9d9" stroke="#fff" stroke-width="0.45"/><path d="M219.2 147.4l-0.1 1.8l-5.8 0.4l-1.4 6.3l-2.9-0.1l-2.3 1l-1.4-0.7l-0.7-4.5l3.6-4.3l3.4 0l3.6-3.5l6 2.1z" fill="#d9d9d9" stroke="#fff" stroke-width="0.45"/><path d="M211.8 108.0l0.6 0.6l0.7 5.8l-6.9 3.4l-1.5-1.2l-0.6-6.5z" fill="#d9d9d9" stroke="#fff" stroke-width="0.45"/><path d="M207.8 67.9l0.6 0.4l-0.8 2.7l-4.6 0l0.3-2.3z" fill="#d9d9d9" stroke="#fff" stroke-width="0.45"/><path d="M206.8 87.1l1.4-0.6l1.4 0.2l4.6 1.6l-3.8 2.6zM212.3 83.9l-0.5 0.3l-2-0.3zM213.8 82.5l-1.8-1.6l0.2-0.3zM209.5 78.7l0.6 0.2l-1.6 0l1.5 2l-0.8 0.3l-0.5-0.4l0.5 0.8l-0.1 1.2l-1.1-0.5l-1.6-2.6l0.8-1.1l2.4-0.4z" fill="#d9d9d9" stroke="#fff" stroke-width="0.45"/><path d="M205.9 61.4l1.5 0.5l0.1-1.1l3.5 1.2l-1.4 1.8z" fill="#d9d9d9" stroke="#fff" stroke-width="0.45"/><path d="M205.5 63.7l-0.4-1.6l0.8-0.7l3.7 2.4l-0.9 4.4l-0.9-0.3l-2.7-4z" fill="#d9d9d9" stroke="#fff" stroke-width="0.45"/><path d="M205.4 77.1l-1.3-0.9l1.1-1.6l1.4 1.8z" fill="#d9d9d9" stroke="#fff" stroke-width="0.45"/><path d="M207.5 72.5l1.2 2.2l-0.2 0.8l-1.9 0.9l-1.4-1.8l0-0.9z" fill="#d9d9d9" stroke="#fff" stroke-width="0.45"/><path d="M207.5 72.5l0.9-4.2l1.3 0.4l2.6 5.8l-3.6 0.2z" fill="#d9d9d9" stroke="#fff" stroke-width="0.45"/><path d="M206.1 127.0l1.3-5.5l-1.2-3.7l6.9-3.4l2.1 2.9l-0.1 1.1l-1.2 2.3l0.2 4.7l3.8 3.5l0.2 1.4l-7.9 2.9l-2.1-4.8z" fill="#d9d9d9" stroke="#fff" stroke-width="0.45"/><path d="M206.6 76.4l1.9-0.9l1.1 2.7l-2.4 0.4z" fill="#d9d9d9" stroke="#fff" stroke-width="0.45"/><path d="M214.3 88.3l2.1-0.1l3 3.1l3.2 5.9l-1.6 1.6l-9.6 0l-0.9-1.1l-0.1-6.8z" fill="#d9d9d9" stroke="#fff" stroke-width="0.45"/><path d="M215.1 118.4l6 4.7l-0.2 0.3l-6.6 0l-0.4-2.7z" fill="#d9d9d9" stroke="#fff" stroke-width="0.45"/><path d="M213.1 114.4l-0.7-5.8l9 0l0.7 5.9l-6.9 2.8z" fill="#d9d9d9" stroke="#fff" stroke-width="0.45"/><path d="M208.3 138.8l1.3-1.1l3 1.2l2.6 4.9l-3.6 3.5l-3.4 0z" fill="#d9d9d9" stroke="#fff" stroke-width="0.45"/><path d="M209.6 63.8l1.4-1.8l3.1-2.2l2 4.7l-4.1 4l-2.3 0.2l-1-0.5z" fill="#d9d9d9" stroke="#fff" stroke-width="0.45"/><path d="M211.8 79.5l-0.2-1.3l-2 0l-0.9-3.5l3.6-0.2l1.1 0.8l-0.2 1.8z" fill="#d9d9d9" stroke="#fff" stroke-width="0.45"/><path d="M219.1 149.2l-3 3.9l-2.5 2.1l-1.7 0.7l1.4-6.3z" fill="#d9d9d9" stroke="#fff" stroke-width="0.45"/><path d="M214.3 123.4l3.3 0l3.3 0l-3 5.5l-3.8-3.5z" fill="#d9d9d9" stroke="#fff" stroke-width="0.45"/><path d="M206.7 59.8l4.2-0.6l3.2 0.6l-3.1 2.2l-4.3-1.7zM206.1 59.1l-1.2-1l3.4 0.6z" fill="#d9d9d9" stroke="#fff" stroke-width="0.45"/><path d="M210.2 133.2l7.9-2.8l0.1 6.2l-5.6 2.3l-3-1.2z" fill="#d9d9d9" stroke="#fff" stroke-width="0.45"/><path d="M214.8 72.4l-1.4 2l0 0.9l-1.1-0.8l-2.6-5.8l2.3-0.2z" fill="#d9d9d9" stroke="#fff" stroke-width="0.45"/><path d="M214.1 50.9l3 0.9l0.7 0.8l-1.5 0.8l-2-0.3zM215.9 55.4l-0.2-1.2l1.9 0.6l0.5-0.3l-0.6-0.6l2-0.8l0.8 0.3l-0.2-1.6l-1-0.7l2.1 0.4l0.5 0.4l-0.8 0.1l0.9 0.8l4.3-1.9l2.7 0.3l1.7-1.2l4.5 0.3l-0.9-1.3l0.7-0.7l-0.1-0.8l2.3 0l0.5 0.5l-0.2 0.7l1.3 0.8l0.7 1.3l1.1 0.5l-0.5 1.9l0.9 0.1l0.7-0.6l0.2-0.9l-1-1.1l-1-0.5l-0.1-0.8l-1.5-0.8l0.8-0.5l-0.5-0.6l1 0.4l0.3 0.9l2.1 0.1l-1.8-0.9l1.5-0.3l2.1 0.7l-1.9-1.5l3.9-0.3l-0.7-1l7.4-1.1l-0.3-0.3l1.4-0.6l3 0.9l2.2-0.1l2.8 0.7l0.2 0.6l-1.4 0.7l2.5 0.1l1.1 0.6l0.8-0.4l2.4 0.2l0.6 0.4l2.9 0.1l-0.7-0.6l2.6 0.1l6 2.3l-0.4-0.8l5.5 0.2l-1.7-0.7l0.5-0.4l6.8 0.5l4.1 1.2l4.1-0.1l3.3 1.3l4.5-0.2l2.5 0.8l0.4-0.2l-1.7-1l6.6 0.6l1.6 0.4l5.7 3.5l-0.3 0.5l-1.1-0.1l4.4 2.2l-1.6-0.2l-1.8 0.7l-0.2 1.7l-2-0.7l-1 0.8l-0.9-0.4l-0.1 0.5l-1.3-0.2l0.8 1.7l1.6 0.5l1.6 1.4l-0.7 0.1l0.6 0.8l0.7 0.3l-0.7 0.6l0.8 1.1l-1.1 0.2l0.9 1.1l-0.3 0.9l-6.6-5.7l1.1-4.1l-1.2-1.4l-0.8 0.1l0 1.8l-2.2-1.2l-1.5 0.4l0 1.5l1.4 0.7l-2.6 0.3l-0.7-0.7l-1.4-0.2l-0.5 0.5l-4.7 0.2l-1.4 4.1l3.3 0.9l0-0.5l1 0.1l2.1 1.1l3 4.7l0 2.2l-0.8 2.9l-0.9 0.7l-1.3-0.6l-0.3 0.6l-1.8-2.2l0.4-0.4l1.2 0.2l-0.9-3.5l-2.9 0.7l-1.1-1.1l-3-0.9l-5-3.4l-2.3-0.3l-0.3 1.3l-9.2-3.7l-2.4 2.1l-8-1.2l-2.6-1.3l-6.5 3.2l-4.4-2.6l-6.5 1.8l-6.4-3l-3.6 3.6l-8.3-2.9l-1.6 1.6l-0.8 4.2l-1.8 0.6l-8.9-3.5l-0.7-1l-2-4.8l0.4-4.7zM235.1 50.4l-0.1-0.1zM236.0 51.5l0.9 0.1l0.2-0.5l-2-0.7zM227.9 49.3l-1.6 0.1l-2.5-0.8l3.6 0.4l-0.3-0.2zM231.9 44.5l-4.9 1.6l-1 1.7l1.1 1l-0.8-0.6l-1.1-1.3l0.3-1.6l5.1-1.2zM246.3 42.6l-1.9-1.4l4.5 0.6l4 1.2zM309.6 72.1l-5.9-7.7l6.3 5.4l-1.4-0.3l2.3 2.6zM281.0 44.9l2.4 0.4l2.3 0.4l-3.3 0.8l-4.5-0.8z" fill="#d9d9d9" stroke="#fff" stroke-width="0.45"/><path d="M215.2 143.8l-2.6-4.9l5.6-2.3l0.8 0.7l1.9 8.3z" fill="#d9d9d9" stroke="#fff" stroke-width="0.45"/><path d="M218.1 130.3l5.5 0.6l-0.5 5.1l-4.1 1.3l-0.8-0.7z" fill="#d9d9d9" stroke="#fff" stroke-width="0.45"/><path d="M216.6 73.5l0.6-0.6l-1.6-0.7l-0.7 0.1l-2.9-3.8l4.1-4l0.7 1l8.9 3.5l-3.2 6l-1.7-1.4l1.2-1.7l-0.9 0.2l-1.2 1.5l-2.3 0.8z" fill="#d9d9d9" stroke="#fff" stroke-width="0.45"/><path d="M221.1 82.6l-1.4-0.2l-2.2-1.1l-2.2 1.8l-1.5-0.6l-1.6-1.9l0.2-0.5l-0.4-0.4l1.2-2.6l-0.1 0.4l1 0.3l1.7 0l1.7-0.8l1.7 0l2.9 1.1l2.6-0.5l1.8 1.3l1.5 3.6l-1.8 0.9l-3.7-2.4z" fill="#d9d9d9" stroke="#fff" stroke-width="0.45"/><path d="M337.4 165.3l3.3-2.3l1.3 0.5l-0.9 1l-4.4 2.2l-1.8 1.5l-1.8 0.7l-1.7-0.6l3.1-1.9zM345.9 161.5l-3.4 2.4l-0.2-0.4l1.2-0.8l-0.1-1.4l0.9-0.4l1.1-1.4l0-3l1.1 0.8l-0.5 2l0.4 0.4l1 0.4l1.2-0.3l-1.7 1.5z" fill="#d9d9d9" stroke="#fff" stroke-width="0.45"/><path d="M226.5 131.2l0.8 0.6l-0.1 3.9l-1.1 2.1l-2.5 1.3l-1.7 2.3l-0.2 4.2l-0.5 0.3l-2.2-8.6l4.1-1.3l0.5-5.1l2.8-1.4z" fill="#d9d9d9" stroke="#fff" stroke-width="0.45"/><path d="M226.5 125.0l-0.7 2.4l0.6 2.1l-2.8 1.4l-5.5-0.6l-0.2-1.4l3.2-5.8l0.8-0.3z" fill="#d9d9d9" stroke="#fff" stroke-width="0.45"/><path d="M211.8 108.0l-0.4-9.2l9.6 0l0.4 9.8l-9 0z" fill="#d9d9d9" stroke="#fff" stroke-width="0.45"/><path d="M215.1 118.4l0.1-1.1l6.9-2.8l0.8 0.8l-1 7.5l-0.8 0.3z" fill="#d9d9d9" stroke="#fff" stroke-width="0.45"/><path d="M222.1 114.5l-0.7-5.9l4.5-0.5l4.2 4.2l-1.9 4.1l-5.3-1.1z" fill="#d9d9d9" stroke="#fff" stroke-width="0.45"/><path d="M216.4 88.2l3.7 0l0.6 3.3l-0.8 0.1l-1.3-2.1l0.8 1.8zM220.9 90.0l-0.8-1.8l0.4-1.7l1.1 0.4z" fill="#d9d9d9" stroke="#fff" stroke-width="0.45"/><path d="M217.9 84.6l-0.1-0.5l2-0.6l-0.4 0.8zM219.2 83.0l-1.3 0.1l-1.8-0.6l1.4-1.2l2.2 1.1z" fill="#d9d9d9" stroke="#fff" stroke-width="0.45"/><path d="M224.3 87.3l-0.8 1.6l-1.2 1l-1.1 0.1l0.4-3.1l1.5-0.5l2.1 1.2z" fill="#d9d9d9" stroke="#fff" stroke-width="0.45"/><path d="M222.6 97.2l1.2 3.6l1.3 1.2l1.2 2.9l1.4 1.1l-1.8 2.1l-4.5 0.5l-0.4-9.8zM229.2 104.1l0-0.5l0.3-0.5l0.1 0.7z" fill="#d9d9d9" stroke="#fff" stroke-width="0.45"/><path d="M220.5 86.5l0.4-1.1l0.3-2.8l1.9 3.8l-1.5 0.5z" fill="#d9d9d9" stroke="#fff" stroke-width="0.45"/><path d="M225.2 87.6l-2.1-1.2l-1.9-3.8l1.3-1.6l3.7 2.4z" fill="#d9d9d9" stroke="#fff" stroke-width="0.45"/><path d="M236.6 136.7l-4 9.8l-1.8 0.6l-1.3-2.1l-0.2-1.8l1.2-1.8l-0.2-2.6l2.3-1.8l3-3.9z" fill="#d9d9d9" stroke="#fff" stroke-width="0.45"/><path d="M230.7 121.1l-3.5 2.4l-0.7 1.5l-4.6-2.2l1-7.5l5.3 1.1z" fill="#d9d9d9" stroke="#fff" stroke-width="0.45"/><path d="M227.2 88.2l-1.9-0.6l0.9-4.2l1.8-0.9l0.7 0.1l2.5 4.5l-1.8 2.7z" fill="#d9d9d9" stroke="#fff" stroke-width="0.45"/><path d="M235.7 90.7l-0.9-1.4l-1.2-0.2l-0.2 0.4l-0.5-0.1l0.5 1.4l-4-1l1.8-2.7l2.8 0.2z" fill="#d9d9d9" stroke="#fff" stroke-width="0.45"/><path d="M227.9 106.1l2 1.4l0.7 2.2l1.5-0.2l-0.7 2.1l-1.3 0.7l-4.2-4.2zM231.9 107.1l-1.8 0.4l-1-2.7l0.5-1z" fill="#d9d9d9" stroke="#fff" stroke-width="0.45"/><path d="M232.1 109.5l5.4-1.2l-0.6 2.9l-2.2 4.9l-4 5l-2.5-4.7l1.9-4.1l1.3-0.7z" fill="#d9d9d9" stroke="#fff" stroke-width="0.45"/><path d="M229.6 71.8l-0.7 4.5l-2.4 2.6l-4-3.9l3.2-6l1.8-0.6z" fill="#d9d9d9" stroke="#fff" stroke-width="0.45"/><path d="M230.0 75.9l2.3 3.1l0.1 2.1l0.3 0.2l-2.6 0.3l-1.2-5.3l0.3-2zM235.8 79.5l-0.7-2.2l0.5 0.5zM233.4 75.9l-0.3-0.6l1.2 1.2zM229.3 73.6l0.3-1.8l0.7 0.7z" fill="#d9d9d9" stroke="#fff" stroke-width="0.45"/><path d="M239.0 103.2l-0.7 0.3l-0.1 0.9l-6.3 2.6l-2.3-3.2l-0.1-0.7l0.2-0.7l3.5 0.6l1.8-1.7l2.6-0.4z" fill="#d9d9d9" stroke="#fff" stroke-width="0.45"/><path d="M261.3 71.8l-2.2-0.2l0.3 1.7l-1.6 0.7l0.7 3l-7.7-4.5l-1.3 2.8l-1.1 0.5l-7.7-4.5l-0.6 3.4l-4.5 3.1l-3-3.4l1.6-0.5l-0.4-1.5l-1.4-0.5l-2.1 0.6l-2.8-4.1l0.8-4.2l1.6-1.6l8.3 2.9l3.6-3.6l6.4 3l6.5-1.8l4.4 2.6l2.5 4.9z" fill="#d9d9d9" stroke="#fff" stroke-width="0.45"/><path d="M226.5 78.9l2.4-2.6l1.2 5.3l-1.4 1l-0.7-0.1z" fill="#d9d9d9" stroke="#fff" stroke-width="0.45"/><path d="M245.8 94.5l-3.6-0.6l-0.6-1.4l-1.6 0.3l-1-1.4l-3.1-0.8l-1.9-3.3l-2.8-0.2l-2.5-4.5l1.4-1l2.6-0.3l2.6 1.2l1.7-0.3l0-0.3l3.3 2.7l3.6 0.4l3.1 4.8z" fill="#d9d9d9" stroke="#fff" stroke-width="0.45"/><path d="M291.2 107.8l-1.1 1.3l-1.5 0.7l-1-0.2l-1.3-2.7l0.8-1.4l3.9 0.6z" fill="#d9d9d9" stroke="#fff" stroke-width="0.45"/><path d="M309.0 114.8l-1.4-1l-2-0.5l3.2-2.1l1 0.7l0.2 1.2zM305.5 108.4l0.1-0.8l1.9 0l1.3 1l-0.5 1.6l-1.7 0.5zM304.5 101.7l-0.1 4l2.4 0.6l0.2 1.2l-3.5-1.8l-0.5-0.7l-0.5-1.5l0.5 0.2l-0.2-2.3z" fill="#d9d9d9" stroke="#fff" stroke-width="0.45"/><path d="M239.5 93.0l-3.1-1.4l-0.6-0.8l3.2 0.6l1 1.4z" fill="#d9d9d9" stroke="#fff" stroke-width="0.45"/><path d="M237.0 81.9l-1.2-2.4l-0.2-1.7l4.5-3.1l5 7.2l-1.2 3.1l-3.6-0.4z" fill="#d9d9d9" stroke="#fff" stroke-width="0.45"/><path d="M243.6 96.1l1.2 1.6l-1 1.7l-0.5-0.1l-0.1 1.7l-1.1 0.3l-1.1 1.4l-2 0.5l-1.4-2.3l3-1.1l0.4-2.1l-0.6-0.7l0.5-2.2z" fill="#d9d9d9" stroke="#fff" stroke-width="0.45"/><path d="M255.7 82.2l1.7 1.1l1.7 0.4l1.1 1.3l0.8 1.8l-0.7-0.1l0.5 1.2l2.5 1.3l-0.5 1.5l3.2 1.5l3.6 0.8l1.9 1.7l-0.4 0.4l0.6 0.4l0.4 1.3l-0.7 0.8l0.9 0.1l0 0.3l-1.8 0.2l-0.2 1.4l-1.3 0.7l-2.3 3l-1.8 0.8l0.1 5.7l-0.5 0.1l-0.4 0.8l0.3 0.3l-1.5 1.3l-0.9-1l-3.6-7.3l-1.4-5.6l-1.9 0.5l-1.4-1.3l0.3-0.4l-0.4-0.4l1.5-3.1l1.9-0.9l0.1-2.7l-3.4-5.1zM274.5 91.6l1.6-1.4l2.7 1l1.5 0.8l-0.3 2.5l-4.5 2.5l-0.3-1.1l-0.4 0.6l0.3-1.8l-1-0.2z" fill="#d9d9d9" stroke="#fff" stroke-width="0.45"/><path d="M253.6 96.8l-1.8-1l-1.2-1.6l-4.8 0.3l1.2-4.7l2.5-0.3l3-4.7l1.2 0.2l3.4 5.1l-0.1 2.7l-1.9 0.9z" fill="#d9d9d9" stroke="#fff" stroke-width="0.45"/><path d="M243.9 85.0l1.2-3.1l3.1-1l4.3 3.9l-3 4.7l-2.5 0.3z" fill="#d9d9d9" stroke="#fff" stroke-width="0.45"/><path d="M240.7 71.3l7.7 4.5l-0.2 5.1l-3.1 1l-5-7.2z" fill="#d9d9d9" stroke="#fff" stroke-width="0.45"/><path d="M258.5 77.0l-2.3 1.6l-1.4-0.1l-0.9 1l1.6 2l-6-6.2l1.3-2.8z" fill="#d9d9d9" stroke="#fff" stroke-width="0.45"/><path d="M255.4 82.0l0.3 0.2l-2 2.8l-1.2-0.2l-4.3-3.9l0.2-5.1l1.1-0.5l6 6.2z" fill="#d9d9d9" stroke="#fff" stroke-width="0.45"/><path d="M270.8 92.9l-0.3-1.3l0.4-0.2l3.4 0.3l-0.2 2.8l-1.4-0.2l-0.3-0.8l-1.2-0.4l-0.3 0.7l0.8 0.6l-0.2 0.3l-1.9-1.7z" fill="#d9d9d9" stroke="#fff" stroke-width="0.45"/><path d="M280.1 95.7l0.6-0.1l1.3 1.2l-0.1 0.8l0.5 0.4l-0.2 3.2l1.9 6.6l-1.2 0.7l-2-5.5l-1.6 1.3l-1.2-0.3l-0.2-2.3l-0.7-1.6l-2-2l0.7 0.4l-0.4-1.5l4.5-2.5z" fill="#d9d9d9" stroke="#fff" stroke-width="0.45"/><path d="M287.8 66.6l0.2 2l-0.7 0.7l-1.6-0.3l4.7 2.8l-2.1 0.6l-1.2 1.1l-2.2 0.2l0.2 1.8l-3 0.9l-1.3 0.9l-4.1-1.1l-4 0l-1.6-1.6l-4.3-1.1l-0.4-0.8l-4.5-3l-0.3 0.9l-2.5-4.9l6.5-3.2l2.6 1.3l8 1.2l2.4-2.1z" fill="#d9d9d9" stroke="#fff" stroke-width="0.45"/><path d="M291.3 100.6l1.4-0.9l0.8 0.4l-0.4 1.3l-0.8 0.3l-0.8-0.3zM282.4 98.0l2.1 0.6l0.2-1.3l1.2 1.7l1.3 0.8l-0.4 0.8l1.3 0.6l2.9 3.6l0 1.3l-3.9-0.6l-0.6-2.6l-4.3-1.7z" fill="#d9d9d9" stroke="#fff" stroke-width="0.45"/><path d="M287.1 105.5l-2 2l-0.2-0.8l-0.8 0l0 1.1l-1.8-6.5l4.2 1.6zM283.5 109.2l0.1 1.8l0.7 0l0.7 1.9l1.5 1.2l-1.9-0.3l-1.6-1.9l-0.2 0.6l0.1-4l1.1-0.4z" fill="#d9d9d9" stroke="#fff" stroke-width="0.45"/><path d="M301.8 94.5l0.9 0.1l-0.4 3.2l-0.9-1.1z" fill="#d9d9d9" stroke="#fff" stroke-width="0.45"/><path d="M311.8 85.5l-0.6-0.9l-2.1 0.4l0.1 3l-0.7 0.1l-0.4-0.5l-0.3-2.9l0.8-0.9l3-0.3l-0.3-1.7l0.8 0.4l1.1-1.3l0-1.2l-1-1.9l0.8-0.2l2.3 3l-0.4 0.8l0.9 2.6l-2.7 0.9l-0.5 0.9zM314.3 74.5l1 1.1l-1 1.4l-1.8-0.6l-0.1 0.9l-0.6 0.3l-1-1.2l0.5-1.3l-1-1.7l3.7 1.5zM311.2 72.4l-0.9 0.5l-0.7-0.8l1.3 0z" fill="#d9d9d9" stroke="#fff" stroke-width="0.45"/><path d="M303.2 76.8l-0.5-0.1l-0.1 0.7l0.4 0.7l-1.3 1.1l1.4 1.2l-1.5 1l-1.5-0.4l0-1.3l-1.2-0.5l1.1-2l2.9-0.6l-0.3-0.5l0.5-0.1l0.4 0.2zM307.4 86.7l-0.1-0.9l0.5-1.1l0.3 2.9z" fill="#d9d9d9" stroke="#fff" stroke-width="0.45"/><path d="M319.4 163.1l-2 2.4l-2 0.3l1-2.9zM316.6 160.9l-2.8-1.4l0.8-1.4l-1.1-0.5l1-1.2l-1.1 0.7l0.9-1.6l-1.2 1.4l-1.2-0.1l-0.5-0.3l-0.9-2.6l-1.3-0.6l-6.2 1.3l-1.8 1.2l-2.8 0l-2.8 1.3l-1.3-0.1l-0.9-1.5l0.8-0.3l0.5-1.3l0.4-6l-0.4-0.7l0.9-3.3l3.1-1.8l4.8-1.5l0.9-1.1l0.3-1.1l1 0.2l3.1-3.3l1-0.4l1.1 1.2l1.1 0l0.8-2l2.5-0.9l0.1-0.5l2.9 2.1l-0.1 1.4l2.6 2.5l0.8 0.3l1.1-1l6.6 5.1l0.2 0.7l0.9 0.1l-0.2 1.7l1.7 1.2l-0.7 3l-1.7 3l-6.3 6.7l-4.3 1.6l-0.8-0.6l0.2-0.5z" fill="#d9d9d9" stroke="#fff" stroke-width="0.45"/><path d="M318.3 134.8l-3.4-2.4l3 0.9l1-0.3l0.5 0.5zM322.7 138.0l0.9-1.8l0.1-2.2l1.3-2.3l0.8 1.7l-0.3 1.5l1.6 1.3l-0.2 4.2l2.2 1.4l0.2 1.3zM327.6 124.7l2.7 2.2l-0.7 0.7l1.5 2.5l1.9 1.2l-0.9 0.4l-1.9-0.6l-1.5-2.2l-1.3-0.4l-1.4 0.6l0 0.9l-2.2 0.1l0.4-6.8z" fill="#d9d9d9" stroke="#fff" stroke-width="0.45"/>
<defs><linearGradient id="lg2" x1="0" y1="0" x2="0" y2="1"><stop offset="0" stop-color="#1a4660"/><stop offset="1" stop-color="#cbe8f6"/></linearGradient></defs>
<rect x="378.5" y="40.6" width="8.5" height="85.1" fill="url(#lg2)"/>
<text x="374.3" y="24" font-family="Noto Sans, sans-serif" font-size="10.4" fill="#404040">FY 2020-21</text>
<text x="393.2" y="44" font-family="Noto Sans, sans-serif" font-size="10.4" fill="#404040">₹ 5,341</text>
<text x="393.2" y="129.4" font-family="Noto Sans, sans-serif" font-size="10.4" fill="#404040">₹ 293</text>
<text x="309.4" y="236.4" font-family="Liberation Sans, sans-serif" font-size="6.9" fill="#444">Powered by Bing</text>
</g></svg></div>
</body></html>
